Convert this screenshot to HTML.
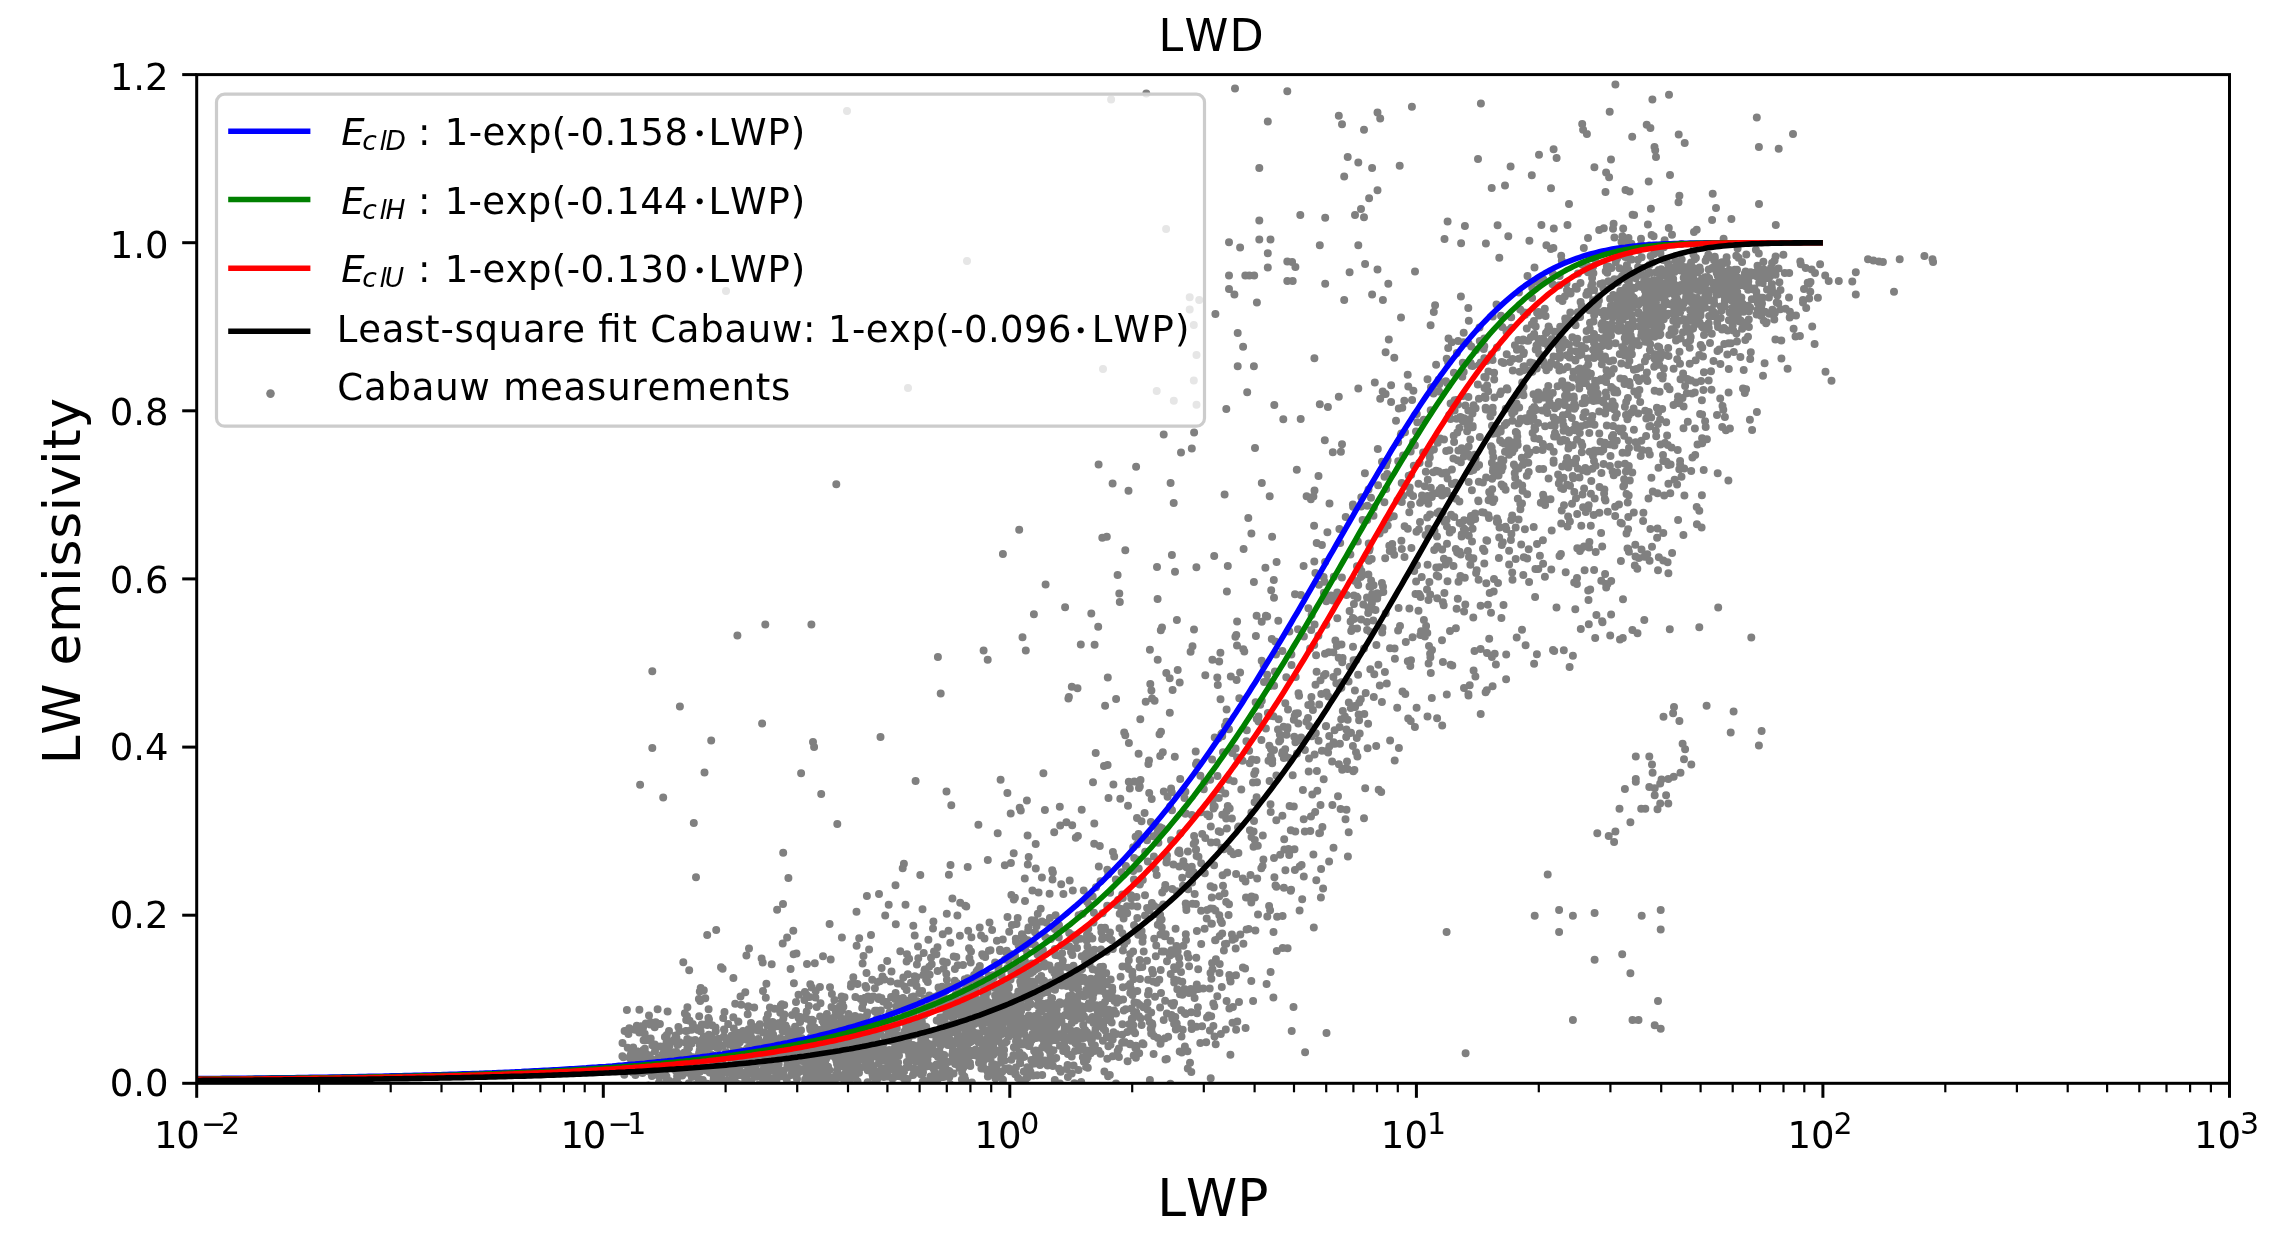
<!DOCTYPE html>
<html><head><meta charset="utf-8"><title>LWD</title>
<style>
html,body{margin:0;padding:0;background:#fff;}
svg{display:block;filter:blur(0.75px);}
text{font-family:"DejaVu Sans","Liberation Sans",sans-serif;fill:#000;font-kerning:none;white-space:pre;}
.it{font-style:oblique;}
</style></head><body>
<svg width="2281" height="1240" viewBox="0 0 2281 1240">
<rect width="2281" height="1240" fill="#fff"/>
<defs><clipPath id="ax"><rect x="196.7" y="74.6" width="2032.8" height="1008.6999999999999"/></clipPath></defs>
<g clip-path="url(#ax)"><path fill="none" stroke="#808080" stroke-width="8.0" stroke-linecap="round" d="M1411.9 106.7h0M1553.6 149.3h0M1556.6 157.9h0M1586.9 134.1h0M1480.9 103.4h0M1583.1 129.7h0M1539.0 154.8h0M1582.2 124.1h0M1650.4 128.1h0M1611.0 159.6h0M1609.7 111.7h0M1687.1 71.9h0M1577.5 62.2h0M1646.7 124.7h0M1615.4 84.6h0M1652.4 99.5h0M1684.7 143.1h0M1669.0 94.8h0M1778.7 148.8h0M1678.7 134.6h0M1758.9 147.1h0M1756.8 117.6h0M1478.0 159.1h0M1531.8 175.3h0M1510.6 166.6h0M1569.0 204.0h0M1551.0 188.2h0M1589.6 267.0h0M1550.8 248.9h0M1631.6 259.4h0M1485.9 243.4h0M1505.0 185.5h0M1625.5 190.1h0M1541.4 225.1h0M1609.1 177.3h0M1491.7 188.0h0M1664.6 240.3h0M1632.2 136.8h0M1615.8 261.9h0M1606.1 172.5h0M1594.4 167.2h0M1660.4 253.2h0M1629.6 191.5h0M1670.0 175.0h0M1656.0 157.0h0M1716.0 208.1h0M1655.2 150.2h0M1605.5 191.9h0M1638.3 250.2h0M1611.5 268.0h0M1632.6 214.7h0M1648.7 181.4h0M1653.6 236.2h0M1654.5 147.1h0M1613.0 228.8h0M1679.4 195.8h0M1649.1 245.5h0M1678.5 202.3h0M1793.0 134.1h0M1805.7 268.0h0M1738.5 257.8h0M1750.2 272.2h0M1712.7 193.7h0M1759.0 203.9h0M1755.9 249.7h0M1464.9 226.1h0M1435.1 305.2h0M1388.8 339.5h0M1430.6 325.3h0M1499.3 257.8h0M1539.0 315.5h0M1447.6 221.6h0M1401.0 317.5h0M1449.1 361.4h0M1508.3 236.2h0M1444.5 239.0h0M1468.3 308.1h0M1461.1 243.3h0M1415.0 271.6h0M1448.5 338.5h0M1501.0 315.8h0M1365.1 263.9h0M1460.9 296.4h0M1456.9 353.1h0M1532.1 298.1h0M1468.8 320.7h0M1544.8 308.8h0M1539.1 282.8h0M1497.6 225.2h0M1580.6 302.0h0M1546.4 245.3h0M1518.9 292.6h0M1629.2 309.1h0M1605.6 324.4h0M1622.9 243.9h0M1594.7 305.5h0M1543.5 279.4h0M1592.4 288.8h0M1561.2 255.8h0M1622.4 236.3h0M1547.6 331.4h0M1475.9 349.9h0M1603.8 228.3h0M1620.2 306.4h0M1580.5 283.0h0M1561.8 260.8h0M1580.1 317.1h0M1543.1 338.7h0M1562.5 300.9h0M1567.5 225.0h0M1527.5 276.0h0M1553.8 228.5h0M1570.3 312.4h0M1534.5 267.4h0M1592.2 283.7h0M1553.4 248.1h0M1533.9 321.0h0M1594.2 315.3h0M1593.5 321.5h0M1620.3 319.9h0M1577.8 312.3h0M1529.4 240.8h0M1523.4 312.2h0M1507.3 330.3h0M1596.1 306.3h0M1592.1 277.9h0M1617.8 282.4h0M1570.1 291.8h0M1518.4 339.9h0M1575.7 286.8h0M1620.2 324.3h0M1603.3 288.3h0M1564.8 296.4h0M1550.5 341.1h0M1619.3 279.0h0M1606.8 266.7h0M1511.2 317.2h0M1631.7 315.0h0M1587.4 292.0h0M1619.3 254.1h0M1549.3 328.5h0M1588.5 293.7h0M1581.6 305.7h0M1588.0 272.2h0M1536.5 345.4h0M1600.3 283.9h0M1545.6 316.1h0M1537.7 348.3h0M1620.3 291.0h0M1532.2 287.8h0M1576.8 288.7h0M1598.8 296.4h0M1566.5 283.4h0M1552.6 284.3h0M1511.5 327.8h0M1552.9 273.7h0M1586.6 330.9h0M1559.6 276.1h0M1582.4 264.7h0M1479.5 327.6h0M1628.2 301.9h0M1496.5 304.6h0M1593.4 338.7h0M1492.8 316.4h0M1583.8 248.0h0M1534.6 280.9h0M1527.4 340.8h0M1564.0 344.9h0M1520.2 309.5h0M1570.3 312.5h0M1565.6 321.8h0M1484.3 358.2h0M1627.0 280.0h0M1576.5 342.9h0M1617.2 315.7h0M1599.2 230.1h0M1695.8 283.0h0M1613.6 305.7h0M1654.3 321.7h0M1652.0 316.9h0M1593.0 300.3h0M1644.9 297.8h0M1660.9 352.1h0M1695.9 281.4h0M1697.0 297.9h0M1653.4 286.6h0M1691.7 280.4h0M1658.6 283.2h0M1721.3 271.9h0M1705.1 277.2h0M1645.3 280.8h0M1692.4 297.0h0M1667.0 270.2h0M1648.8 290.2h0M1689.2 331.4h0M1606.5 327.6h0M1617.8 298.9h0M1677.1 301.3h0M1614.4 279.3h0M1666.6 276.1h0M1684.6 283.5h0M1634.5 301.8h0M1567.0 290.2h0M1638.1 266.9h0M1640.6 319.9h0M1655.9 290.1h0M1604.0 315.9h0M1664.4 303.1h0M1700.4 312.2h0M1689.2 298.4h0M1731.9 286.6h0M1641.3 300.2h0M1641.1 244.6h0M1663.2 259.9h0M1614.4 237.6h0M1605.7 271.3h0M1648.0 317.1h0M1660.2 282.7h0M1623.8 270.1h0M1672.6 334.3h0M1699.5 322.3h0M1652.8 291.8h0M1642.2 268.1h0M1690.1 310.0h0M1667.6 281.4h0M1721.5 265.1h0M1622.7 255.1h0M1648.2 297.5h0M1683.3 288.2h0M1685.9 299.8h0M1633.0 287.7h0M1668.4 291.0h0M1613.7 309.6h0M1581.5 346.0h0M1740.7 280.2h0M1693.4 301.2h0M1712.1 220.0h0M1674.6 321.0h0M1645.8 303.8h0M1637.5 273.5h0M1656.0 302.1h0M1645.6 288.1h0M1727.4 274.3h0M1641.8 274.9h0M1716.6 294.5h0M1687.4 278.5h0M1681.7 259.5h0M1697.9 272.3h0M1646.8 307.6h0M1667.8 303.9h0M1607.3 272.8h0M1644.9 290.5h0M1676.5 325.1h0M1627.1 297.5h0M1699.6 267.4h0M1707.8 279.3h0M1695.3 305.5h0M1635.7 278.3h0M1680.2 312.1h0M1636.8 341.2h0M1673.2 279.1h0M1647.9 296.1h0M1630.2 258.8h0M1673.9 302.1h0M1638.3 304.8h0M1646.0 300.2h0M1692.4 289.1h0M1695.9 258.1h0M1686.3 292.8h0M1663.9 247.3h0M1677.8 306.2h0M1732.7 292.8h0M1653.9 254.1h0M1677.2 306.4h0M1632.1 276.7h0M1668.8 269.0h0M1622.5 307.2h0M1689.9 265.6h0M1628.5 238.0h0M1711.8 268.4h0M1643.4 317.7h0M1726.8 283.3h0M1644.2 287.5h0M1649.4 299.1h0M1726.4 275.4h0M1705.4 283.8h0M1662.3 283.6h0M1602.3 329.6h0M1685.5 286.6h0M1654.2 354.2h0M1668.8 228.1h0M1636.6 302.5h0M1654.0 316.3h0M1657.0 248.8h0M1655.2 318.8h0M1708.3 254.7h0M1650.2 272.8h0M1697.8 290.1h0M1701.3 285.3h0M1668.4 313.8h0M1644.2 280.3h0M1649.9 350.1h0M1652.0 292.3h0M1658.4 297.7h0M1641.0 238.7h0M1650.3 320.9h0M1617.3 301.6h0M1597.1 311.6h0M1641.6 257.3h0M1666.6 258.9h0M1591.2 286.2h0M1719.0 271.6h0M1681.0 285.0h0M1692.6 317.3h0M1651.5 325.1h0M1620.5 306.9h0M1662.3 296.6h0M1623.2 297.7h0M1639.1 303.2h0M1652.8 282.2h0M1688.3 289.1h0M1611.2 286.0h0M1670.3 290.3h0M1623.2 228.4h0M1729.1 279.9h0M1638.7 345.3h0M1654.2 307.9h0M1620.5 296.1h0M1661.3 290.1h0M1671.6 331.6h0M1618.2 306.2h0M1714.0 260.2h0M1664.3 297.1h0M1704.8 244.2h0M1661.2 269.2h0M1664.5 297.6h0M1626.9 296.8h0M1586.3 294.7h0M1652.4 262.5h0M1638.8 313.7h0M1604.8 339.1h0M1652.7 282.4h0M1679.3 286.2h0M1593.0 266.7h0M1650.2 344.2h0M1656.7 329.7h0M1686.9 270.9h0M1677.7 292.2h0M1663.8 319.3h0M1595.0 259.6h0M1613.6 223.7h0M1686.6 330.3h0M1626.6 315.1h0M1720.8 306.4h0M1703.5 285.0h0M1588.0 238.0h0M1598.9 300.4h0M1622.2 311.2h0M1718.1 284.7h0M1671.6 329.2h0M1693.1 302.3h0M1702.2 325.5h0M1674.5 271.9h0M1694.1 319.8h0M1646.1 278.5h0M1687.7 299.5h0M1677.7 263.8h0M1653.4 280.3h0M1653.9 328.4h0M1627.0 315.9h0M1705.1 307.7h0M1654.1 301.1h0M1665.7 301.8h0M1630.2 330.1h0M1562.6 327.4h0M1624.2 328.7h0M1654.2 294.9h0M1650.0 311.4h0M1712.9 315.9h0M1668.2 293.6h0M1668.2 274.5h0M1644.8 320.6h0M1594.1 289.9h0M1625.2 256.9h0M1608.7 266.5h0M1646.4 308.5h0M1654.6 304.0h0M1621.5 242.0h0M1644.1 315.0h0M1714.8 256.8h0M1648.2 302.2h0M1723.6 238.8h0M1626.2 334.5h0M1689.6 277.8h0M1624.2 302.6h0M1612.0 311.0h0M1597.5 337.7h0M1703.0 356.4h0M1657.3 315.3h0M1694.0 231.9h0M1605.0 356.4h0M1734.5 280.9h0M1632.8 297.0h0M1692.8 267.7h0M1627.9 245.3h0M1626.0 303.9h0M1645.8 294.6h0M1672.7 305.2h0M1672.8 293.0h0M1723.1 290.4h0M1644.9 323.0h0M1631.3 306.9h0M1626.9 307.9h0M1651.6 234.9h0M1593.4 273.3h0M1642.7 300.3h0M1676.0 292.8h0M1675.3 266.8h0M1655.9 272.5h0M1717.0 287.5h0M1654.6 303.1h0M1647.9 224.4h0M1689.1 287.0h0M1688.3 320.2h0M1624.1 289.9h0M1644.7 338.5h0M1619.5 268.2h0M1638.0 259.8h0M1721.7 287.4h0M1617.1 258.6h0M1627.1 298.8h0M1647.5 284.6h0M1628.7 324.7h0M1694.3 285.7h0M1653.4 310.0h0M1605.7 326.0h0M1700.7 344.9h0M1673.6 283.5h0M1641.2 335.6h0M1683.9 267.0h0M1693.9 246.5h0M1644.6 281.4h0M1645.6 301.8h0M1702.1 326.8h0M1625.2 332.4h0M1700.6 315.5h0M1680.5 286.4h0M1661.4 326.4h0M1638.9 284.8h0M1649.0 272.4h0M1667.9 273.1h0M1638.4 312.3h0M1606.5 332.7h0M1696.7 229.8h0M1590.0 322.8h0M1693.5 278.7h0M1613.6 313.2h0M1601.0 312.3h0M1712.3 282.4h0M1672.7 269.4h0M1689.6 332.7h0M1619.1 300.8h0M1725.7 276.1h0M1694.6 313.5h0M1602.9 283.3h0M1723.6 279.6h0M1659.8 321.0h0M1680.8 289.0h0M1676.0 340.5h0M1682.9 290.6h0M1650.8 307.3h0M1626.7 330.6h0M1681.6 243.9h0M1652.5 247.6h0M1658.8 269.9h0M1611.0 305.7h0M1626.9 265.0h0M1624.7 338.1h0M1680.0 267.7h0M1618.6 330.8h0M1674.9 295.7h0M1702.0 278.4h0M1667.0 303.2h0M1621.3 307.5h0M1680.7 270.4h0M1615.5 296.7h0M1631.4 243.7h0M1697.7 301.2h0M1655.7 335.1h0M1622.6 319.8h0M1683.6 319.3h0M1691.7 302.5h0M1664.7 288.2h0M1717.7 294.4h0M1671.6 304.7h0M1712.4 289.6h0M1624.5 300.3h0M1650.9 208.7h0M1678.4 339.0h0M1666.4 315.8h0M1613.2 294.9h0M1724.0 271.6h0M1661.4 272.2h0M1626.2 302.7h0M1658.4 316.6h0M1631.9 354.3h0M1659.6 279.1h0M1654.3 248.5h0M1619.0 327.3h0M1626.0 287.4h0M1663.5 290.4h0M1649.5 337.8h0M1686.6 328.0h0M1625.6 306.8h0M1645.3 341.8h0M1635.1 288.0h0M1731.1 297.5h0M1654.4 286.3h0M1606.1 325.4h0M1649.4 265.0h0M1728.6 343.3h0M1651.0 319.8h0M1689.7 347.7h0M1622.2 347.0h0M1622.0 276.2h0M1659.6 335.2h0M1694.3 281.7h0M1633.9 298.1h0M1677.3 306.8h0M1646.5 315.2h0M1648.3 273.3h0M1676.1 285.4h0M1608.4 281.3h0M1639.7 274.3h0M1664.4 303.6h0M1641.6 286.9h0M1628.9 282.2h0M1610.1 298.7h0M1675.3 260.6h0M1628.6 269.9h0M1676.8 298.8h0M1705.7 289.2h0M1656.5 245.7h0M1673.3 320.8h0M1668.1 285.5h0M1686.8 328.5h0M1559.4 285.2h0M1623.3 277.1h0M1662.7 312.5h0M1635.6 273.2h0M1695.7 360.3h0M1650.9 303.0h0M1705.6 260.7h0M1659.9 327.7h0M1701.6 284.9h0M1672.0 234.8h0M1717.9 267.5h0M1641.7 332.2h0M1647.6 286.5h0M1650.7 255.9h0M1630.8 292.7h0M1658.2 292.4h0M1698.2 299.5h0M1577.3 338.8h0M1578.0 273.5h0M1692.5 288.1h0M1620.1 292.6h0M1731.3 277.6h0M1655.1 318.5h0M1672.3 277.1h0M1708.2 279.7h0M1674.6 319.0h0M1634.1 215.1h0M1733.9 284.5h0M1665.3 284.8h0M1668.0 286.5h0M1756.6 314.4h0M1668.1 263.7h0M1719.3 268.5h0M1714.2 303.9h0M1724.9 277.4h0M1752.4 272.8h0M1695.6 309.6h0M1691.2 318.0h0M1731.2 321.3h0M1713.1 245.1h0M1708.4 294.5h0M1745.9 281.8h0M1726.6 257.3h0M1715.6 316.1h0M1722.0 285.4h0M1745.6 271.6h0M1718.0 326.9h0M1789.7 317.6h0M1768.0 274.8h0M1736.7 276.8h0M1742.8 304.0h0M1750.1 307.6h0M1702.7 304.5h0M1697.0 316.5h0M1734.5 317.5h0M1701.6 303.9h0M1711.8 314.4h0M1756.7 276.2h0M1739.3 310.6h0M1724.4 296.3h0M1737.5 295.0h0M1776.7 302.6h0M1780.3 309.3h0M1737.8 316.4h0M1748.1 289.7h0M1743.6 311.8h0M1701.2 280.5h0M1785.6 308.8h0M1759.2 282.4h0M1737.6 248.6h0M1789.2 272.9h0M1739.6 321.4h0M1772.7 270.4h0M1708.7 269.6h0M1683.7 277.7h0M1726.9 262.8h0M1693.4 254.5h0M1736.5 290.3h0M1735.3 272.3h0M1758.8 253.6h0M1737.0 269.7h0M1754.4 288.6h0M1810.3 291.7h0M1772.4 309.7h0M1709.1 316.0h0M1728.9 320.2h0M1803.0 302.4h0M1751.5 275.5h0M1731.4 219.0h0M1804.0 289.0h0M1733.2 330.5h0M1773.2 292.5h0M1727.0 282.8h0M1705.0 291.8h0M1779.4 282.2h0M1740.2 301.3h0M1736.8 304.6h0M1757.8 303.0h0M1766.6 322.2h0M1736.3 255.7h0M1743.3 277.4h0M1700.5 306.9h0M1767.6 278.0h0M1734.7 269.7h0M1757.6 309.7h0M1772.5 270.8h0M1772.1 262.9h0M1771.9 289.0h0M1751.8 299.2h0M1729.6 312.4h0M1775.8 224.9h0M1751.2 274.4h0M1727.3 354.4h0M1707.2 277.0h0M1735.0 303.7h0M1733.0 320.5h0M1762.7 297.8h0M1700.7 310.8h0M1807.7 282.7h0M1681.9 304.7h0M1702.6 288.0h0M1693.1 328.6h0M1728.4 292.3h0M1748.3 281.4h0M1690.9 281.8h0M1762.6 271.3h0M1689.3 284.8h0M1763.7 320.7h0M1765.0 311.7h0M1771.0 267.8h0M1674.3 308.9h0M1771.9 288.0h0M1760.3 278.1h0M1716.7 272.9h0M1694.6 259.3h0M1691.1 262.6h0M1766.0 323.2h0M1724.6 286.8h0M1768.9 297.4h0M1708.7 323.3h0M1686.2 268.7h0M1704.0 335.1h0M1741.4 297.6h0M1708.0 300.4h0M1731.3 300.2h0M1702.3 347.4h0M1731.7 276.1h0M1752.7 289.0h0M1812.2 326.5h0M1678.3 301.2h0M1760.9 297.8h0M1705.6 277.4h0M1747.4 285.1h0M1734.6 290.1h0M1774.6 260.4h0M1748.8 319.5h0M1768.8 274.3h0M1699.3 355.1h0M1683.7 303.3h0M1729.5 269.9h0M1714.9 257.9h0M1711.9 309.2h0M1762.7 283.0h0M1712.6 267.8h0M1742.1 261.9h0M1707.3 296.9h0M1713.9 300.2h0M1700.2 270.3h0M1742.1 328.7h0M1774.8 313.1h0M1769.2 313.8h0M1817.9 297.7h0M1723.9 327.9h0M1775.6 256.4h0M1698.3 323.8h0M1732.3 308.0h0M1756.8 296.0h0M1773.8 272.3h0M1693.8 280.8h0M1744.7 278.5h0M1753.5 289.6h0M1682.7 308.1h0M1734.8 286.3h0M1767.0 289.5h0M1716.9 282.6h0M1735.0 320.1h0M1735.4 295.7h0M1775.4 339.4h0M1746.3 254.5h0M1726.7 275.8h0M1724.8 301.1h0M1733.1 312.0h0M1693.0 278.3h0M1706.8 258.2h0M1737.2 304.9h0M1668.2 348.0h0M1784.8 273.1h0M1741.8 284.9h0M1711.8 316.0h0M1686.6 323.8h0M1679.8 307.9h0M1745.6 286.2h0M1780.5 290.0h0M1809.2 298.4h0M1796.0 315.6h0M1756.3 291.7h0M1815.0 272.9h0M1748.6 286.2h0M1744.1 308.1h0M1741.8 303.0h0M1732.4 280.6h0M1749.0 311.3h0M1723.5 291.4h0M1778.5 268.5h0M1691.5 272.4h0M1724.7 275.8h0M1774.3 319.5h0M1719.4 272.4h0M1738.8 280.9h0M1761.3 306.8h0M1686.1 297.2h0M1775.6 274.8h0M1777.4 295.5h0M1778.3 303.3h0M1724.7 306.2h0M1717.7 275.7h0M1748.0 305.7h0M1720.4 263.6h0M1745.3 340.0h0M1660.4 334.3h0M1686.4 300.5h0M1699.7 290.8h0M1757.5 265.7h0M1683.0 332.2h0M1724.3 343.9h0M1763.6 269.2h0M1744.9 273.3h0M1705.0 297.4h0M1736.6 285.7h0M1789.0 297.5h0M1738.6 284.7h0M1696.2 300.9h0M1771.8 284.0h0M1770.8 291.4h0M1810.5 282.0h0M1737.2 291.9h0M1736.4 298.4h0M1769.2 273.9h0M1770.0 276.6h0M1708.8 328.1h0M1731.9 283.7h0M1763.4 261.7h0M1714.3 260.5h0M1800.3 261.4h0M1711.9 314.2h0M1762.0 303.4h0M1714.0 312.5h0M1722.0 262.3h0M1658.8 307.4h0M1748.9 327.1h0M1732.8 279.5h0M1694.1 321.7h0M1766.0 273.7h0M1698.5 301.6h0M1704.0 304.7h0M1757.1 271.5h0M1722.1 328.7h0M1783.4 254.7h0M1709.1 278.3h0M1738.9 300.1h0M1512.2 413.5h0M1496.9 347.5h0M1523.5 366.5h0M1427.5 379.2h0M1454.6 400.3h0M1463.4 342.3h0M1433.8 312.1h0M1506.6 422.9h0M1430.7 410.3h0M1457.9 404.5h0M1398.8 408.5h0M1501.7 362.0h0M1408.3 386.4h0M1484.3 377.0h0M1457.3 432.5h0M1472.6 365.9h0M1439.1 391.5h0M1471.3 346.5h0M1448.2 347.9h0M1462.3 376.8h0M1459.8 373.9h0M1453.9 372.7h0M1451.7 342.2h0M1450.6 403.5h0M1503.6 363.1h0M1413.4 390.8h0M1516.9 349.8h0M1436.1 364.8h0M1500.1 394.1h0M1491.7 354.3h0M1463.7 332.8h0M1488.4 371.6h0M1462.9 395.9h0M1456.8 400.1h0M1473.6 405.2h0M1407.7 374.8h0M1462.8 362.7h0M1484.3 346.3h0M1458.1 341.1h0M1500.1 440.6h0M1479.2 365.0h0M1445.9 381.3h0M1479.8 341.1h0M1485.6 398.1h0M1470.6 363.1h0M1454.6 410.6h0M1468.3 410.5h0M1446.7 358.8h0M1438.6 379.8h0M1484.8 396.2h0M1492.7 433.7h0M1484.5 387.9h0M1530.8 337.3h0M1448.1 362.2h0M1469.6 419.2h0M1582.4 403.2h0M1574.4 321.1h0M1548.2 346.6h0M1621.8 327.7h0M1565.2 318.4h0M1516.1 405.8h0M1546.4 370.3h0M1597.8 393.7h0M1540.5 339.8h0M1569.4 407.8h0M1586.7 370.7h0M1531.8 324.2h0M1475.6 408.2h0M1564.5 402.1h0M1586.4 339.6h0M1631.8 339.2h0M1487.1 385.4h0M1581.1 426.2h0M1515.8 432.0h0M1522.8 393.3h0M1589.8 387.0h0M1601.5 346.3h0M1548.3 385.9h0M1538.5 312.0h0M1523.2 339.5h0M1603.3 402.3h0M1562.1 347.7h0M1570.2 320.1h0M1530.4 370.5h0M1620.4 302.1h0M1615.5 343.2h0M1612.6 401.5h0M1506.7 354.3h0M1587.9 376.9h0M1521.0 348.9h0M1526.8 328.4h0M1606.1 382.0h0M1613.4 388.9h0M1584.3 383.0h0M1581.4 354.4h0M1516.9 433.1h0M1601.8 364.2h0M1483.4 348.1h0M1619.8 354.1h0M1484.3 338.4h0M1463.7 372.0h0M1494.1 372.8h0M1530.6 420.7h0M1539.4 313.9h0M1582.7 371.8h0M1636.8 369.0h0M1573.7 396.6h0M1598.1 346.5h0M1567.7 414.1h0M1606.8 425.5h0M1514.9 345.3h0M1614.8 405.7h0M1584.9 375.1h0M1538.0 423.0h0M1604.9 412.0h0M1575.1 359.7h0M1504.8 424.9h0M1613.5 328.7h0M1600.2 400.5h0M1527.2 312.7h0M1554.1 436.4h0M1480.7 362.6h0M1519.0 358.8h0M1578.9 355.4h0M1499.7 429.2h0M1579.5 382.0h0M1584.7 403.1h0M1631.3 348.2h0M1534.2 334.0h0M1585.9 383.2h0M1586.0 367.9h0M1578.5 380.2h0M1559.3 298.7h0M1599.5 352.6h0M1492.7 407.8h0M1623.5 348.1h0M1533.5 394.3h0M1566.6 391.2h0M1524.4 366.3h0M1601.4 324.5h0M1468.6 343.4h0M1590.9 373.7h0M1558.3 331.8h0M1614.0 409.3h0M1506.5 331.7h0M1483.7 348.9h0M1543.2 342.4h0M1608.4 341.9h0M1599.2 411.5h0M1534.2 407.0h0M1591.7 419.6h0M1565.0 387.8h0M1606.4 406.1h0M1579.2 386.2h0M1548.0 398.2h0M1588.3 364.4h0M1539.5 338.9h0M1606.5 370.2h0M1511.8 406.3h0M1575.5 360.6h0M1537.1 312.8h0M1566.8 355.2h0M1546.0 332.9h0M1630.2 339.4h0M1555.0 432.9h0M1550.0 343.7h0M1625.6 341.9h0M1471.4 365.8h0M1540.9 360.7h0M1572.4 337.3h0M1606.4 316.2h0M1608.1 336.7h0M1613.8 369.0h0M1516.5 403.5h0M1578.1 369.7h0M1557.7 420.1h0M1559.4 370.4h0M1512.6 359.0h0M1492.6 360.1h0M1603.4 380.4h0M1544.3 364.5h0M1500.7 431.5h0M1534.5 427.4h0M1570.6 293.4h0M1609.2 344.6h0M1567.6 395.7h0M1606.3 396.6h0M1620.6 309.6h0M1494.2 379.5h0M1569.0 344.4h0M1507.5 389.4h0M1539.1 353.8h0M1477.8 384.5h0M1535.2 429.3h0M1543.1 361.3h0M1573.4 407.2h0M1579.8 368.4h0M1594.0 343.1h0M1621.3 363.5h0M1575.6 325.2h0M1574.2 403.8h0M1494.3 397.6h0M1573.6 371.8h0M1567.5 366.9h0M1510.1 361.9h0M1523.8 370.0h0M1585.3 348.3h0M1560.2 326.8h0M1565.6 388.0h0M1593.5 400.9h0M1523.9 352.5h0M1563.1 344.4h0M1548.6 326.4h0M1551.9 339.0h0M1549.0 367.5h0M1602.5 345.6h0M1530.3 362.4h0M1525.1 314.8h0M1586.6 371.1h0M1520.2 421.3h0M1557.6 386.3h0M1533.2 363.2h0M1602.5 360.6h0M1544.0 343.1h0M1567.7 385.4h0M1594.0 358.1h0M1619.5 322.6h0M1570.4 397.0h0M1608.7 346.0h0M1605.1 378.2h0M1532.4 371.8h0M1559.9 354.4h0M1627.2 414.4h0M1595.9 382.9h0M1570.9 350.9h0M1605.8 392.5h0M1521.9 340.8h0M1559.9 357.8h0M1595.2 383.6h0M1551.2 362.3h0M1512.8 370.6h0M1559.0 357.6h0M1533.4 417.4h0M1523.6 387.3h0M1488.4 410.0h0M1556.6 365.0h0M1506.8 388.2h0M1565.4 342.6h0M1505.7 408.7h0M1576.1 351.2h0M1546.4 395.0h0M1558.5 345.2h0M1607.5 376.3h0M1562.9 339.3h0M1609.6 361.3h0M1577.0 439.4h0M1532.5 336.5h0M1563.6 402.0h0M1536.8 368.5h0M1535.7 326.5h0M1578.4 379.4h0M1580.3 376.8h0M1628.9 334.1h0M1593.1 309.3h0M1599.8 354.4h0M1562.2 381.2h0M1560.1 369.2h0M1503.2 362.6h0M1575.4 407.1h0M1538.6 341.5h0M1589.8 329.0h0M1607.2 372.1h0M1633.9 369.8h0M1528.3 340.7h0M1554.4 331.8h0M1523.5 353.9h0M1588.1 400.1h0M1519.2 407.4h0M1559.5 366.8h0M1553.5 356.5h0M1557.9 342.1h0M1571.2 387.2h0M1523.5 395.2h0M1604.0 311.0h0M1601.5 358.0h0M1547.9 330.6h0M1589.5 339.0h0M1594.5 389.6h0M1630.7 335.6h0M1584.4 412.8h0M1620.0 316.6h0M1580.3 353.2h0M1567.6 398.0h0M1532.2 409.0h0M1593.3 394.0h0M1558.7 402.0h0M1519.7 371.8h0M1549.5 402.0h0M1586.7 377.1h0M1606.3 336.5h0M1590.3 420.2h0M1486.4 361.0h0M1546.8 407.0h0M1559.8 349.9h0M1557.3 406.5h0M1609.0 407.8h0M1594.0 334.0h0M1549.9 395.9h0M1594.2 356.3h0M1525.6 418.3h0M1562.2 384.3h0M1537.2 394.6h0M1604.4 327.5h0M1536.5 409.8h0M1502.2 326.9h0M1544.4 365.6h0M1580.4 353.1h0M1593.1 349.7h0M1569.6 357.5h0M1516.7 395.2h0M1572.9 377.4h0M1627.0 339.9h0M1535.7 349.6h0M1523.4 370.2h0M1598.2 380.7h0M1646.8 334.4h0M1649.3 426.5h0M1708.0 329.1h0M1667.4 386.5h0M1693.2 317.6h0M1624.0 378.9h0M1636.9 377.8h0M1616.8 414.1h0M1611.0 335.6h0M1603.9 338.0h0M1606.2 377.1h0M1711.8 333.7h0M1597.7 298.3h0M1615.3 417.5h0M1711.0 371.2h0M1680.5 379.2h0M1644.9 361.2h0M1675.6 315.6h0M1646.9 372.6h0M1688.9 321.1h0M1629.4 382.1h0M1627.9 352.2h0M1679.2 403.3h0M1591.0 392.5h0M1683.1 373.4h0M1659.6 391.7h0M1703.9 372.2h0M1659.6 329.9h0M1645.2 410.7h0M1600.1 356.1h0M1654.9 310.9h0M1654.6 336.8h0M1680.7 338.2h0M1650.9 319.8h0M1660.0 358.5h0M1674.8 331.2h0M1612.6 404.8h0M1626.6 355.6h0M1621.2 314.4h0M1620.6 308.4h0M1702.1 438.3h0M1647.8 324.6h0M1597.8 304.6h0M1638.2 413.6h0M1578.6 379.0h0M1679.5 351.7h0M1669.6 389.2h0M1643.6 378.2h0M1589.5 310.3h0M1647.4 380.9h0M1654.2 366.7h0M1703.2 327.8h0M1654.4 358.4h0M1640.2 367.6h0M1668.5 355.9h0M1612.8 317.4h0M1646.1 436.0h0M1690.1 340.2h0M1602.9 340.0h0M1691.3 320.6h0M1584.2 379.5h0M1624.7 355.5h0M1639.4 326.5h0M1611.2 387.1h0M1663.9 368.6h0M1613.1 360.6h0M1692.1 393.6h0M1673.6 368.8h0M1730.9 343.3h0M1611.2 373.4h0M1723.3 409.8h0M1628.6 355.1h0M1627.9 365.1h0M1654.6 390.7h0M1634.0 326.3h0M1640.2 302.7h0M1579.3 388.4h0M1611.7 323.8h0M1569.1 432.4h0M1679.7 320.7h0M1632.4 307.5h0M1647.5 341.5h0M1650.2 332.7h0M1633.0 344.8h0M1648.3 335.9h0M1606.4 311.3h0M1660.5 376.1h0M1683.6 406.4h0M1602.3 323.1h0M1662.9 308.0h0M1669.3 335.1h0M1639.0 380.9h0M1595.9 388.0h0M1633.0 320.5h0M1677.6 401.5h0M1620.3 378.5h0M1717.5 351.1h0M1563.1 369.6h0M1659.2 347.2h0M1666.0 355.0h0M1588.0 358.5h0M1600.9 379.2h0M1647.5 309.2h0M1657.9 346.6h0M1662.9 375.4h0M1646.2 378.9h0M1659.2 364.7h0M1646.7 357.1h0M1656.2 360.9h0M1629.4 360.9h0M1637.6 395.0h0M1624.5 331.1h0M1645.7 329.6h0M1680.0 363.7h0M1686.1 326.2h0M1795.5 336.4h0M1743.7 370.0h0M1756.4 297.6h0M1721.6 310.5h0M1793.6 328.8h0M1701.0 381.0h0M1749.9 419.8h0M1761.3 316.0h0M1690.4 316.6h0M1659.3 307.8h0M1789.9 311.7h0M1713.5 361.0h0M1740.6 320.4h0M1763.0 375.8h0M1720.4 364.0h0M1733.8 352.1h0M1750.2 359.1h0M1702.1 414.6h0M1727.7 330.4h0M1764.6 363.3h0M1781.3 340.6h0M1734.3 293.7h0M1743.7 322.4h0M1685.1 385.9h0M1737.0 341.6h0M1722.0 329.5h0M1686.1 343.0h0M1677.2 359.3h0M1694.8 392.6h0M1695.1 320.9h0M1732.7 325.4h0M1787.6 368.7h0M1728.6 392.4h0M1696.8 313.2h0M1831.5 380.7h0M1748.0 336.7h0M1740.4 357.0h0M1687.8 295.1h0M1745.7 323.5h0M1714.0 302.6h0M1720.7 318.0h0M1689.7 363.7h0M1708.7 380.5h0M1728.8 368.9h0M1736.4 333.4h0M1781.4 358.4h0M1710.0 342.9h0M1677.3 302.4h0M1744.8 393.0h0M1750.8 352.3h0M1690.7 336.9h0M1799.9 336.0h0M1729.9 428.4h0M1719.3 349.5h0M1717.2 322.8h0M1181.0 452.4h0M1098.6 464.6h0M1112.6 483.5h0M1163.7 434.5h0M1128.5 490.7h0M1170.6 483.0h0M1173.8 400.8h0M1156.7 391.0h0M1191.8 448.5h0M1248.3 518.0h0M1296.8 469.8h0M1255.0 448.0h0M1194.1 432.4h0M1224.6 494.5h0M1274.3 404.9h0M1283.3 419.3h0M1247.2 392.2h0M1269.7 496.3h0M1318.5 475.9h0M1324.8 440.3h0M1398.2 442.3h0M1387.1 461.8h0M1414.7 466.1h0M1300.7 419.1h0M1384.5 476.7h0M1340.9 451.8h0M1306.6 496.2h0M1361.3 497.3h0M1382.7 391.6h0M1400.8 434.8h0M1342.0 444.3h0M1439.6 489.7h0M1401.8 502.0h0M1387.6 459.9h0M1332.8 452.2h0M1310.9 499.2h0M1433.3 472.2h0M1502.7 467.1h0M1386.2 489.0h0M1498.6 475.6h0M1473.8 463.6h0M1517.3 436.4h0M1444.0 439.5h0M1382.0 461.7h0M1485.7 377.5h0M1461.7 448.3h0M1422.0 495.4h0M1507.0 443.9h0M1453.7 435.8h0M1451.9 469.5h0M1447.2 383.0h0M1485.8 409.6h0M1465.3 453.1h0M1449.2 415.1h0M1402.3 407.8h0M1451.1 514.8h0M1482.9 482.5h0M1522.4 419.2h0M1492.2 489.2h0M1454.3 517.1h0M1456.1 498.8h0M1485.6 407.7h0M1536.1 449.9h0M1412.1 400.1h0M1459.4 427.9h0M1416.8 413.9h0M1364.9 473.2h0M1499.2 465.0h0M1443.8 473.1h0M1439.3 384.2h0M1501.5 484.5h0M1413.8 465.7h0M1478.5 501.2h0M1470.3 439.5h0M1489.2 492.1h0M1490.9 446.2h0M1428.4 503.7h0M1446.6 519.8h0M1424.5 420.3h0M1424.8 486.3h0M1494.3 499.2h0M1367.3 505.8h0M1514.5 411.4h0M1430.0 451.9h0M1513.7 442.3h0M1468.4 397.0h0M1411.2 474.8h0M1471.0 516.1h0M1529.6 452.6h0M1432.4 494.7h0M1449.4 450.3h0M1467.3 424.9h0M1538.7 399.6h0M1403.2 495.7h0M1436.0 470.7h0M1492.9 471.2h0M1465.4 405.5h0M1430.8 487.8h0M1466.1 450.7h0M1385.6 393.9h0M1414.9 445.2h0M1470.6 470.9h0M1431.0 387.3h0M1464.1 520.2h0M1432.8 388.8h0M1433.9 449.5h0M1463.9 456.6h0M1408.7 475.8h0M1507.4 451.8h0M1384.4 502.3h0M1446.6 472.4h0M1522.9 464.7h0M1438.6 512.4h0M1452.2 496.1h0M1457.6 460.2h0M1473.4 470.1h0M1459.4 501.4h0M1453.4 458.5h0M1396.0 420.8h0M1450.5 419.1h0M1416.0 431.5h0M1479.8 437.1h0M1440.1 438.5h0M1456.7 418.7h0M1430.0 514.6h0M1425.8 471.7h0M1413.1 441.9h0M1503.7 486.1h0M1491.7 447.4h0M1423.8 419.7h0M1479.1 465.0h0M1470.5 456.9h0M1511.0 448.6h0M1486.1 477.5h0M1502.1 442.6h0M1451.9 484.1h0M1437.2 492.9h0M1421.6 501.1h0M1526.8 475.8h0M1419.6 462.8h0M1527.2 421.3h0M1517.3 441.6h0M1462.8 421.0h0M1501.1 391.5h0M1401.3 433.4h0M1472.7 426.0h0M1446.8 491.1h0M1488.2 391.3h0M1446.2 451.0h0M1535.4 410.2h0M1447.6 478.6h0M1398.2 461.2h0M1492.9 502.1h0M1410.7 451.6h0M1509.1 454.8h0M1475.6 458.9h0M1442.6 512.2h0M1460.4 417.0h0M1387.2 474.1h0M1413.1 495.9h0M1429.8 457.6h0M1442.0 495.5h0M1446.0 493.3h0M1427.8 479.8h0M1442.6 495.1h0M1437.7 442.8h0M1468.7 446.6h0M1490.5 494.7h0M1403.1 455.4h0M1474.6 454.8h0M1467.1 431.2h0M1404.3 400.8h0M1433.5 393.5h0M1523.7 462.1h0M1428.6 463.7h0M1405.0 432.3h0M1472.7 427.2h0M1393.8 516.3h0M1417.3 422.2h0M1454.1 442.0h0M1468.7 482.0h0M1497.3 433.4h0M1377.8 449.1h0M1423.1 452.4h0M1472.5 413.4h0M1437.3 513.0h0M1558.8 483.4h0M1567.2 484.8h0M1619.0 504.6h0M1582.7 470.3h0M1570.0 430.9h0M1552.4 405.4h0M1613.7 475.3h0M1554.1 423.7h0M1492.7 412.7h0M1601.4 451.6h0M1491.9 462.8h0M1563.6 439.7h0M1575.5 424.8h0M1542.3 410.5h0M1547.4 412.9h0M1568.5 467.4h0M1528.3 462.8h0M1622.5 452.8h0M1543.9 397.6h0M1562.6 420.7h0M1553.7 417.6h0M1550.5 499.3h0M1544.9 500.4h0M1555.0 408.3h0M1543.7 497.0h0M1570.0 485.8h0M1563.4 425.2h0M1579.8 433.1h0M1499.4 468.2h0M1574.3 408.7h0M1534.3 438.2h0M1518.3 483.1h0M1601.4 472.9h0M1538.3 392.4h0M1521.8 457.8h0M1609.9 466.1h0M1522.0 503.6h0M1543.2 469.1h0M1542.6 450.0h0M1501.2 459.4h0M1624.1 485.5h0M1565.0 395.8h0M1575.1 463.6h0M1594.0 461.0h0M1492.0 425.7h0M1549.8 446.8h0M1561.1 488.0h0M1504.0 443.6h0M1551.0 425.2h0M1538.9 439.1h0M1493.3 457.1h0M1532.6 432.9h0M1503.4 460.6h0M1576.1 458.8h0M1553.6 462.7h0M1546.5 390.9h0M1500.7 429.3h0M1572.8 445.3h0M1552.8 392.9h0M1526.8 448.4h0M1490.4 416.4h0M1604.8 445.0h0M1563.5 430.7h0M1539.3 469.1h0M1528.7 471.9h0M1573.9 398.4h0M1553.6 460.4h0M1520.6 418.8h0M1554.7 425.9h0M1522.2 485.4h0M1616.4 390.5h0M1603.3 449.8h0M1522.2 382.4h0M1476.8 467.1h0M1507.1 443.6h0M1564.0 505.3h0M1571.9 418.0h0M1505.0 451.8h0M1518.6 468.6h0M1495.4 475.6h0M1530.2 413.3h0M1604.8 499.0h0M1575.0 430.3h0M1478.9 398.8h0M1517.7 445.1h0M1524.9 462.1h0M1528.0 454.4h0M1505.6 489.8h0M1542.9 444.1h0M1514.5 448.8h0M1508.8 440.5h0M1545.1 426.3h0M1512.3 420.7h0M1492.5 452.1h0M1562.9 415.2h0M1556.7 436.5h0M1518.5 423.6h0M1463.9 418.2h0M1567.0 457.9h0M1581.3 442.8h0M1584.1 488.5h0M1589.3 432.9h0M1588.0 509.0h0M1568.9 444.8h0M1522.6 490.7h0M1517.8 498.7h0M1548.6 478.5h0M1604.4 489.6h0M1592.9 455.8h0M1573.2 478.2h0M1527.2 494.2h0M1553.7 451.8h0M1560.2 479.3h0M1589.7 451.8h0M1585.3 467.9h0M1568.4 448.5h0M1515.5 466.8h0M1468.6 454.5h0M1539.7 394.4h0M1566.0 462.9h0M1595.6 465.8h0M1458.4 450.6h0M1512.4 452.2h0M1492.1 478.8h0M1501.5 470.5h0M1563.2 489.0h0M1560.6 441.5h0M1594.7 498.4h0M1582.3 445.4h0M1520.4 509.3h0M1562.2 466.6h0M1513.9 464.6h0M1543.1 494.8h0M1536.1 399.6h0M1574.3 492.0h0M1667.8 444.9h0M1626.0 415.1h0M1610.2 444.4h0M1639.4 389.9h0M1663.0 455.1h0M1585.5 412.3h0M1643.1 521.0h0M1594.4 450.4h0M1633.9 429.8h0M1660.5 444.6h0M1635.7 442.3h0M1656.2 436.2h0M1631.2 412.8h0M1722.5 406.0h0M1640.2 402.1h0M1725.9 430.2h0M1625.0 463.7h0M1607.8 511.7h0M1666.5 461.8h0M1703.7 470.1h0M1695.7 382.5h0M1643.4 512.8h0M1722.2 426.9h0M1660.1 419.4h0M1624.9 406.8h0M1611.6 444.4h0M1624.5 384.0h0M1613.1 435.0h0M1595.0 393.6h0M1616.8 440.8h0M1706.9 439.3h0M1662.6 378.5h0M1628.8 466.0h0M1566.3 440.8h0M1584.7 398.1h0M1658.5 467.8h0M1648.5 450.7h0M1585.8 424.8h0M1600.5 441.7h0M1592.4 468.7h0M1673.5 405.1h0M1679.3 469.3h0M1627.2 452.7h0M1651.4 477.8h0M1611.9 437.1h0M1569.2 462.3h0M1632.3 472.5h0M1623.3 486.5h0M1583.2 417.1h0M1649.8 454.5h0M1640.7 456.0h0M1677.7 450.1h0M1634.3 391.4h0M1625.9 471.6h0M1657.9 424.1h0M1604.9 442.7h0M1667.1 435.6h0M1633.6 408.5h0M1610.5 456.1h0M1618.2 464.4h0M1622.6 428.4h0M1682.5 398.0h0M1629.8 385.2h0M1573.6 429.6h0M1613.0 425.9h0M1662.2 409.0h0M1703.4 390.1h0M1581.8 452.2h0M1595.1 380.7h0M1648.8 412.0h0M1599.3 433.5h0M1604.1 493.6h0M1594.5 424.8h0M1614.3 392.2h0M1629.8 480.5h0M1705.1 421.3h0M1683.5 428.3h0M1564.7 405.0h0M1629.0 448.0h0M1565.6 428.9h0M1598.3 450.7h0M1626.2 402.1h0M1637.3 447.7h0M1624.2 435.8h0M1684.2 468.4h0M1627.9 397.9h0M1702.2 443.2h0M1618.4 428.4h0M1674.6 479.8h0M1641.4 440.7h0M1603.6 463.9h0M1651.2 417.6h0M1596.8 451.5h0M1666.2 422.3h0M1668.4 465.0h0M1720.2 398.4h0M1605.2 413.6h0M1700.1 414.1h0M1681.5 476.8h0M1664.9 443.1h0M1620.5 431.4h0M1579.5 477.4h0M1628.7 415.3h0M1678.0 396.4h0M1614.4 445.6h0M1655.9 430.7h0M1656.9 407.8h0M1617.3 392.6h0M1717.7 473.2h0M1691.2 470.9h0M1642.2 450.2h0M1658.3 412.3h0M1687.4 379.0h0M1596.3 400.6h0M1592.3 416.0h0M1680.1 464.4h0M1646.3 418.4h0M1650.3 426.0h0M1652.8 491.4h0M1687.8 421.7h0M1663.7 461.1h0M1628.7 440.6h0M1627.4 419.2h0M1587.1 471.6h0M1590.4 423.7h0M1711.5 389.7h0M1756.9 412.0h0M1743.0 388.5h0M1724.9 417.1h0M1671.5 447.5h0M1697.5 444.6h0M1695.2 455.0h0M1701.9 400.2h0M1680.1 461.1h0M1746.1 389.3h0M1694.9 428.4h0M1705.7 427.1h0M1752.1 430.1h0M1692.4 457.6h0M1686.8 393.2h0M1717.0 414.9h0M1691.0 380.5h0M1728.4 480.5h0M1019.2 529.8h0M1106.8 536.8h0M1002.9 554.1h0M1175.0 571.7h0M1125.3 550.2h0M1102.3 537.7h0M1173.7 503.1h0M1157.0 566.9h0M1136.1 466.7h0M1313.4 496.4h0M1214.2 556.0h0M1251.4 533.4h0M1271.2 590.3h0M1327.4 532.2h0M1276.6 561.9h0M1243.6 548.9h0M1273.8 580.0h0M1272.1 536.7h0M1196.4 567.3h0M1389.8 550.9h0M1338.7 595.7h0M1371.7 586.2h0M1321.9 545.0h0M1353.9 595.4h0M1384.4 529.5h0M1407.8 528.7h0M1314.5 490.6h0M1392.6 549.6h0M1434.2 549.9h0M1377.7 595.0h0M1418.5 483.8h0M1352.9 504.4h0M1361.2 506.6h0M1314.3 561.5h0M1369.2 550.5h0M1357.6 583.8h0M1300.9 595.0h0M1353.1 506.8h0M1368.7 543.5h0M1387.7 525.6h0M1314.1 525.8h0M1357.8 541.5h0M1303.6 565.9h0M1368.5 489.4h0M1316.7 542.9h0M1355.0 580.9h0M1356.5 596.5h0M1318.9 584.7h0M1324.5 581.7h0M1401.8 549.0h0M1365.6 557.9h0M1327.7 595.9h0M1339.4 528.9h0M1427.2 517.6h0M1325.1 562.0h0M1397.4 500.4h0M1368.4 574.4h0M1360.7 577.1h0M1329.5 503.4h0M1323.6 576.9h0M1371.7 559.0h0M1410.9 504.7h0M1345.7 516.9h0M1359.6 567.5h0M1350.4 554.5h0M1389.1 517.8h0M1372.2 594.0h0M1377.3 593.3h0M1409.4 608.6h0M1261.8 483.0h0M1404.5 556.9h0M1379.6 533.4h0M1340.2 543.1h0M1385.2 558.2h0M1373.8 507.4h0M1315.4 573.1h0M1371.0 497.8h0M1362.6 520.1h0M1437.4 546.6h0M1524.9 529.3h0M1426.2 498.8h0M1478.2 500.6h0M1521.2 544.4h0M1458.5 581.8h0M1429.4 581.9h0M1458.2 553.0h0M1371.1 580.4h0M1436.7 575.6h0M1502.8 542.2h0M1445.6 564.6h0M1473.4 558.3h0M1459.9 554.1h0M1472.0 541.4h0M1453.5 566.1h0M1520.3 503.7h0M1465.2 529.7h0M1409.3 512.3h0M1484.4 551.0h0M1444.6 522.0h0M1459.7 551.7h0M1401.4 540.8h0M1512.5 579.8h0M1528.7 549.2h0M1442.2 549.6h0M1499.5 527.5h0M1473.2 558.7h0M1434.5 531.0h0M1452.1 530.0h0M1484.3 563.6h0M1443.9 558.8h0M1418.9 529.4h0M1386.1 465.4h0M1389.3 545.8h0M1362.3 575.4h0M1420.0 522.0h0M1515.2 477.8h0M1421.7 577.1h0M1496.9 522.0h0M1514.7 485.5h0M1436.3 567.6h0M1472.6 528.7h0M1486.3 583.3h0M1392.2 543.9h0M1436.9 547.2h0M1498.0 583.0h0M1475.2 518.9h0M1378.1 485.3h0M1438.4 513.3h0M1373.5 515.7h0M1482.1 512.3h0M1447.3 560.9h0M1442.0 473.6h0M1441.3 488.1h0M1369.5 586.4h0M1449.7 532.5h0M1438.3 576.5h0M1383.3 592.0h0M1469.0 557.1h0M1420.1 502.7h0M1463.8 528.4h0M1461.6 523.9h0M1420.6 596.9h0M1367.2 520.0h0M1404.6 526.2h0M1511.2 520.1h0M1411.4 547.9h0M1523.3 575.0h0M1510.9 540.0h0M1455.4 482.7h0M1467.9 550.9h0M1461.6 536.5h0M1478.6 579.7h0M1460.9 462.3h0M1409.7 487.5h0M1409.9 492.9h0M1488.6 500.3h0M1419.9 595.5h0M1503.5 604.9h0M1505.5 526.7h0M1461.7 534.4h0M1446.9 526.6h0M1476.7 570.2h0M1512.2 515.6h0M1438.6 471.6h0M1478.8 481.7h0M1501.8 544.9h0M1457.1 552.2h0M1428.5 528.8h0M1437.0 536.5h0M1498.1 521.5h0M1439.3 567.3h0M1439.3 511.4h0M1483.7 512.6h0M1509.1 550.7h0M1419.2 463.1h0M1471.9 490.3h0M1506.3 529.0h0M1369.7 548.5h0M1543.1 563.8h0M1416.5 531.7h0M1427.1 498.7h0M1460.4 576.0h0M1427.5 496.0h0M1427.6 564.8h0M1417.0 565.3h0M1497.0 518.5h0M1401.7 483.0h0M1470.9 517.0h0M1425.6 535.0h0M1459.6 522.9h0M1499.2 537.6h0M1483.0 548.7h0M1455.8 548.9h0M1394.2 554.8h0M1431.8 496.9h0M1515.7 527.5h0M1447.0 543.7h0M1470.7 522.1h0M1468.8 535.8h0M1475.1 513.6h0M1561.2 523.4h0M1583.1 507.3h0M1542.9 540.2h0M1503.2 486.7h0M1633.8 512.5h0M1527.2 558.5h0M1512.2 572.6h0M1511.4 534.1h0M1545.1 505.0h0M1551.3 569.6h0M1537.0 543.9h0M1567.5 526.4h0M1540.8 502.8h0M1563.6 477.8h0M1623.0 599.2h0M1561.7 510.6h0M1493.2 468.6h0M1560.9 553.9h0M1551.7 530.6h0M1529.1 582.0h0M1585.8 511.9h0M1590.8 525.8h0M1509.1 564.6h0M1539.9 555.7h0M1498.9 558.0h0M1486.4 540.3h0M1588.7 505.2h0M1518.6 519.5h0M1620.6 522.8h0M1489.0 518.0h0M1544.9 576.8h0M1558.1 474.6h0M1574.2 582.6h0M1577.8 468.5h0M1488.4 515.3h0M1514.7 473.2h0M1523.8 557.3h0M1593.7 514.9h0M1535.4 569.0h0M1487.2 540.7h0M1572.7 476.1h0M1589.0 547.4h0M1533.7 526.9h0M1470.4 564.8h0M1599.5 486.9h0M1568.1 516.6h0M1581.3 525.7h0M1657.5 528.6h0M1591.3 481.1h0M1627.7 502.5h0M1701.6 527.4h0M1663.3 461.1h0M1699.3 510.7h0M1658.8 557.2h0M1626.5 493.9h0M1652.0 546.8h0M1599.4 512.7h0M1581.4 548.4h0M1582.5 494.6h0M1628.2 549.1h0M1626.5 533.6h0M1672.1 552.9h0M1648.5 498.6h0M1576.9 583.9h0M1635.3 544.7h0M1590.9 493.7h0M1628.1 529.3h0M1601.1 533.1h0M1607.5 584.1h0M1628.3 516.9h0M1657.5 493.3h0M1657.1 537.7h0M1621.8 523.6h0M1559.5 556.0h0M1668.4 483.7h0M1594.1 569.9h0M1627.5 548.5h0M1683.4 535.0h0M1684.4 495.5h0M1637.3 568.7h0M1620.9 561.1h0M1677.1 484.6h0M1579.9 550.9h0M1634.8 565.4h0M1577.0 578.0h0M1647.3 554.2h0M1635.5 556.4h0M1624.1 479.3h0M1602.2 546.6h0M1577.2 514.0h0M1638.8 558.0h0M1670.6 464.5h0M1641.5 549.5h0M1701.9 495.3h0M1569.9 521.5h0M1605.5 500.6h0M1576.0 498.2h0M1595.7 551.9h0M1589.4 542.0h0M1617.3 472.5h0M1628.7 495.4h0M1678.1 520.0h0M1572.0 503.7h0M1664.2 495.6h0M1668.4 573.2h0M1649.6 560.8h0M1670.3 493.3h0M1611.2 581.0h0M1644.4 556.7h0M1612.6 471.4h0M1650.4 529.1h0M1615.1 506.8h0M1628.9 551.7h0M1615.2 516.1h0M1696.9 524.2h0M1667.6 562.3h0M1663.3 532.9h0M1696.7 507.0h0M1065.1 607.2h0M983.6 650.5h0M987.7 659.7h0M1045.6 584.5h0M1022.5 637.2h0M1119.3 593.5h0M1033.9 614.2h0M1107.8 677.6h0M1025.8 650.5h0M1172.6 690.0h0M1166.3 673.0h0M1157.6 598.9h0M1176.9 620.0h0M1080.8 644.4h0M1169.7 678.2h0M1171.9 554.9h0M1117.6 575.1h0M1149.9 649.7h0M1227.8 566.1h0M1091.3 613.6h0M1162.0 627.5h0M1160.8 630.2h0M1119.8 602.1h0M1098.2 626.8h0M1338.7 657.8h0M1263.6 665.1h0M1323.9 592.8h0M1267.2 616.5h0M1237.0 645.5h0M1237.1 621.5h0M1255.9 636.0h0M1194.0 629.4h0M1265.4 567.7h0M1256.6 615.8h0M1270.0 685.9h0M1220.5 699.2h0M1303.9 636.5h0M1243.3 649.3h0M1230.8 676.6h0M1226.9 591.5h0M1261.7 621.7h0M1253.9 582.1h0M1274.0 597.8h0M1235.4 636.7h0M1236.3 634.9h0M1265.9 615.7h0M1192.5 646.3h0M1314.6 624.5h0M1271.8 638.9h0M1370.4 631.9h0M1375.5 610.1h0M1333.4 677.0h0M1350.6 621.6h0M1291.5 664.9h0M1357.5 597.7h0M1394.6 648.5h0M1353.5 660.2h0M1326.3 601.3h0M1383.0 586.7h0M1349.8 666.8h0M1390.0 648.2h0M1371.3 599.1h0M1333.8 576.7h0M1405.8 642.1h0M1407.8 661.3h0M1429.0 646.1h0M1416.1 581.5h0M1325.0 653.7h0M1410.3 665.9h0M1377.2 598.4h0M1341.5 644.4h0M1341.9 577.5h0M1298.0 629.2h0M1373.3 620.4h0M1437.2 598.3h0M1361.4 570.9h0M1415.5 594.0h0M1357.0 566.2h0M1318.4 635.7h0M1316.1 655.2h0M1363.3 604.6h0M1367.1 630.1h0M1337.2 592.4h0M1411.0 660.3h0M1352.3 628.5h0M1289.4 631.6h0M1374.3 674.2h0M1376.4 645.1h0M1336.8 646.1h0M1385.7 613.2h0M1367.0 597.6h0M1369.7 610.2h0M1332.8 600.6h0M1353.9 604.0h0M1311.2 630.1h0M1371.9 603.3h0M1278.3 620.8h0M1420.4 634.9h0M1352.8 617.9h0M1320.5 680.2h0M1349.6 610.9h0M1337.3 618.2h0M1295.0 594.3h0M1326.3 624.7h0M1337.4 671.7h0M1386.8 683.6h0M1398.1 630.6h0M1423.9 620.1h0M1311.6 615.0h0M1308.4 608.2h0M1358.2 585.0h0M1357.1 628.4h0M1346.6 595.1h0M1335.4 640.5h0M1341.4 682.3h0M1342.6 658.1h0M1373.6 585.3h0M1426.1 626.0h0M1331.0 595.5h0M1364.0 648.4h0M1361.2 619.5h0M1368.9 560.8h0M1351.2 631.1h0M1295.7 676.9h0M1368.2 607.2h0M1366.9 622.1h0M1314.2 645.0h0M1354.0 619.1h0M1378.4 664.8h0M1480.6 605.7h0M1450.0 630.9h0M1465.3 604.5h0M1432.0 649.9h0M1382.5 628.1h0M1421.1 631.3h0M1494.0 578.9h0M1412.6 637.2h0M1522.0 629.8h0M1368.2 613.0h0M1480.6 649.1h0M1414.2 571.0h0M1447.5 581.3h0M1427.3 633.1h0M1516.7 637.5h0M1418.5 610.8h0M1473.3 617.6h0M1464.8 577.7h0M1430.8 673.0h0M1450.6 664.7h0M1384.9 671.9h0M1535.1 597.0h0M1419.0 594.1h0M1457.8 598.8h0M1494.7 653.8h0M1491.0 612.8h0M1460.7 554.6h0M1455.9 628.2h0M1430.2 594.4h0M1493.7 591.4h0M1419.1 594.7h0M1427.0 589.5h0M1489.7 593.1h0M1452.3 665.5h0M1430.1 653.8h0M1487.0 653.0h0M1442.9 602.2h0M1456.6 608.7h0M1487.9 604.8h0M1424.9 636.5h0M1464.1 611.4h0M1442.0 640.3h0M1444.4 593.0h0M1381.9 582.9h0M1400.0 625.9h0M1428.5 600.1h0M1489.2 638.7h0M1443.7 605.2h0M1448.6 560.7h0M1398.6 608.0h0M1525.6 645.2h0M1556.5 607.5h0M1611.1 614.4h0M1476.1 573.1h0M1584.0 546.5h0M1577.3 548.3h0M1536.9 654.2h0M1501.4 617.9h0M1596.4 615.1h0M1538.3 569.1h0M1588.2 590.4h0M1515.7 559.0h0M1553.4 650.5h0M1474.5 651.1h0M1605.1 573.9h0M1595.2 638.1h0M1669.8 629.3h0M1606.1 583.9h0M1602.5 622.3h0M1699.3 627.2h0M1580.8 629.1h0M1663.3 560.6h0M1584.6 570.2h0M1601.3 580.7h0M1620.0 639.6h0M1590.2 589.6h0M1606.2 587.5h0M1610.2 635.4h0M1565.7 572.2h0M1637.5 633.2h0M1658.0 570.3h0M1588.8 624.2h0M1602.1 621.2h0M1575.3 609.2h0M1644.3 620.1h0M1588.5 600.1h0M1718.2 607.4h0M1094.6 644.7h0M1068.9 697.1h0M1116.1 699.1h0M1195.7 751.6h0M1149.0 760.4h0M1068.4 698.6h0M1152.1 698.6h0M1205.3 675.3h0M1214.7 737.5h0M1145.7 701.7h0M1219.2 661.6h0M1161.0 731.8h0M1105.1 705.7h0M1140.3 719.3h0M1154.6 700.7h0M1151.4 690.4h0M1177.7 669.9h0M1159.5 734.3h0M1148.4 764.1h0M1077.5 688.2h0M1157.7 659.7h0M1150.3 683.9h0M1169.8 712.8h0M1071.8 686.8h0M1212.4 659.8h0M1226.6 709.6h0M1240.1 672.4h0M1179.7 682.4h0M1258.5 716.4h0M1267.2 674.7h0M1286.3 677.2h0M1217.8 684.9h0M1258.6 721.6h0M1292.7 775.2h0M1218.5 738.3h0M1261.8 700.8h0M1190.6 651.8h0M1252.0 759.5h0M1299.1 695.8h0M1249.8 763.3h0M1282.4 650.9h0M1226.5 721.7h0M1236.6 679.9h0M1321.9 750.7h0M1326.5 692.4h0M1294.7 715.7h0M1261.4 740.0h0M1222.2 736.3h0M1264.0 682.1h0M1316.9 770.9h0M1274.1 685.8h0M1275.3 641.4h0M1310.1 648.5h0M1269.4 681.9h0M1297.9 713.2h0M1267.9 713.1h0M1217.3 677.6h0M1298.3 723.5h0M1244.3 651.4h0M1293.8 719.8h0M1284.7 755.2h0M1260.2 704.8h0M1255.6 702.2h0M1256.7 719.1h0M1297.0 753.6h0M1242.6 760.8h0M1220.4 652.8h0M1246.8 730.3h0M1239.3 698.3h0M1321.3 694.0h0M1309.0 758.4h0M1229.0 729.2h0M1308.3 705.1h0M1280.2 740.2h0M1339.6 727.1h0M1342.8 711.0h0M1326.4 751.0h0M1398.9 748.0h0M1304.9 750.1h0M1316.6 671.8h0M1359.2 702.4h0M1338.9 764.3h0M1347.7 719.7h0M1328.1 752.6h0M1358.1 674.8h0M1301.1 737.5h0M1359.7 733.5h0M1342.2 662.3h0M1283.6 726.7h0M1287.5 727.3h0M1333.6 742.2h0M1348.8 702.5h0M1298.5 693.2h0M1350.8 708.0h0M1344.9 716.6h0M1334.9 743.8h0M1325.9 726.3h0M1370.3 669.3h0M1353.0 646.8h0M1358.6 714.5h0M1351.0 732.8h0M1288.0 709.6h0M1276.0 654.6h0M1278.0 729.6h0M1325.5 673.9h0M1311.4 696.9h0M1329.3 746.5h0M1274.9 671.4h0M1410.7 720.9h0M1311.7 736.2h0M1354.8 706.1h0M1394.9 658.8h0M1341.2 719.3h0M1336.3 683.2h0M1261.7 660.8h0M1332.1 761.5h0M1271.1 685.5h0M1356.0 752.2h0M1431.8 698.1h0M1312.9 710.1h0M1291.4 654.4h0M1306.4 721.8h0M1397.2 707.8h0M1315.8 733.2h0M1356.8 738.0h0M1408.2 718.5h0M1355.1 707.1h0M1402.5 691.4h0M1365.7 693.0h0M1273.4 716.3h0M1324.0 675.4h0M1357.4 756.5h0M1286.5 734.8h0M1364.3 714.1h0M1295.7 713.4h0M1294.3 736.7h0M1310.9 703.9h0M1328.3 696.4h0M1379.8 685.4h0M1354.9 690.6h0M1373.8 697.1h0M1347.0 761.4h0M1315.5 684.8h0M1285.3 703.2h0M1309.2 726.0h0M1416.6 707.7h0M1340.1 688.4h0M1405.3 694.0h0M1414.9 727.0h0M1269.4 715.8h0M1368.1 723.7h0M1287.4 729.1h0M1328.8 652.2h0M1334.6 730.2h0M1356.3 660.0h0M1319.2 704.5h0M1376.2 746.1h0M1382.2 632.4h0M1341.4 687.7h0M1381.9 702.0h0M1308.0 717.9h0M1333.4 652.2h0M1326.1 725.9h0M1367.6 748.2h0M1346.2 736.9h0M1348.6 681.4h0M1279.8 734.5h0M1339.9 743.7h0M1360.8 699.2h0M1446.8 694.6h0M1442.2 725.5h0M1506.1 679.2h0M1469.7 685.3h0M1464.0 688.1h0M1430.4 657.3h0M1468.5 695.6h0M1485.6 692.2h0M1437.1 718.3h0M1468.4 694.2h0M1475.4 676.6h0M1495.9 664.5h0M1473.6 670.5h0M1428.6 663.4h0M1452.3 665.6h0M1427.5 716.4h0M1442.9 662.1h0M1563.8 650.3h0M1486.8 690.3h0M1506.2 654.4h0M1553.0 649.9h0M1554.2 651.0h0M1534.1 663.8h0M1480.7 714.1h0M1569.6 667.0h0M1492.6 686.2h0M1491.9 656.9h0M1663.5 716.7h0M1632.4 629.9h0M1622.8 637.9h0M1572.9 655.8h0M1673.1 713.3h0M1679.4 721.0h0M1682.6 743.7h0M1674.0 707.1h0M1730.7 732.5h0M1751.3 637.4h0M1706.6 705.7h0M1733.6 711.5h0M1761.6 731.1h0M1758.9 745.5h0M711.2 740.5h0M663.2 797.4h0M640.1 784.8h0M704.5 772.6h0M693.8 823.0h0M801.1 773.2h0M813.0 742.1h0M837.3 824.1h0M783.2 852.8h0M915.6 781.1h0M821.2 794.1h0M946.5 791.5h0M951.3 805.2h0M1007.4 793.1h0M1081.7 809.7h0M1104.0 766.0h0M1059.8 806.7h0M1010.7 813.5h0M1094.2 843.7h0M1094.3 823.5h0M1026.9 800.6h0M1035.7 844.0h0M1000.6 779.7h0M1043.4 773.3h0M1044.9 810.0h0M1133.2 847.2h0M1137.0 818.1h0M1228.9 779.7h0M1113.4 784.5h0M1160.2 755.9h0M1213.5 808.4h0M1167.0 855.6h0M1178.2 852.3h0M1093.0 782.2h0M1163.8 791.6h0M1205.3 838.1h0M1134.3 781.5h0M1120.3 798.7h0M1138.5 833.9h0M1151.7 799.1h0M1171.0 840.2h0M1196.8 762.4h0M1162.1 828.2h0M1125.3 735.2h0M1138.6 753.7h0M1213.9 797.7h0M1226.2 818.6h0M1128.8 781.7h0M1203.8 789.2h0M1139.8 786.6h0M1158.4 842.8h0M1185.4 791.8h0M1108.5 798.1h0M1180.4 833.3h0M1180.2 779.0h0M1200.4 775.8h0M1145.4 837.4h0M1124.2 732.6h0M1140.5 779.9h0M1191.8 814.9h0M1149.2 793.0h0M1185.4 813.8h0M1107.6 765.0h0M1167.6 796.7h0M1171.8 792.3h0M1160.0 827.2h0M1129.8 788.4h0M1225.3 793.5h0M1193.7 843.9h0M1191.8 866.8h0M1171.1 788.5h0M1183.4 861.2h0M1095.7 753.1h0M1174.8 756.8h0M1141.5 821.3h0M1139.0 788.1h0M1128.0 805.8h0M1144.6 813.1h0M1128.9 742.9h0M1214.7 806.6h0M1209.3 815.6h0M1210.8 826.6h0M1251.4 812.5h0M1308.7 771.5h0M1218.7 831.3h0M1302.9 790.1h0M1323.7 779.3h0M1265.9 728.6h0M1222.3 733.0h0M1289.6 805.9h0M1184.5 798.1h0M1269.3 745.8h0M1274.0 750.1h0M1237.1 757.4h0M1255.4 771.3h0M1210.2 779.7h0M1211.0 842.6h0M1270.5 804.3h0M1253.0 782.6h0M1212.1 759.6h0M1249.1 750.8h0M1276.4 775.4h0M1195.9 850.1h0M1270.9 748.8h0M1223.6 849.2h0M1268.5 760.8h0M1256.6 797.2h0M1282.5 751.9h0M1196.1 849.5h0M1226.6 811.2h0M1253.6 831.4h0M1221.4 734.1h0M1212.9 799.5h0M1257.0 782.2h0M1269.6 780.9h0M1283.8 758.0h0M1207.2 814.4h0M1232.3 753.1h0M1162.8 752.3h0M1254.6 802.2h0M1220.5 789.2h0M1229.7 808.5h0M1279.1 741.6h0M1282.1 753.8h0M1256.5 760.1h0M1218.8 798.0h0M1276.3 820.2h0M1254.2 774.1h0M1170.1 806.6h0M1254.0 820.9h0M1225.0 726.1h0M1238.0 827.4h0M1233.7 781.2h0M1251.5 837.1h0M1278.7 719.3h0M1295.3 831.4h0M1204.5 782.1h0M1231.9 818.5h0M1317.3 790.7h0M1262.6 865.9h0M1272.2 759.9h0M1217.5 776.1h0M1270.8 756.0h0M1213.6 805.5h0M1241.3 789.5h0M1246.4 741.2h0M1257.8 845.7h0M1223.0 752.3h0M1314.6 754.4h0M1194.1 836.0h0M1226.9 828.4h0M1270.7 811.9h0M1227.8 806.0h0M1196.0 764.2h0M1235.6 748.4h0M1272.2 763.2h0M1312.3 794.5h0M1293.8 806.6h0M1320.5 804.9h0M1344.4 768.4h0M1318.6 740.7h0M1381.2 792.0h0M1364.0 818.3h0M1320.0 833.1h0M1303.0 742.0h0M1394.7 760.6h0M1340.6 809.0h0M1378.7 789.7h0M1289.0 758.0h0M1338.0 796.2h0M1332.4 805.0h0M1282.4 815.7h0M1346.4 729.4h0M1350.6 733.1h0M1347.9 856.4h0M1285.2 749.3h0M1346.5 809.7h0M1365.2 788.3h0M1345.5 819.3h0M1348.7 832.2h0M1390.1 740.5h0M1347.6 769.1h0M1342.2 769.8h0M1329.2 735.9h0M1359.1 720.2h0M1295.4 742.3h0M1354.4 769.9h0M1315.2 812.0h0M1353.3 771.3h0M1311.0 816.5h0M1352.9 745.9h0M696.0 877.2h0M788.4 878.0h0M920.3 875.0h0M866.9 895.9h0M902.7 868.2h0M885.2 915.6h0M895.5 885.2h0M950.5 865.1h0M1019.7 807.7h0M978.4 824.7h0M903.9 863.7h0M987.8 859.9h0M957.4 915.6h0M948.9 874.8h0M922.5 909.2h0M879.0 894.1h0M888.7 904.8h0M1025.0 900.9h0M1102.7 937.0h0M1054.2 832.2h0M1119.7 913.8h0M1107.3 869.7h0M1052.2 870.3h0M1122.3 894.4h0M1027.8 864.5h0M1063.4 894.1h0M1102.6 913.3h0M1100.5 881.2h0M1035.8 868.5h0M1072.5 935.0h0M1116.5 905.1h0M1108.3 874.2h0M1004.8 865.3h0M1035.0 932.2h0M1013.7 853.3h0M1083.7 890.5h0M1112.9 852.0h0M1027.6 835.6h0M1024.8 878.4h0M1096.0 887.2h0M1046.5 922.8h0M1110.1 892.8h0M1098.8 866.4h0M997.7 833.3h0M1072.2 825.2h0M1010.9 863.1h0M1069.7 880.4h0M1038.6 892.4h0M1058.8 937.5h0M1014.9 897.8h0M1087.1 901.8h0M1028.7 857.1h0M1103.4 929.4h0M1127.2 913.2h0M1020.8 810.6h0M1061.2 884.3h0M967.7 866.9h0M1040.7 908.8h0M1075.8 837.8h0M1049.6 893.7h0M1060.2 825.6h0M1007.5 917.0h0M1092.7 896.6h0M1066.4 822.3h0M1052.5 879.5h0M1052.9 872.4h0M1087.0 934.5h0M1186.8 867.6h0M1186.4 910.1h0M1186.2 906.9h0M1138.2 934.7h0M1189.6 874.2h0M1153.9 856.5h0M1186.0 940.0h0M1223.0 885.7h0M1227.2 872.4h0M1155.5 869.3h0M1172.0 810.2h0M1151.9 903.1h0M1216.6 842.2h0M1135.6 836.7h0M1145.2 851.7h0M1176.6 891.2h0M1201.1 910.8h0M1139.7 884.6h0M1182.2 877.7h0M1093.9 912.8h0M1099.8 846.1h0M1134.0 925.3h0M1131.0 895.2h0M1134.2 925.2h0M1142.8 879.9h0M1219.3 896.3h0M1131.8 905.8h0M1166.4 862.4h0M1179.3 866.4h0M1136.6 859.4h0M1121.6 872.3h0M1188.1 889.2h0M1211.8 897.4h0M1155.7 825.9h0M1195.2 841.6h0M1200.7 812.2h0M1179.2 850.5h0M1136.5 897.0h0M1147.8 861.4h0M1101.4 932.1h0M1153.3 836.2h0M1185.7 903.4h0M1172.3 889.0h0M1122.8 898.1h0M1196.6 855.9h0M1140.1 883.4h0M1154.2 906.0h0M1233.5 854.3h0M1236.1 873.9h0M1145.0 895.3h0M1134.2 858.0h0M1115.8 879.4h0M1133.9 879.5h0M1185.6 866.5h0M1222.3 814.7h0M1183.0 885.7h0M1179.0 850.8h0M1133.2 871.1h0M1165.3 884.9h0M1135.3 883.0h0M1137.0 844.6h0M1125.9 866.1h0M1150.9 822.0h0M1220.4 831.9h0M1077.9 836.1h0M1156.7 875.0h0M1184.3 887.6h0M1157.9 914.6h0M1164.7 889.1h0M1137.4 906.6h0M1138.7 868.4h0M1149.6 910.6h0M1114.2 856.4h0M1101.1 927.8h0M1123.6 918.4h0M1157.6 832.5h0M1160.1 921.0h0M1147.1 840.2h0M1141.6 931.1h0M1179.7 853.2h0M1131.3 898.6h0M1238.7 826.5h0M1107.2 905.7h0M1162.8 830.2h0M1173.4 864.5h0M1263.4 859.5h0M1198.5 856.8h0M1251.3 902.5h0M1220.6 920.5h0M1213.7 887.6h0M1222.6 875.2h0M1251.5 896.5h0M1274.4 877.2h0M1204.8 873.3h0M1246.6 929.6h0M1248.6 928.9h0M1209.1 816.2h0M1253.5 846.7h0M1166.8 859.3h0M1221.6 847.8h0M1185.8 813.6h0M1288.5 848.9h0M1294.5 849.3h0M1194.7 893.9h0M1202.2 833.9h0M1257.2 878.5h0M1280.2 854.7h0M1273.5 932.1h0M1215.5 940.3h0M1322.4 827.1h0M1303.8 876.4h0M1254.9 897.6h0M1250.5 875.1h0M1228.1 848.8h0M1206.7 918.5h0M1249.9 830.3h0M1210.6 908.6h0M1304.8 831.4h0M1225.6 847.4h0M1214.1 865.3h0M1261.3 868.3h0M1243.4 943.7h0M1224.6 893.2h0M1246.0 897.4h0M1234.9 938.5h0M1254.8 840.0h0M1238.4 853.0h0M1193.6 872.2h0M1187.9 851.5h0M1274.0 858.0h0M1210.6 886.2h0M1219.3 915.2h0M1301.6 865.1h0M1230.7 851.5h0M1189.2 874.2h0M1201.2 863.2h0M1245.5 881.6h0M1289.2 855.1h0M1275.5 885.6h0M1242.8 878.5h0M1258.0 914.4h0M1192.1 882.4h0M1255.4 930.4h0M1285.4 870.2h0M1222.2 933.4h0M1290.8 830.2h0M1262.8 835.4h0M1299.7 866.4h0M1303.7 819.3h0M1291.1 889.8h0M1333.5 847.7h0M1284.2 839.3h0M1294.9 869.9h0M1329.1 861.6h0M1276.4 886.7h0M1323.1 888.6h0M1313.4 854.4h0M1284.4 849.6h0M1321.1 868.9h0M1290.7 890.7h0M1319.2 833.2h0M1316.3 880.3h0M1310.3 831.1h0M728.2 1024.0h0M707.2 934.9h0M715.5 1027.4h0M721.0 967.2h0M793.6 954.3h0M782.7 943.4h0M807.0 963.9h0M692.7 1024.1h0M811.8 987.5h0M722.6 968.7h0M687.0 1015.9h0M780.3 1012.7h0M781.9 1004.3h0M790.6 969.1h0M749.0 948.6h0M746.4 955.5h0M716.2 930.0h0M753.4 1027.8h0M683.3 962.3h0M793.9 983.2h0M774.5 1008.7h0M916.9 964.5h0M913.9 1029.1h0M840.1 1006.2h0M829.6 923.9h0M860.7 998.9h0M859.2 938.2h0M882.0 1025.5h0M842.2 1002.8h0M761.6 958.6h0M881.6 968.0h0M806.7 1011.4h0M890.6 981.6h0M871.0 934.9h0M855.4 996.9h0M777.1 909.8h0M916.5 986.0h0M815.4 997.5h0M797.4 1033.2h0M937.5 947.3h0M784.2 1005.1h0M830.7 959.6h0M875.1 1011.5h0M914.8 976.3h0M882.5 976.4h0M881.8 1021.7h0M854.2 1019.1h0M924.8 974.2h0M856.6 945.8h0M819.9 986.9h0M870.0 1025.6h0M816.7 1007.1h0M856.5 911.8h0M828.3 1018.2h0M841.9 1010.2h0M923.7 952.9h0M787.1 937.4h0M905.3 1000.6h0M851.1 984.1h0M895.8 924.2h0M929.3 1001.3h0M857.5 984.0h0M814.8 963.2h0M853.3 977.3h0M762.7 962.6h0M823.0 956.3h0M872.2 979.7h0M886.1 1002.1h0M831.3 1019.2h0M917.1 1004.6h0M894.7 1022.3h0M810.3 984.2h0M837.4 1030.4h0M759.8 1024.2h0M783.0 904.1h0M806.4 994.7h0M863.5 956.0h0M834.4 1000.0h0M815.7 991.1h0M841.9 937.5h0M879.0 997.3h0M900.8 983.4h0M862.2 1008.0h0M862.6 963.5h0M793.3 930.7h0M940.3 994.8h0M888.4 1025.0h0M913.6 996.5h0M866.5 973.1h0M796.5 953.6h0M883.7 979.5h0M1035.7 969.2h0M1010.6 979.6h0M918.0 946.5h0M977.8 1009.8h0M926.1 979.6h0M962.2 1018.6h0M965.8 1010.8h0M959.9 935.8h0M877.8 981.9h0M937.6 970.9h0M985.2 957.1h0M987.5 992.2h0M903.3 977.6h0M918.3 958.2h0M1023.3 1023.2h0M916.6 977.3h0M936.4 954.2h0M979.7 927.5h0M942.7 934.3h0M983.9 997.5h0M965.3 905.8h0M907.0 954.3h0M924.8 969.6h0M999.6 1015.1h0M1028.4 985.1h0M946.9 962.4h0M924.5 970.6h0M945.6 1036.0h0M934.0 951.5h0M877.5 1016.6h0M931.0 957.8h0M1001.8 1015.8h0M945.6 991.1h0M908.7 1007.4h0M948.5 930.7h0M975.9 987.0h0M894.1 1026.5h0M1020.8 1001.0h0M1007.2 997.7h0M910.8 1030.9h0M977.8 1011.7h0M955.8 994.6h0M998.0 1014.3h0M909.1 958.7h0M985.4 992.8h0M866.4 987.7h0M956.3 956.9h0M1027.1 952.4h0M996.5 996.0h0M968.0 994.9h0M903.0 997.9h0M962.0 1013.8h0M947.7 986.6h0M944.2 1019.1h0M1002.6 1011.0h0M981.1 935.6h0M1020.2 981.6h0M956.9 999.7h0M1010.3 954.0h0M980.6 1000.4h0M1031.1 971.4h0M884.4 979.5h0M976.3 976.1h0M906.6 961.6h0M911.0 982.7h0M1023.0 960.4h0M913.3 925.8h0M940.7 1008.4h0M943.6 968.8h0M973.5 999.7h0M912.8 1009.5h0M1001.9 971.2h0M943.1 961.5h0M1027.8 984.8h0M946.3 973.8h0M995.1 995.6h0M918.4 1033.7h0M1017.7 917.9h0M923.3 975.1h0M897.4 1000.1h0M887.2 960.9h0M1039.5 995.2h0M1011.3 1015.2h0M989.5 922.6h0M1013.8 899.5h0M976.8 1007.4h0M914.7 935.6h0M904.4 986.6h0M945.0 998.7h0M952.4 898.4h0M957.6 1005.5h0M1015.8 938.8h0M916.9 1001.0h0M958.5 1023.1h0M874.9 988.2h0M919.4 993.0h0M977.9 969.7h0M988.9 950.8h0M942.1 986.7h0M1000.1 950.9h0M869.1 949.6h0M998.5 964.8h0M971.3 1008.3h0M992.6 978.8h0M964.8 979.2h0M967.5 978.3h0M946.8 913.8h0M933.4 921.5h0M970.7 962.5h0M996.9 940.8h0M928.4 939.7h0M915.5 981.2h0M953.7 956.6h0M922.1 1017.6h0M980.3 979.2h0M965.0 1021.5h0M933.0 928.4h0M982.2 954.3h0M967.9 997.6h0M963.0 964.9h0M992.1 930.0h0M891.5 971.6h0M976.6 971.4h0M971.0 951.5h0M965.4 989.6h0M951.3 1003.5h0M900.3 951.2h0M968.2 930.8h0M978.0 1000.0h0M941.1 991.5h0M1011.4 895.0h0M1020.9 984.7h0M971.2 979.0h0M1011.5 972.7h0M969.4 1008.5h0M950.3 942.8h0M1022.0 981.7h0M983.3 955.9h0M960.9 1005.6h0M929.7 974.8h0M956.0 983.1h0M934.1 1004.2h0M1039.1 966.9h0M955.5 1002.1h0M988.9 975.4h0M957.7 965.3h0M969.0 948.2h0M1035.0 945.0h0M903.6 1007.7h0M999.9 1026.1h0M1011.9 925.0h0M929.3 966.7h0M905.5 904.7h0M960.2 902.8h0M917.4 1002.4h0M969.9 986.9h0M966.3 906.5h0M954.6 1003.9h0M922.1 991.1h0M979.8 972.9h0M969.0 988.3h0M907.8 974.3h0M960.7 1027.3h0M931.7 997.7h0M969.4 958.0h0M910.6 1001.4h0M931.7 964.3h0M998.5 970.2h0M954.9 968.9h0M966.8 995.7h0M980.9 1000.2h0M1102.3 971.4h0M969.3 986.0h0M1127.0 906.3h0M1089.2 953.0h0M1068.3 1015.4h0M1072.8 890.5h0M1028.2 930.2h0M1018.6 945.5h0M1006.2 952.2h0M1002.8 939.4h0M1031.3 981.9h0M986.4 981.5h0M1041.1 952.7h0M1024.8 960.7h0M1023.1 985.5h0M1024.4 961.4h0M974.1 975.1h0M1094.4 949.8h0M1006.7 950.7h0M987.2 989.3h0M1007.9 1002.7h0M1009.2 931.7h0M1069.0 996.1h0M1049.4 965.6h0M1090.5 957.8h0M1095.0 985.6h0M1039.2 951.1h0M1015.4 1008.5h0M1084.1 996.3h0M1058.6 968.1h0M1062.1 953.2h0M993.0 975.2h0M1054.8 949.1h0M1130.2 954.1h0M1038.2 951.5h0M1055.6 915.3h0M1056.0 977.8h0M1088.0 994.8h0M1114.0 1010.5h0M1016.5 924.1h0M1024.1 963.9h0M1067.7 1005.2h0M1080.7 969.9h0M1031.9 963.5h0M1055.0 973.4h0M1037.9 998.7h0M1078.6 915.3h0M1008.5 960.6h0M1025.2 979.1h0M1041.2 976.0h0M994.8 988.0h0M1049.9 917.9h0M1022.3 935.9h0M1019.7 974.7h0M1086.0 953.8h0M1089.6 964.8h0M1068.5 967.8h0M971.8 993.0h0M1098.7 1017.9h0M1083.6 977.7h0M1022.2 976.6h0M1095.6 1028.0h0M1014.9 974.6h0M1073.6 976.9h0M1110.0 932.4h0M1033.9 996.1h0M1086.1 990.0h0M1027.9 980.7h0M1045.3 936.9h0M1018.8 968.1h0M1072.4 955.1h0M1045.9 992.1h0M1037.8 913.7h0M1020.8 974.7h0M1064.4 976.9h0M1031.2 972.9h0M1106.7 951.7h0M1022.3 998.3h0M1023.1 973.1h0M1048.5 1018.5h0M999.9 949.8h0M1077.0 947.9h0M1101.0 1007.8h0M1073.7 979.3h0M1069.2 933.0h0M1047.4 992.0h0M1096.2 1007.2h0M984.5 938.6h0M1065.5 979.6h0M995.1 962.6h0M1015.1 956.9h0M1031.9 981.6h0M1032.4 890.4h0M1060.0 956.1h0M1041.9 877.4h0M1062.8 960.7h0M1071.8 1018.1h0M1024.5 948.3h0M1028.4 927.5h0M1081.7 956.3h0M1024.2 987.1h0M1033.2 971.5h0M1128.8 969.1h0M1016.0 941.8h0M1044.8 966.4h0M1021.9 934.3h0M1047.3 965.1h0M1087.5 946.7h0M1027.6 964.2h0M1085.0 979.7h0M1042.1 921.6h0M1018.8 1007.2h0M1055.4 955.0h0M1044.1 980.7h0M1106.2 972.9h0M1014.4 973.7h0M1038.4 968.1h0M1050.6 1028.1h0M1026.7 998.4h0M1082.6 913.7h0M1080.4 938.8h0M1066.4 945.9h0M1038.5 978.7h0M1063.5 966.7h0M1085.1 961.6h0M1091.4 1018.6h0M1043.3 986.7h0M1121.4 909.1h0M1093.4 951.5h0M1037.5 995.1h0M1089.1 904.7h0M971.4 937.3h0M1069.2 946.3h0M1030.0 943.7h0M1004.9 988.2h0M1093.5 922.6h0M1040.6 994.3h0M1068.8 999.5h0M1092.2 955.0h0M1076.3 947.7h0M1080.7 1005.9h0M1027.8 940.3h0M1112.8 949.0h0M1092.4 938.5h0M1112.3 990.7h0M1039.6 996.5h0M1030.3 988.5h0M1056.3 978.9h0M1101.0 949.4h0M1032.8 921.9h0M1034.7 920.2h0M1082.0 980.0h0M1031.7 920.2h0M1023.3 964.3h0M1054.8 929.1h0M1089.7 936.0h0M1059.0 925.3h0M1005.0 959.4h0M1044.1 963.0h0M1090.8 978.7h0M1022.2 942.9h0M1036.5 926.3h0M1050.9 939.0h0M1057.4 935.5h0M1069.7 1016.6h0M1095.6 1004.9h0M1071.0 952.1h0M1098.8 990.4h0M1023.6 937.8h0M1024.6 981.7h0M979.8 966.1h0M1090.3 950.7h0M1102.9 1027.8h0M1003.3 1009.6h0M1024.5 996.4h0M1061.6 945.3h0M982.8 985.6h0M1025.2 946.8h0M1065.5 977.9h0M1007.4 968.0h0M990.5 950.2h0M1109.9 938.8h0M1014.9 955.6h0M1040.0 994.5h0M1075.8 936.3h0M1037.5 954.6h0M1041.2 1003.8h0M1013.7 968.7h0M966.8 1008.7h0M1097.7 1007.0h0M1009.0 987.1h0M1052.1 998.3h0M1054.9 929.0h0M1027.8 1020.9h0M1096.3 978.7h0M1042.9 949.9h0M1067.7 1027.4h0M1054.1 1022.1h0M996.1 1022.4h0M1212.1 962.9h0M1211.4 923.7h0M1207.1 910.0h0M1098.7 987.9h0M1213.3 1003.5h0M1147.0 960.7h0M1132.3 971.8h0M1145.0 915.6h0M1148.1 979.7h0M1163.9 951.5h0M1179.1 957.8h0M1122.4 933.3h0M1095.7 1008.1h0M1215.9 959.3h0M1160.1 914.8h0M1148.0 994.4h0M1217.3 996.2h0M1160.5 934.5h0M1161.9 951.4h0M1139.7 960.0h0M1171.4 950.2h0M1111.6 940.0h0M1189.1 966.2h0M1098.2 972.1h0M1161.6 919.6h0M1164.6 936.2h0M1134.4 1002.3h0M1155.8 956.2h0M1124.2 944.3h0M1150.7 1028.8h0M1147.1 907.9h0M1232.6 939.8h0M1103.0 966.7h0M1142.5 941.8h0M1072.4 938.0h0M1182.3 981.8h0M1175.3 968.9h0M1195.9 904.0h0M1173.4 952.7h0M1153.2 981.4h0M1148.7 991.1h0M1124.6 938.1h0M1154.2 938.8h0M1142.3 967.0h0M1105.0 927.8h0M1174.1 967.3h0M1092.7 969.2h0M1169.9 955.5h0M1128.8 960.2h0M1092.9 990.1h0M1122.4 966.6h0M1104.1 937.5h0M1163.2 904.4h0M1110.7 979.5h0M1119.5 928.3h0M1136.2 930.6h0M1102.1 939.1h0M1143.7 951.5h0M1082.0 969.0h0M1196.3 957.7h0M1185.8 934.2h0M1177.7 951.5h0M1138.8 934.3h0M1090.9 958.4h0M1183.4 945.7h0M1134.4 879.9h0M1119.3 1000.4h0M1118.1 900.1h0M1162.2 892.4h0M1106.8 1013.5h0M1088.4 990.6h0M1109.4 1011.1h0M1176.5 946.1h0M1190.8 988.9h0M1174.2 979.4h0M1170.7 973.9h0M1175.6 928.8h0M1165.7 934.3h0M1122.9 950.4h0M1127.2 966.1h0M1116.6 903.7h0M1137.3 917.9h0M1133.1 951.6h0M1156.2 945.6h0M1171.5 1015.0h0M1213.2 908.7h0M1159.3 979.8h0M1179.5 964.3h0M1122.8 909.3h0M1088.3 928.7h0M1077.4 983.7h0M1172.3 954.1h0M1161.8 927.4h0M1102.9 1013.1h0M1170.6 940.7h0M1076.1 940.4h0M1137.8 929.1h0M1074.5 1017.8h0M1126.9 941.1h0M1142.8 937.0h0M1167.0 961.3h0M1086.7 940.5h0M1103.2 1025.4h0M1151.2 1012.5h0M1188.5 957.5h0M1219.7 936.1h0M1204.6 928.7h0M1239.0 1001.9h0M1187.5 953.9h0M1185.7 1014.1h0M1230.6 981.5h0M1201.2 944.1h0M1211.9 923.8h0M1196.9 931.1h0M1177.8 980.5h0M1224.9 944.1h0M1212.5 969.2h0M1229.0 904.3h0M1221.9 923.0h0M1192.5 903.8h0M1273.4 997.6h0M1228.6 915.0h0M1235.7 948.4h0M1157.8 924.7h0M1226.6 1001.0h0M1267.3 916.4h0M1240.3 934.4h0M1313.8 927.6h0M1198.2 969.3h0M1242.9 967.4h0M1161.0 907.2h0M1245.1 968.5h0M1269.1 906.1h0M1226.2 901.9h0M1236.0 975.2h0M1226.3 943.7h0M1231.9 934.5h0M1232.9 1007.0h0M1215.4 910.6h0M1215.1 940.3h0M1270.1 910.2h0M1276.8 951.1h0M1223.9 950.6h0M1282.7 948.1h0M1277.1 916.7h0M1320.9 897.5h0M1270.6 972.1h0M1283.9 887.8h0M1302.2 899.3h0M1282.6 916.0h0M1287.6 948.3h0M1299.6 910.5h0M632.8 1072.5h0M654.8 1044.6h0M661.4 1061.0h0M702.5 1039.6h0M635.3 1063.0h0M695.6 1028.0h0M646.3 1059.0h0M700.6 1031.2h0M669.4 1046.0h0M667.0 1055.2h0M639.4 1009.8h0M678.1 1054.9h0M630.3 1058.4h0M651.9 1075.9h0M632.0 1086.1h0M680.7 1074.2h0M702.2 1068.5h0M657.6 1009.2h0M666.5 1042.8h0M659.9 1024.1h0M706.5 1042.0h0M644.2 1057.8h0M639.3 1032.4h0M740.9 1074.2h0M641.0 1027.8h0M684.2 1054.3h0M686.2 1020.1h0M689.6 1020.8h0M689.3 1070.6h0M691.5 1040.4h0M648.2 1071.3h0M668.3 1065.3h0M715.7 1031.3h0M645.9 1061.6h0M711.7 1054.7h0M649.9 1040.3h0M701.3 1058.7h0M709.7 1072.6h0M680.4 1055.4h0M644.7 1033.8h0M677.2 1084.4h0M688.8 1083.3h0M624.3 1074.7h0M688.2 1042.7h0M669.0 1031.0h0M650.5 1022.3h0M684.9 1013.3h0M730.1 1067.2h0M666.9 1053.3h0M642.9 1054.9h0M628.4 1034.0h0M676.1 1062.1h0M685.9 1062.8h0M689.0 1055.5h0M640.4 1053.4h0M666.3 1046.9h0M678.7 1044.1h0M666.1 1078.0h0M654.7 1027.3h0M643.9 1059.1h0M650.0 1024.5h0M705.5 1044.6h0M663.0 1084.3h0M643.4 1049.9h0M655.0 1051.3h0M627.7 1047.7h0M687.4 1007.3h0M693.5 1068.3h0M649.5 1055.5h0M707.1 1058.6h0M666.2 1069.0h0M709.0 1019.5h0M701.3 1047.5h0M626.9 1010.0h0M648.4 1085.6h0M678.4 1026.9h0M633.7 1072.8h0M664.9 1048.6h0M705.4 1051.7h0M710.8 1046.7h0M642.5 1072.9h0M706.8 1052.8h0M676.7 1083.2h0M676.0 1071.0h0M719.0 1060.7h0M693.3 1075.5h0M649.0 1015.6h0M741.2 1004.7h0M648.2 1087.4h0M690.1 1072.8h0M688.9 1061.1h0M696.5 1058.4h0M640.9 1026.2h0M687.0 1057.2h0M697.9 1065.1h0M660.4 1046.4h0M703.0 1083.4h0M718.7 1038.7h0M655.7 1022.3h0M667.6 1011.5h0M649.4 1055.3h0M667.9 1057.2h0M685.7 1042.8h0M656.1 1069.8h0M643.6 1040.2h0M686.7 1043.4h0M669.4 1081.1h0M663.0 1087.4h0M711.5 1046.1h0M688.1 1072.8h0M676.6 1071.0h0M673.7 1054.3h0M645.9 1062.1h0M636.8 1025.7h0M651.9 1088.3h0M672.4 1041.0h0M654.0 1046.5h0M709.7 1084.1h0M688.5 1048.0h0M645.9 1040.2h0M645.8 1023.4h0M658.9 1082.8h0M652.0 1059.6h0M680.7 1065.1h0M623.4 1057.3h0M643.2 1065.4h0M637.0 1051.2h0M635.4 1075.0h0M722.8 1045.4h0M694.4 1067.5h0M645.0 1051.9h0M676.8 1052.4h0M656.2 1060.9h0M671.6 1083.2h0M652.4 1045.2h0M660.0 1058.5h0M657.1 1070.6h0M683.3 1070.3h0M668.4 1044.6h0M648.8 1023.5h0M633.2 1047.5h0M700.7 987.9h0M632.3 1057.4h0M662.4 1054.4h0M643.5 1060.6h0M677.6 1045.0h0M630.8 1054.5h0M622.4 1056.2h0M673.3 1063.9h0M689.2 970.3h0M624.6 1030.9h0M634.7 1057.7h0M664.0 1051.8h0M718.6 1048.1h0M640.6 1055.9h0M703.8 990.2h0M638.9 1063.7h0M643.0 1065.1h0M676.9 1079.9h0M659.1 1076.6h0M664.3 1075.1h0M711.9 1037.8h0M658.3 1058.3h0M724.4 1030.2h0M686.0 1054.6h0M698.7 1079.1h0M716.1 1070.4h0M703.8 1036.9h0M635.0 1029.8h0M658.0 1062.9h0M686.8 1030.9h0M678.8 1084.3h0M714.1 1081.1h0M675.6 1035.4h0M629.3 1028.3h0M687.3 1039.1h0M666.1 1056.2h0M622.5 1043.1h0M644.8 1048.8h0M681.2 1072.3h0M637.7 1086.2h0M645.9 1064.8h0M675.2 1052.1h0M637.3 1063.0h0M695.4 1061.8h0M664.9 1036.9h0M666.5 1076.5h0M683.5 1062.9h0M654.6 1070.9h0M657.1 1064.2h0M675.6 1053.6h0M706.2 1041.2h0M679.4 1030.9h0M670.3 1084.7h0M666.8 1035.1h0M643.0 1028.0h0M725.6 1082.9h0M645.5 1069.8h0M733.8 1028.6h0M701.8 1024.6h0M677.1 1076.3h0M740.9 1056.6h0M670.3 1041.9h0M648.6 1056.9h0M693.4 1057.3h0M650.7 1038.4h0M699.8 991.6h0M671.2 1042.0h0M698.0 1030.0h0M631.1 1069.4h0M757.5 1052.6h0M812.9 1020.5h0M706.5 1083.4h0M733.1 1076.6h0M718.0 1042.3h0M755.9 1051.9h0M675.1 1066.8h0M708.4 1018.0h0M730.2 1069.1h0M701.0 1049.9h0M748.0 1069.2h0M749.7 1047.3h0M748.1 1007.0h0M737.6 1048.4h0M732.5 1052.9h0M699.8 1045.6h0M841.7 1066.3h0M703.1 1068.0h0M789.4 1067.8h0M751.0 1022.9h0M742.4 1051.6h0M713.6 1075.7h0M746.2 1049.7h0M772.2 1082.1h0M788.0 1067.7h0M769.5 1050.8h0M716.8 1070.5h0M781.2 1075.9h0M737.1 1056.6h0M787.4 1065.2h0M785.6 1025.4h0M767.8 1072.2h0M796.6 1086.0h0M773.2 1070.4h0M760.2 1076.4h0M798.3 1044.0h0M804.9 992.0h0M738.1 1021.5h0M755.0 1066.2h0M700.2 1061.3h0M772.6 1035.1h0M749.1 1030.4h0M708.6 1045.4h0M738.0 1048.8h0M769.6 1060.0h0M773.5 1057.6h0M778.7 1045.1h0M668.8 1050.0h0M761.7 1052.6h0M721.7 1081.5h0M764.1 1045.7h0M682.2 1075.4h0M732.0 1042.8h0M813.8 1036.5h0M797.0 1039.1h0M771.4 1054.0h0M796.8 1050.5h0M764.4 1063.4h0M679.5 1042.3h0M699.1 1053.0h0M812.0 1019.7h0M812.5 1059.9h0M756.7 1070.8h0M801.0 1030.3h0M746.5 1036.5h0M780.6 1055.4h0M797.5 1086.8h0M691.8 1076.9h0M803.4 1070.7h0M688.9 1062.5h0M668.7 1067.7h0M740.2 1041.3h0M821.5 1042.0h0M690.7 1087.5h0M713.6 1079.8h0M769.1 1037.3h0M745.9 1038.4h0M739.9 1075.1h0M724.5 1011.9h0M781.4 1076.2h0M706.3 1036.4h0M753.7 1070.6h0M720.2 1083.3h0M749.7 1046.2h0M752.9 1050.3h0M784.5 1039.7h0M761.1 1062.9h0M709.0 1063.7h0M793.8 1041.9h0M771.2 1050.0h0M805.2 1049.5h0M809.7 1045.2h0M750.3 1059.2h0M797.5 1073.6h0M717.3 1047.9h0M754.6 1074.3h0M813.8 1061.3h0M773.8 1078.0h0M746.9 1073.5h0M763.0 990.9h0M776.4 1082.2h0M734.9 1066.9h0M784.6 1086.7h0M747.5 1052.0h0M816.3 1079.7h0M805.1 1047.7h0M767.6 1067.0h0M771.5 1050.7h0M772.9 1039.4h0M751.2 1081.7h0M787.7 1038.1h0M776.6 1041.7h0M715.8 1031.1h0M735.3 1054.4h0M764.7 1041.9h0M778.6 1039.9h0M823.3 1044.8h0M822.8 1051.4h0M755.0 1046.0h0M788.9 1048.2h0M783.5 1043.0h0M747.6 1048.0h0M737.3 1062.3h0M743.4 1036.9h0M742.0 1051.5h0M733.3 1017.3h0M770.1 1067.6h0M759.2 1028.9h0M734.2 1082.9h0M792.8 1048.9h0M814.5 1066.9h0M730.8 1059.0h0M704.5 1052.6h0M700.6 1057.0h0M790.1 1035.8h0M746.3 1081.9h0M694.6 1085.0h0M808.6 1081.9h0M734.3 1077.7h0M749.9 1046.1h0M762.3 1083.7h0M830.3 1040.5h0M746.2 1078.7h0M800.1 1058.8h0M708.4 1064.6h0M749.0 1067.2h0M687.2 1049.3h0M759.2 1058.8h0M712.8 1071.5h0M826.5 1032.4h0M718.1 1060.3h0M734.9 1046.1h0M838.0 1062.2h0M705.2 1046.7h0M724.0 1029.4h0M811.1 1053.6h0M737.6 1053.7h0M781.9 1041.6h0M797.9 1053.5h0M772.8 1037.2h0M747.7 1014.3h0M839.8 1056.2h0M731.8 1039.3h0M810.0 1027.4h0M767.8 1065.7h0M739.0 1052.7h0M718.9 1066.5h0M796.6 1061.4h0M699.7 1050.2h0M739.3 1084.3h0M810.0 1047.6h0M773.6 1055.1h0M794.4 1032.6h0M700.2 1001.0h0M723.9 1065.7h0M754.3 1041.1h0M818.6 1031.9h0M800.1 1022.1h0M758.1 1072.0h0M735.2 1003.7h0M763.0 1032.2h0M821.3 1063.6h0M780.0 1008.4h0M748.2 1053.8h0M798.0 1040.1h0M710.6 1043.5h0M754.2 1007.5h0M820.5 1003.3h0M753.0 1047.7h0M799.9 1059.8h0M758.8 1084.4h0M730.2 1065.7h0M744.7 1056.4h0M826.7 1036.9h0M779.0 1060.6h0M743.8 1072.9h0M712.6 1044.2h0M797.0 1078.9h0M723.8 1036.6h0M737.3 1041.8h0M742.5 1035.9h0M832.9 1051.6h0M754.3 1045.5h0M838.1 1007.9h0M808.5 1057.5h0M754.7 1027.1h0M754.1 1059.1h0M751.3 1065.4h0M748.2 1033.8h0M746.5 1063.4h0M751.1 1056.8h0M708.6 1009.3h0M748.6 1029.3h0M780.4 1038.1h0M684.1 1052.7h0M767.1 1045.3h0M729.3 1044.4h0M745.2 1079.7h0M743.0 1031.0h0M722.5 1059.6h0M721.5 1076.8h0M754.4 1050.3h0M733.4 977.9h0M672.5 1059.2h0M717.5 1048.1h0M792.7 1037.4h0M760.3 1054.8h0M819.0 1055.8h0M732.6 1055.1h0M689.0 1048.0h0M698.2 1070.5h0M798.5 994.8h0M752.7 1042.6h0M788.5 1035.8h0M801.6 1038.1h0M793.3 1084.7h0M819.0 1076.1h0M766.7 1042.3h0M751.1 1037.0h0M765.8 1082.2h0M752.1 1062.5h0M699.2 1016.2h0M736.2 1042.9h0M767.9 1014.6h0M812.2 1078.9h0M770.5 1085.5h0M809.6 1063.4h0M768.4 1040.6h0M750.5 1033.1h0M805.6 1047.4h0M718.4 1079.1h0M691.5 1029.7h0M773.6 1063.3h0M754.2 1069.9h0M813.2 1056.7h0M736.3 1037.8h0M782.0 1049.9h0M726.1 1072.5h0M794.7 1087.4h0M713.8 1039.6h0M763.9 1045.2h0M760.6 1047.6h0M805.1 1082.8h0M738.6 1057.5h0M771.5 1032.0h0M698.8 1066.8h0M735.5 1047.8h0M772.3 1087.9h0M823.0 1052.6h0M768.3 1080.2h0M761.3 1071.5h0M783.4 1018.5h0M715.3 1061.7h0M710.1 1038.5h0M698.9 998.9h0M775.4 1059.5h0M769.0 1042.9h0M766.8 1056.3h0M755.2 1061.4h0M738.4 1021.8h0M814.7 1048.8h0M815.9 1038.5h0M806.4 1062.2h0M746.5 1074.8h0M775.2 1067.6h0M770.1 1067.9h0M719.9 1074.8h0M737.7 1032.7h0M746.7 1039.8h0M735.7 1082.6h0M788.1 1087.3h0M756.1 1076.8h0M789.3 1058.4h0M758.7 1046.4h0M764.4 1032.5h0M712.0 1061.6h0M708.8 1034.7h0M758.6 1030.7h0M685.1 1068.4h0M796.0 1001.9h0M825.6 1057.1h0M697.5 1065.6h0M825.8 1041.6h0M751.5 1042.2h0M692.6 1067.2h0M754.7 1027.4h0M776.7 1026.2h0M753.4 1063.6h0M702.2 1083.2h0M765.5 1042.8h0M802.6 1069.1h0M784.0 1030.9h0M676.4 1037.5h0M740.5 996.6h0M736.1 1056.4h0M729.9 1071.4h0M756.8 1030.0h0M765.8 997.7h0M757.8 1042.9h0M694.4 1076.5h0M707.2 1039.3h0M796.3 1045.5h0M795.3 1011.9h0M727.1 1082.7h0M700.8 1069.0h0M733.5 1051.0h0M798.7 1037.7h0M707.2 1025.1h0M710.4 1043.1h0M726.7 1043.5h0M725.9 1052.1h0M726.2 1039.1h0M749.6 1056.6h0M714.7 1041.2h0M691.6 1043.4h0M748.2 1006.2h0M731.5 1035.8h0M779.4 1039.7h0M768.3 1085.1h0M705.9 1038.3h0M673.0 1068.6h0M727.3 1070.5h0M768.8 1060.4h0M676.7 1080.0h0M777.2 1046.1h0M716.3 1076.3h0M755.3 1067.7h0M713.4 1064.1h0M724.5 1069.9h0M775.4 1040.8h0M791.3 1068.0h0M766.7 1070.6h0M786.2 1051.4h0M698.1 1059.0h0M699.8 1071.7h0M802.1 1060.9h0M769.9 1007.4h0M689.5 1065.3h0M829.3 1070.1h0M810.8 1054.4h0M778.7 1024.4h0M739.6 1055.1h0M799.4 1047.6h0M685.9 1030.9h0M800.6 1086.2h0M765.8 1064.9h0M723.2 1018.1h0M684.9 1013.5h0M739.9 1058.4h0M679.4 1066.2h0M739.6 1068.8h0M743.8 1063.9h0M787.1 1060.5h0M767.5 1025.8h0M746.6 1063.4h0M749.3 1059.0h0M770.3 1051.9h0M735.9 1069.3h0M778.7 1064.3h0M755.0 1051.3h0M762.9 1063.8h0M728.5 1080.0h0M802.3 1088.0h0M778.6 1072.1h0M739.8 1042.2h0M763.8 1068.5h0M766.1 1075.9h0M814.3 1054.6h0M704.6 1065.3h0M758.3 1039.0h0M722.7 1087.9h0M787.9 1038.4h0M733.5 1052.4h0M752.9 1074.3h0M801.3 1049.4h0M773.9 1043.8h0M754.0 1076.2h0M772.5 1060.9h0M695.2 1040.1h0M812.4 1060.8h0M831.1 1023.9h0M762.9 1047.4h0M765.2 1058.0h0M804.2 1084.6h0M759.1 1071.2h0M738.4 1064.0h0M767.4 1076.3h0M826.5 1075.5h0M705.0 1024.4h0M824.6 1036.9h0M766.8 1036.4h0M735.1 1044.7h0M702.8 1080.0h0M709.8 1042.7h0M760.0 1062.8h0M707.9 1064.4h0M737.7 1066.4h0M710.5 1088.1h0M745.8 1055.7h0M732.8 1062.3h0M828.8 1018.5h0M701.6 1059.6h0M817.3 1029.8h0M771.7 1041.8h0M705.7 1070.2h0M737.3 1052.4h0M705.3 998.3h0M784.3 1054.9h0M680.4 1060.7h0M771.7 964.3h0M812.6 1073.0h0M766.4 983.7h0M773.1 1034.6h0M706.3 1063.0h0M733.3 1061.8h0M732.5 1070.0h0M767.4 1024.2h0M731.6 1078.5h0M674.6 1039.2h0M776.3 1045.3h0M745.3 992.3h0M741.5 1059.8h0M783.2 1075.0h0M682.5 1072.5h0M817.8 1066.0h0M712.2 1025.2h0M699.4 1029.1h0M817.9 1058.0h0M766.5 1018.9h0M737.9 1066.6h0M845.9 1072.3h0M845.3 1057.4h0M880.8 1010.6h0M796.6 1067.5h0M893.8 1051.5h0M883.6 1054.4h0M889.4 1030.9h0M799.7 1071.5h0M835.6 1010.8h0M785.9 1048.9h0M856.6 1038.6h0M860.3 1042.4h0M809.5 997.1h0M912.8 1020.6h0M875.0 1010.7h0M877.2 1030.3h0M772.6 1022.0h0M805.1 1079.6h0M825.4 1048.9h0M764.9 1059.8h0M921.2 1039.6h0M877.7 1028.9h0M888.9 1019.5h0M904.3 1049.5h0M841.6 996.5h0M921.8 1024.5h0M834.3 1050.4h0M816.3 1063.5h0M846.0 1074.7h0M845.1 1064.2h0M883.3 1055.0h0M832.7 1031.7h0M909.1 1046.5h0M823.3 1054.9h0M837.0 1064.0h0M825.1 1062.0h0M799.5 1016.8h0M853.7 1042.0h0M800.6 1037.9h0M892.5 1078.7h0M855.1 1015.9h0M897.6 983.5h0M866.3 1051.7h0M815.5 1048.5h0M868.5 1066.3h0M811.0 1036.8h0M770.6 1056.1h0M906.0 1029.1h0M780.8 1005.5h0M872.4 1074.2h0M813.7 1042.6h0M824.3 1043.1h0M793.5 1087.5h0M822.3 1055.5h0M850.2 1065.9h0M810.3 1055.9h0M824.2 1049.0h0M845.7 1062.9h0M906.6 990.1h0M865.4 1061.7h0M822.7 1084.3h0M832.9 1033.9h0M876.9 1080.5h0M835.5 1051.7h0M905.3 1038.4h0M844.5 1034.3h0M881.3 1019.6h0M905.1 1011.8h0M884.0 1026.3h0M858.2 1054.7h0M865.5 986.1h0M842.1 1041.4h0M774.8 1048.3h0M902.2 1046.2h0M819.6 1051.2h0M820.9 1045.9h0M878.6 1074.7h0M903.3 1077.6h0M867.2 1046.6h0M835.9 1059.1h0M874.7 1053.9h0M822.4 1020.7h0M773.4 1037.6h0M844.9 1041.9h0M912.6 1050.1h0M821.0 1078.2h0M838.4 1030.3h0M923.8 1080.4h0M862.6 1056.2h0M784.4 1014.4h0M851.6 1068.1h0M895.5 1052.7h0M857.0 1067.1h0M879.3 1050.9h0M927.4 1062.3h0M836.5 1043.3h0M805.4 1057.8h0M871.8 1065.3h0M865.0 997.7h0M852.5 1022.8h0M841.8 1006.4h0M876.9 1033.1h0M873.3 1043.6h0M885.2 1060.6h0M772.0 1029.8h0M865.7 1055.1h0M838.1 1073.6h0M870.4 1035.1h0M806.3 1065.8h0M883.9 1028.0h0M854.2 1038.1h0M846.2 1027.9h0M924.4 1042.6h0M891.2 1051.2h0M899.7 1076.2h0M879.4 1047.5h0M857.6 1081.4h0M783.5 1070.7h0M809.8 1054.5h0M850.5 1029.9h0M881.4 1025.6h0M895.6 993.0h0M874.0 1055.6h0M913.2 1068.8h0M898.6 1054.4h0M806.8 1018.7h0M791.1 1075.1h0M806.7 1075.0h0M853.3 1060.5h0M847.7 1074.5h0M836.4 1060.8h0M873.5 1028.1h0M824.5 1069.7h0M865.9 1067.2h0M867.4 1012.4h0M864.0 1035.6h0M846.4 1086.2h0M841.5 1035.4h0M871.2 1050.9h0M903.0 1003.7h0M867.6 1082.2h0M819.1 1043.2h0M849.4 1022.0h0M837.7 1050.1h0M911.7 996.9h0M828.2 1046.9h0M888.1 1070.6h0M931.1 1004.1h0M860.5 1059.0h0M834.1 1036.5h0M824.9 1080.5h0M872.7 1046.8h0M863.1 1043.2h0M919.8 1021.2h0M855.2 1060.3h0M891.4 1067.9h0M845.9 1057.7h0M782.4 1040.5h0M872.6 1052.1h0M826.3 1041.6h0M785.3 1026.4h0M782.6 1031.1h0M907.5 1079.0h0M803.6 1044.9h0M837.5 1078.1h0M889.3 1015.4h0M907.2 1011.8h0M883.0 1049.0h0M903.9 1078.4h0M885.6 1025.9h0M841.2 1035.1h0M779.0 1022.9h0M834.1 1022.4h0M816.9 1041.1h0M830.3 1077.4h0M923.0 1044.8h0M909.3 1056.0h0M793.4 1062.1h0M831.6 1025.6h0M824.2 1021.6h0M853.7 1050.2h0M845.2 1041.5h0M881.8 1020.9h0M875.1 1082.9h0M873.5 1068.1h0M805.3 1080.7h0M822.8 1059.2h0M850.3 1078.9h0M849.9 1062.9h0M903.7 1040.9h0M865.2 1034.2h0M846.9 1054.5h0M831.9 993.9h0M848.5 1014.0h0M892.3 1065.2h0M860.2 1017.2h0M834.8 1016.5h0M856.5 1035.4h0M895.8 1072.0h0M852.9 1067.0h0M847.9 1037.0h0M888.0 1076.5h0M891.9 1064.8h0M904.5 1034.3h0M826.8 1077.5h0M859.5 1033.5h0M868.0 996.5h0M807.2 1040.7h0M843.4 1006.7h0M812.9 1029.8h0M888.3 1061.6h0M831.5 1007.0h0M867.4 1067.7h0M789.0 1084.6h0M762.6 1049.1h0M793.6 1067.8h0M862.1 1048.7h0M873.3 996.4h0M798.6 1018.1h0M820.9 1073.5h0M860.7 1067.7h0M810.6 1020.9h0M837.1 1069.9h0M817.2 1069.2h0M875.4 1048.0h0M928.2 1055.6h0M829.3 1050.0h0M812.2 1080.1h0M852.5 1031.1h0M859.0 1072.7h0M851.2 1044.9h0M833.0 1039.1h0M857.6 1040.6h0M881.8 1024.4h0M845.2 1018.9h0M936.7 1075.2h0M895.0 998.9h0M881.7 1049.0h0M847.1 1038.0h0M816.8 1037.2h0M852.3 1057.7h0M879.1 1032.8h0M925.5 1040.5h0M881.3 1024.8h0M842.9 1045.2h0M844.1 1082.9h0M857.3 1048.0h0M872.5 1085.8h0M895.9 1048.5h0M873.3 1039.4h0M851.1 1071.7h0M818.4 1042.6h0M895.4 998.1h0M803.0 1070.2h0M826.9 1014.0h0M828.4 1079.1h0M843.6 1052.5h0M826.7 1070.0h0M901.0 1035.4h0M936.3 1039.6h0M903.9 1046.1h0M836.6 1054.5h0M841.4 1038.0h0M832.0 1055.8h0M814.5 1027.2h0M883.2 1001.5h0M792.6 1052.2h0M907.9 1029.8h0M852.4 1025.9h0M836.6 1075.0h0M882.2 1056.2h0M887.8 1072.5h0M852.5 1069.7h0M849.3 1041.9h0M812.4 1031.9h0M898.2 998.7h0M837.5 1042.4h0M861.0 1017.6h0M871.6 1038.2h0M855.2 1027.3h0M841.4 1020.1h0M860.8 1023.0h0M841.8 1040.9h0M862.9 1018.9h0M769.3 1064.7h0M914.7 1028.9h0M855.9 1073.1h0M842.0 1031.4h0M796.1 1037.1h0M842.9 1021.9h0M874.8 1055.0h0M892.9 1057.2h0M931.1 1077.4h0M810.9 1058.9h0M869.8 1063.5h0M808.3 1064.5h0M802.7 1057.3h0M890.3 1041.0h0M790.0 1065.6h0M874.1 1070.2h0M814.2 1045.4h0M907.5 1044.4h0M855.4 1045.7h0M891.1 997.0h0M847.8 1078.7h0M804.4 1000.1h0M838.4 1025.3h0M894.3 1040.7h0M859.0 1068.5h0M841.0 1027.5h0M828.1 1066.7h0M811.5 1045.7h0M908.8 1043.7h0M815.9 1035.2h0M847.0 1065.3h0M855.3 1038.7h0M912.6 1051.6h0M860.1 1038.2h0M842.1 1002.1h0M907.4 1028.7h0M819.7 1030.0h0M863.5 1038.6h0M795.0 1026.8h0M872.2 1035.2h0M867.1 1059.6h0M878.6 999.0h0M835.3 1055.0h0M831.3 1087.1h0M911.1 1047.3h0M803.9 1056.3h0M846.8 1027.6h0M907.5 1024.8h0M871.4 1065.2h0M801.6 1017.3h0M830.8 1038.4h0M833.1 1080.8h0M820.1 1016.5h0M832.0 1051.7h0M865.3 1027.2h0M840.1 1043.6h0M864.4 1060.0h0M868.9 1051.9h0M887.1 1056.4h0M848.6 1065.6h0M883.5 1043.4h0M840.0 1042.0h0M876.9 1041.5h0M828.9 1040.6h0M808.6 1071.3h0M842.4 1062.4h0M884.9 1050.0h0M863.4 1051.2h0M849.9 1064.1h0M775.9 1066.9h0M899.0 1004.0h0M888.5 1032.9h0M819.8 1087.4h0M843.7 1021.6h0M896.2 1006.6h0M823.8 1071.4h0M863.2 1003.3h0M771.2 1056.6h0M804.0 1052.5h0M896.8 1028.3h0M874.2 1037.2h0M855.5 1076.1h0M808.8 1005.9h0M869.9 1035.0h0M797.7 1068.2h0M824.6 1057.4h0M786.7 1079.5h0M892.9 1068.9h0M787.3 1057.8h0M762.6 1079.4h0M826.4 1027.2h0M896.1 1053.4h0M879.6 1030.2h0M830.0 987.2h0M787.3 1052.7h0M880.1 1032.3h0M846.4 1043.8h0M895.0 1055.5h0M877.1 1025.1h0M841.9 1049.9h0M872.9 1076.4h0M857.5 1030.5h0M813.4 1029.3h0M851.6 1064.5h0M823.8 1023.3h0M913.0 1075.1h0M815.4 1054.5h0M897.0 1035.5h0M856.4 1044.4h0M836.1 1074.7h0M884.6 1037.0h0M825.7 1046.3h0M843.0 1078.0h0M792.1 1015.0h0M893.7 1037.2h0M790.9 1050.1h0M906.1 1037.0h0M811.2 1020.5h0M809.3 1045.5h0M774.8 1024.5h0M883.6 1022.0h0M795.9 1011.1h0M845.8 1040.3h0M828.2 1039.1h0M854.0 1077.5h0M854.9 1025.2h0M839.8 1015.0h0M792.3 1031.6h0M858.5 1017.6h0M842.1 1039.3h0M826.2 1017.1h0M872.5 1071.9h0M783.7 1041.8h0M787.0 1028.3h0M895.7 1023.4h0M922.8 1031.5h0M842.3 1056.6h0M924.2 1037.9h0M853.2 1036.6h0M866.9 1015.3h0M842.9 1051.7h0M896.6 1009.8h0M824.5 1061.3h0M793.6 1050.6h0M776.6 1079.2h0M899.3 1068.4h0M854.6 1057.0h0M855.3 1034.6h0M910.1 1012.6h0M854.3 1063.9h0M893.9 1048.9h0M850.9 1072.6h0M890.4 1026.2h0M844.5 997.2h0M883.8 1077.1h0M888.7 1005.1h0M864.1 1058.0h0M766.1 1072.7h0M845.7 1054.4h0M873.6 1037.1h0M879.7 981.3h0M889.5 1012.4h0M826.1 1058.9h0M809.0 1069.2h0M909.5 1059.0h0M779.7 1071.8h0M812.8 1029.9h0M876.5 1050.3h0M912.8 1014.3h0M802.0 1048.7h0M789.8 1064.7h0M850.5 1057.8h0M854.0 1059.2h0M909.0 1062.0h0M886.6 1037.2h0M865.7 1051.1h0M798.2 1051.4h0M825.3 1072.6h0M857.8 1062.0h0M850.9 986.6h0M851.6 1019.3h0M810.3 1029.4h0M860.5 1037.3h0M781.0 1022.5h0M870.5 1000.0h0M909.0 1053.6h0M819.5 1036.3h0M792.2 1057.3h0M878.1 1045.8h0M872.8 1033.1h0M863.8 1045.6h0M825.4 1026.7h0M885.3 1023.1h0M850.1 1055.2h0M901.6 1043.1h0M832.6 1045.5h0M989.0 1030.1h0M986.8 1038.4h0M938.4 1038.1h0M881.6 1074.8h0M970.0 1042.3h0M993.3 1067.8h0M921.9 1022.1h0M956.2 1040.9h0M953.6 1073.5h0M990.9 1046.0h0M968.5 1035.4h0M915.4 1070.8h0M978.4 1019.3h0M968.3 1052.5h0M970.8 1026.2h0M1014.5 1054.9h0M1000.1 1051.3h0M982.9 1065.5h0M941.1 1024.1h0M975.4 991.3h0M895.5 998.5h0M937.3 1065.7h0M938.5 987.6h0M963.4 992.5h0M998.6 1010.5h0M975.3 979.5h0M1026.2 1078.6h0M952.6 1053.2h0M904.5 1031.6h0M957.7 1035.9h0M889.1 1033.8h0M971.2 1041.5h0M950.5 1072.8h0M961.0 1020.7h0M936.5 1064.6h0M955.6 1024.7h0M968.8 1033.2h0M939.0 1077.7h0M914.8 1060.6h0M990.3 1031.0h0M962.1 1085.3h0M988.9 1045.7h0M960.7 1068.4h0M1001.4 1021.9h0M889.4 1018.0h0M946.9 979.7h0M942.9 1062.5h0M942.9 1033.3h0M928.2 1043.8h0M998.3 1029.0h0M968.5 1013.6h0M967.3 1036.4h0M947.2 1038.0h0M952.1 1055.0h0M926.1 1032.2h0M958.8 991.1h0M1005.2 1068.9h0M981.4 1068.4h0M1015.9 1035.5h0M953.6 1031.6h0M890.0 1057.9h0M921.2 1074.6h0M917.1 1019.8h0M1002.1 1005.0h0M872.1 1033.3h0M899.0 1071.2h0M948.9 1036.2h0M933.5 1079.5h0M922.8 1028.6h0M882.0 1057.6h0M978.4 1056.5h0M922.6 1081.9h0M988.1 1052.6h0M979.4 1042.0h0M1010.0 1028.3h0M972.2 1085.2h0M911.5 1056.4h0M913.4 1013.6h0M935.0 1054.3h0M991.0 983.1h0M962.9 1085.7h0M946.5 1041.3h0M923.6 1008.0h0M906.0 1086.8h0M989.7 1018.7h0M981.6 1019.5h0M962.1 1072.5h0M971.4 1050.9h0M993.3 1045.9h0M923.0 1072.2h0M939.6 1041.7h0M951.0 1026.0h0M946.0 1009.1h0M926.9 1010.5h0M947.7 1071.3h0M950.1 1084.2h0M998.7 1022.2h0M926.2 1059.4h0M919.5 1023.2h0M875.1 1033.6h0M953.5 1054.4h0M971.9 1082.4h0M934.9 1051.4h0M948.3 1062.0h0M955.2 1056.5h0M985.4 990.3h0M963.3 1042.8h0M944.1 1059.0h0M922.1 1006.3h0M929.9 1050.1h0M1018.5 1023.5h0M963.7 1046.1h0M926.7 1010.0h0M916.5 1072.4h0M911.7 1052.1h0M989.2 1017.2h0M923.7 1067.3h0M962.9 1067.5h0M1021.5 1044.6h0M956.3 1041.7h0M1026.4 1037.2h0M963.3 1067.8h0M950.4 999.5h0M920.0 1048.5h0M960.4 1025.8h0M876.7 1018.9h0M920.6 1005.9h0M927.8 1032.9h0M976.8 1012.1h0M918.8 1061.4h0M874.1 1047.4h0M894.5 1032.3h0M878.9 1063.0h0M954.4 1022.5h0M1031.8 1039.9h0M918.8 1045.7h0M935.5 1078.7h0M1006.6 1013.5h0M961.6 1025.5h0M937.3 1041.2h0M993.4 1048.5h0M896.0 1070.5h0M894.7 1076.8h0M987.4 991.8h0M936.4 1040.4h0M917.6 1052.1h0M934.5 1003.1h0M951.8 1000.6h0M859.3 1047.1h0M905.8 1085.0h0M907.8 1014.9h0M906.9 1062.0h0M921.2 1011.4h0M888.7 1057.3h0M876.7 1037.0h0M967.6 1044.5h0M881.1 1069.8h0M927.5 1059.6h0M1020.1 1079.9h0M965.2 1030.2h0M895.0 1047.2h0M965.1 1079.3h0M953.5 1026.3h0M988.6 1033.4h0M902.0 1005.7h0M985.4 1031.0h0M995.3 1001.9h0M987.4 1019.8h0M950.4 1040.1h0M939.1 1039.5h0M966.7 1042.5h0M959.6 1013.7h0M958.8 1055.9h0M954.0 1012.9h0M941.0 1073.4h0M962.1 1022.2h0M984.9 1021.3h0M894.0 1066.4h0M987.8 1071.7h0M984.0 995.5h0M1002.4 1084.1h0M953.3 985.7h0M978.3 1042.1h0M915.8 1050.2h0M999.9 1000.6h0M967.3 1002.2h0M863.6 1055.3h0M913.3 1055.9h0M917.5 1020.9h0M962.2 1023.3h0M986.1 1047.5h0M931.2 1046.3h0M982.9 1054.0h0M981.3 1039.9h0M907.5 1010.5h0M922.4 1074.0h0M887.9 1065.4h0M1023.7 994.5h0M881.4 997.9h0M970.0 1063.0h0M898.1 1062.5h0M942.0 1076.8h0M965.2 1049.1h0M986.3 1069.4h0M992.2 1054.9h0M1008.8 988.2h0M889.2 1050.0h0M988.6 1039.8h0M900.7 1042.2h0M913.5 1035.2h0M953.0 1060.9h0M989.4 1036.2h0M930.8 1034.2h0M933.2 1044.5h0M963.6 995.0h0M971.8 1005.1h0M953.5 1041.7h0M952.2 1023.7h0M1006.6 1041.6h0M860.8 1026.8h0M995.4 1050.2h0M978.3 1006.7h0M995.0 1033.4h0M938.0 1042.3h0M960.2 1058.4h0M957.1 1023.6h0M928.7 1048.7h0M867.7 1070.3h0M1028.4 1004.3h0M912.5 1054.6h0M962.0 1056.4h0M871.1 1064.0h0M939.3 1063.5h0M941.9 1064.4h0M949.3 1077.3h0M975.8 1037.7h0M892.1 1034.2h0M909.9 1027.3h0M963.1 1046.2h0M864.8 1020.4h0M967.7 1003.8h0M926.2 1051.5h0M984.4 1057.8h0M916.3 1069.7h0M944.5 1002.2h0M912.9 1044.9h0M908.5 1038.3h0M905.2 1023.5h0M1011.5 1030.8h0M995.1 1001.4h0M906.6 1088.0h0M898.0 1022.2h0M866.4 1040.1h0M912.5 1024.4h0M968.6 1056.4h0M941.7 1022.2h0M965.7 1036.7h0M955.7 1052.1h0M945.4 1040.7h0M961.9 1079.4h0M955.2 1043.8h0M991.3 1028.9h0M957.7 1029.6h0M998.8 1031.5h0M959.2 1057.3h0M949.2 1011.3h0M979.3 1019.4h0M936.4 1033.0h0M922.7 1055.6h0M941.2 1006.8h0M880.8 1074.7h0M1004.1 1050.1h0M898.7 1047.5h0M928.1 1066.1h0M981.9 1041.6h0M965.2 1060.6h0M942.6 1072.0h0M868.6 1066.9h0M965.8 1006.4h0M915.8 1062.1h0M959.2 1061.2h0M946.8 1027.4h0M902.9 1009.8h0M927.4 1051.1h0M992.1 1073.1h0M953.5 1020.2h0M944.6 1020.7h0M950.8 1086.3h0M940.7 1045.5h0M966.4 1024.6h0M957.2 983.3h0M969.1 1004.9h0M879.3 1057.7h0M930.5 1011.2h0M941.6 1062.0h0M948.3 1036.7h0M917.4 1047.9h0M1025.0 1019.2h0M990.7 1007.9h0M983.0 980.0h0M954.7 1029.7h0M1017.1 1019.2h0M919.4 1045.0h0M902.9 1019.6h0M975.6 1038.5h0M926.2 1027.0h0M950.9 1028.1h0M855.8 1043.7h0M998.2 1013.9h0M967.3 1028.5h0M897.5 1068.5h0M993.1 1010.8h0M930.5 1076.5h0M956.4 1012.3h0M949.3 1071.0h0M985.8 1042.6h0M939.8 996.6h0M950.9 1012.3h0M960.2 1027.1h0M982.1 1004.0h0M933.8 1001.9h0M975.2 1038.3h0M887.2 1005.2h0M960.0 1038.9h0M995.2 1027.2h0M921.9 1044.1h0M924.4 998.7h0M888.7 1070.0h0M973.7 1034.0h0M952.4 1010.6h0M938.8 994.4h0M924.9 1038.6h0M886.3 1023.4h0M899.0 1048.5h0M955.6 1032.2h0M1007.1 989.9h0M1024.0 1006.7h0M972.0 1031.8h0M892.2 1063.8h0M942.9 1001.1h0M1007.7 1009.2h0M966.8 1037.3h0M1040.7 1031.8h0M874.9 1026.0h0M942.6 1017.3h0M973.6 1022.1h0M934.7 1001.9h0M890.1 1030.8h0M946.5 1011.7h0M920.9 1056.7h0M944.6 1038.1h0M958.9 1043.9h0M939.4 1050.9h0M987.7 1010.3h0M962.9 1083.1h0M943.6 1076.9h0M1021.0 1043.0h0M931.4 1001.0h0M964.5 1047.0h0M951.8 1085.6h0M926.2 1028.6h0M926.0 1032.7h0M954.8 980.7h0M927.0 1050.1h0M995.6 1017.2h0M970.3 1066.0h0M925.3 1026.5h0M982.6 1026.6h0M927.6 1012.7h0M952.6 1044.1h0M977.7 1018.5h0M916.1 1027.0h0M952.2 1032.0h0M972.8 1015.4h0M921.6 1064.7h0M960.6 1065.4h0M877.0 1010.8h0M991.2 1044.9h0M980.9 1023.4h0M997.4 1040.8h0M938.0 1036.7h0M899.0 1055.4h0M979.3 1011.8h0M990.7 1046.1h0M921.3 1061.5h0M937.2 1081.4h0M1033.1 1075.4h0M990.1 1013.7h0M962.7 1035.9h0M962.6 1003.6h0M866.4 1048.1h0M885.3 1067.9h0M921.4 1024.7h0M990.6 1045.5h0M984.4 1021.9h0M945.7 1027.3h0M1003.9 998.8h0M962.9 1063.5h0M985.7 1057.6h0M904.1 1071.5h0M935.7 996.5h0M960.8 1046.3h0M998.4 986.7h0M955.0 1051.7h0M939.4 1051.4h0M933.5 1068.7h0M937.5 1000.1h0M1002.4 1071.5h0M905.6 1035.5h0M1019.1 1022.7h0M966.0 1026.0h0M929.6 1083.6h0M956.3 1014.1h0M877.7 1078.3h0M926.2 1066.6h0M940.1 1017.6h0M979.0 1062.7h0M1010.3 1071.3h0M958.7 1024.3h0M952.7 1000.3h0M936.7 1020.5h0M962.1 1049.3h0M999.3 1031.2h0M942.8 996.3h0M952.5 1061.2h0M998.6 1032.0h0M934.9 1073.0h0M951.1 1015.7h0M972.6 1031.3h0M927.8 982.1h0M957.7 1053.6h0M947.9 1030.9h0M923.1 1036.5h0M1009.3 995.8h0M1006.9 1014.9h0M994.0 1005.2h0M959.0 1058.7h0M929.3 995.4h0M977.4 1052.0h0M951.9 1024.1h0M909.7 1025.4h0M955.2 1064.0h0M967.4 995.7h0M870.7 1058.8h0M906.5 1067.5h0M924.4 1015.3h0M997.0 1028.8h0M947.8 1044.9h0M952.9 1050.8h0M945.3 1067.5h0M955.0 1003.2h0M937.8 1056.7h0M951.3 1016.4h0M877.3 1056.9h0M925.9 1008.5h0M975.7 1049.4h0M987.4 1013.3h0M976.3 1033.2h0M1007.5 1004.3h0M969.6 1041.0h0M969.7 1035.8h0M944.2 1055.1h0M930.4 1066.1h0M904.5 1084.5h0M958.1 1052.9h0M895.7 1075.7h0M932.4 1044.5h0M959.5 1068.0h0M951.9 1032.2h0M962.8 1046.8h0M1051.1 1040.6h0M1028.6 1046.1h0M993.7 977.5h0M1071.1 1036.1h0M1019.2 1034.6h0M1028.8 1021.2h0M1026.5 1024.3h0M1034.1 1050.9h0M1041.7 1011.2h0M1009.7 1006.8h0M1050.5 1054.8h0M1046.4 1004.6h0M1050.7 1052.8h0M1040.6 1019.3h0M1003.0 1079.7h0M1060.0 973.1h0M979.0 1057.4h0M1064.1 1044.3h0M1071.1 1073.7h0M1108.1 1076.3h0M1102.9 1040.8h0M1085.9 1037.0h0M1016.8 1038.8h0M964.1 1020.2h0M992.7 1020.5h0M1070.6 981.3h0M1001.9 995.8h0M1028.9 1015.6h0M1019.6 1052.4h0M1015.1 1027.0h0M1047.4 1030.0h0M997.3 1036.4h0M1101.0 1005.1h0M1077.4 1002.6h0M1081.3 1018.7h0M1092.0 991.0h0M1081.4 1032.3h0M1064.5 1030.3h0M1067.9 1077.0h0M1052.9 1066.0h0M997.6 1073.3h0M1026.7 977.9h0M1052.0 1009.4h0M1061.3 1017.2h0M1039.9 1054.7h0M1059.7 1002.3h0M978.9 1041.7h0M1035.9 1029.2h0M994.7 1026.5h0M991.3 1024.9h0M1060.6 1071.7h0M987.0 1041.1h0M1019.6 1054.3h0M1051.8 1057.3h0M1008.7 1068.3h0M1056.2 1058.0h0M1080.1 1013.6h0M1005.3 1031.1h0M1048.1 1040.4h0M1043.9 1040.7h0M1047.3 1039.4h0M1028.6 1086.8h0M1049.3 1034.4h0M1014.2 1022.1h0M1074.5 1035.8h0M1024.8 996.4h0M1036.7 1061.4h0M1025.3 1025.2h0M1014.8 1025.0h0M1076.7 1030.9h0M1011.2 1029.1h0M1078.1 989.2h0M1101.4 976.0h0M1050.6 1013.4h0M1093.5 986.6h0M973.7 1023.7h0M1030.2 1042.9h0M1026.1 987.0h0M1070.0 1029.4h0M979.9 1033.3h0M1078.7 1050.2h0M1024.0 1044.2h0M1050.1 1050.7h0M1051.4 1006.6h0M1059.1 1068.8h0M1094.9 1045.6h0M1078.0 1014.2h0M1051.3 1036.3h0M1031.3 1060.1h0M1042.2 1075.0h0M1083.4 1035.5h0M1084.6 1031.4h0M1075.0 1051.0h0M1002.0 1048.9h0M1018.3 991.5h0M1071.7 1073.4h0M1050.9 982.6h0M1046.7 1016.8h0M1102.7 991.1h0M1080.7 981.2h0M1006.6 984.5h0M1008.8 1036.5h0M1080.1 996.1h0M1051.0 1033.1h0M1039.5 1003.3h0M1049.8 1060.7h0M1042.3 1035.2h0M1047.6 1065.5h0M1034.7 1016.1h0M1017.4 1045.4h0M1027.0 1041.0h0M1059.8 1016.4h0M1106.8 1011.0h0M1100.2 966.9h0M1052.1 1022.1h0M1067.6 1064.9h0M1002.9 1029.6h0M1024.7 1028.4h0M1090.7 1053.3h0M1037.7 991.6h0M1034.3 984.8h0M1067.9 1054.1h0M1041.3 987.6h0M1063.2 1048.3h0M1027.4 1077.5h0M1097.7 1011.0h0M1100.8 987.7h0M1040.8 1028.9h0M1016.8 1046.3h0M1067.8 1005.9h0M1039.1 1012.0h0M983.2 1054.2h0M1022.6 1055.2h0M1054.8 1079.9h0M964.4 1076.4h0M1037.7 1056.8h0M972.0 1030.3h0M961.1 1013.9h0M981.1 1015.9h0M982.5 1041.5h0M1047.8 1049.3h0M1040.2 1037.8h0M991.6 1028.0h0M1010.9 1030.8h0M1055.0 1014.5h0M1061.3 1020.2h0M1011.3 1009.9h0M1036.0 1054.6h0M1058.2 1022.6h0M1052.0 970.0h0M1024.4 1021.5h0M978.6 1016.8h0M1083.5 1049.4h0M1063.2 1051.0h0M1024.1 1056.7h0M1079.2 1038.7h0M1047.1 1003.3h0M1058.2 965.9h0M1059.7 1004.4h0M1056.3 1025.2h0M1049.3 989.1h0M1024.4 1034.1h0M1032.1 987.7h0M1042.9 1003.8h0M991.2 1071.0h0M1052.0 1039.7h0M1087.9 1056.9h0M994.2 1037.9h0M1048.5 1017.8h0M1063.6 1044.9h0M982.5 1006.7h0M1082.5 1046.3h0M1054.6 1027.6h0M1059.9 1083.5h0M993.0 1008.7h0M1037.0 1058.9h0M1000.9 1025.6h0M1058.0 979.3h0M995.2 1036.1h0M1054.4 972.9h0M961.8 1006.2h0M1015.9 1067.6h0M959.1 1057.8h0M1002.1 1033.9h0M1036.1 1032.5h0M1052.9 1016.6h0M1019.4 1056.8h0M1053.6 1026.7h0M975.1 1055.2h0M1029.4 1067.6h0M1051.3 998.1h0M1107.9 993.4h0M1000.6 1074.3h0M1027.7 1007.3h0M1100.8 1024.0h0M1030.8 1004.3h0M1071.7 1056.4h0M1014.1 1055.9h0M1028.5 1040.3h0M1089.6 1050.6h0M999.2 1030.3h0M1005.0 1043.0h0M1077.5 1016.8h0M1035.8 1050.4h0M1067.3 1009.5h0M995.5 1078.6h0M1092.6 1017.0h0M1030.0 991.9h0M1075.4 1043.2h0M1090.9 1040.1h0M1052.6 1040.2h0M1065.5 1027.3h0M1032.7 1033.7h0M1026.7 1018.7h0M1066.0 1048.6h0M1017.8 1039.7h0M1047.6 1008.4h0M987.9 1002.1h0M1020.2 1057.1h0M1079.0 1014.1h0M1035.3 1021.6h0M1060.7 1034.7h0M984.8 1012.4h0M991.3 1022.4h0M1074.4 1083.3h0M1091.5 989.6h0M1080.0 1012.4h0M1127.3 1031.9h0M1013.4 1026.4h0M1018.0 1077.9h0M1076.2 996.9h0M968.5 1026.8h0M1048.9 1025.4h0M967.8 985.2h0M1071.9 1008.6h0M1100.5 1053.8h0M1111.6 994.0h0M1054.0 1019.5h0M1103.1 1005.1h0M973.0 1023.5h0M1077.3 1045.1h0M1065.1 1014.9h0M1128.4 986.1h0M996.4 1066.8h0M1089.1 1019.7h0M1013.9 1047.3h0M1045.2 1032.9h0M1001.1 1062.5h0M1072.4 987.9h0M1009.5 1006.4h0M1012.3 1001.8h0M1042.2 1047.4h0M996.8 1027.7h0M1013.4 1055.2h0M1048.9 1036.2h0M1110.5 1044.7h0M1076.9 984.6h0M1066.7 986.0h0M1091.8 1043.3h0M992.1 1064.5h0M984.9 1041.8h0M1037.3 992.4h0M1054.4 1059.0h0M998.3 1023.8h0M1029.5 999.1h0M1045.1 1040.2h0M970.4 1040.0h0M1086.6 982.2h0M1060.0 1045.7h0M1082.6 1006.4h0M1010.5 1029.1h0M1070.2 1037.8h0M1085.1 1029.9h0M994.9 1041.7h0M1015.2 1014.6h0M1029.2 995.1h0M982.8 1047.9h0M1050.1 1049.6h0M1092.8 998.1h0M1001.1 1054.6h0M987.5 1043.9h0M1003.8 1054.7h0M1011.3 1059.8h0M1055.0 989.7h0M1021.8 1020.4h0M1043.0 993.0h0M968.3 981.9h0M1056.7 1009.4h0M1002.8 1057.2h0M1009.5 1022.5h0M1001.2 1059.1h0M1024.7 973.6h0M1015.7 1073.9h0M1016.6 1034.9h0M1114.5 1001.1h0M998.5 1038.5h0M1002.3 991.6h0M1049.3 1050.8h0M1035.2 1035.9h0M988.1 1075.5h0M1053.5 1050.2h0M1029.8 1044.5h0M1044.9 1060.4h0M1055.4 1008.4h0M1015.3 1074.3h0M1006.0 1020.7h0M1086.5 1006.8h0M1056.5 1040.2h0M999.5 1019.3h0M1074.4 1009.0h0M1030.7 1026.1h0M1092.5 1018.4h0M1044.0 1043.8h0M1046.0 1040.4h0M1086.1 1067.1h0M1067.7 1037.3h0M1020.2 1063.3h0M1002.5 982.6h0M1021.5 1017.8h0M1036.0 992.9h0M989.1 1045.1h0M1019.1 1027.9h0M1054.7 1033.0h0M985.7 997.3h0M1064.2 1003.5h0M1029.3 1023.3h0M1106.8 984.3h0M1076.3 1015.3h0M1064.7 1026.4h0M1040.4 1060.1h0M1058.7 1037.9h0M998.4 988.9h0M1087.8 1067.7h0M1030.9 1021.0h0M1053.1 1031.4h0M1036.1 1038.1h0M989.0 1009.1h0M1083.3 1009.6h0M983.9 1060.6h0M1059.2 1019.1h0M1075.0 1020.6h0M1064.7 1003.4h0M1002.0 1045.4h0M1054.3 1004.7h0M1072.7 1038.6h0M1033.0 1034.3h0M1020.0 1062.1h0M1032.0 994.9h0M1090.9 1019.4h0M1076.1 1009.7h0M1084.3 1007.7h0M975.4 1021.0h0M1088.9 1003.2h0M1016.0 1041.2h0M1029.2 981.9h0M1123.8 1010.6h0M1004.4 1060.7h0M1008.7 1018.3h0M1111.3 993.1h0M1073.0 1001.8h0M1030.4 1071.8h0M1083.9 1061.8h0M974.6 1024.1h0M1120.6 976.8h0M1071.2 1040.8h0M1091.9 1039.3h0M1037.7 1005.2h0M1004.0 1014.7h0M1002.7 1023.9h0M1017.1 1040.2h0M1042.0 1023.0h0M1066.6 1069.1h0M1072.1 1036.5h0M1033.8 1038.0h0M990.6 1058.7h0M1103.5 1028.8h0M1086.1 1050.4h0M1083.9 1038.1h0M985.7 1021.9h0M1083.2 1024.9h0M1009.3 1019.2h0M971.9 1054.9h0M1040.4 980.2h0M1054.2 987.7h0M1016.0 1029.7h0M1040.2 1023.1h0M1057.4 1015.3h0M1021.1 1011.0h0M1034.8 1063.6h0M1049.2 1024.5h0M1016.2 1001.1h0M1046.9 1024.5h0M1001.7 975.9h0M987.9 1076.4h0M1143.5 1044.2h0M1035.4 1030.3h0M1018.2 1032.8h0M1054.1 985.5h0M1073.4 979.4h0M977.9 1054.9h0M1071.5 995.3h0M992.7 1008.5h0M1040.0 1065.1h0M981.5 1007.7h0M1116.0 1083.5h0M999.6 1020.1h0M1051.6 1024.9h0M1022.0 1017.9h0M1048.7 1043.4h0M1054.0 1038.5h0M960.4 1026.8h0M973.6 1018.3h0M1016.2 996.6h0M1059.7 1034.3h0M1017.3 999.9h0M992.4 1008.8h0M1050.7 1040.6h0M1021.8 1022.2h0M1042.7 1023.6h0M1019.2 1017.1h0M994.4 1064.6h0M1064.2 1039.0h0M1018.8 1005.5h0M987.1 1041.0h0M1066.5 1049.1h0M1023.8 1026.0h0M1027.3 1067.3h0M1023.8 1056.9h0M1037.1 1075.2h0M1003.2 1018.5h0M1088.0 983.3h0M1023.8 1071.5h0M993.3 1054.7h0M1017.5 1037.0h0M1054.6 1009.6h0M1040.3 979.0h0M1064.0 982.4h0M1061.8 985.4h0M1081.8 995.2h0M1067.4 1009.7h0M1181.2 1010.2h0M1225.8 1029.5h0M1207.0 1017.6h0M1133.3 1025.2h0M1151.8 1032.4h0M1166.9 1013.5h0M1097.8 1035.7h0M1098.6 1050.8h0M1157.8 1038.0h0M1165.5 1059.6h0M1149.7 1022.1h0M1135.9 1045.8h0M1092.3 1004.7h0M1122.4 1024.3h0M1106.0 995.1h0M1137.3 990.9h0M1191.1 1012.2h0M1088.4 984.1h0M1106.9 1036.2h0M1153.6 1054.1h0M1147.8 1009.9h0M1100.1 1007.4h0M1116.4 1034.0h0M1084.8 1029.8h0M1160.5 1043.8h0M1135.1 1033.2h0M1107.4 1037.1h0M1151.2 1033.4h0M1091.5 1035.0h0M1132.4 975.3h0M1108.8 1009.8h0M1105.0 1001.9h0M1136.5 1047.3h0M1155.0 996.8h0M1182.4 994.7h0M1108.4 1046.3h0M1139.2 1053.3h0M1105.2 1030.4h0M1132.4 994.9h0M1094.7 1019.3h0M1202.1 1026.2h0M1189.0 992.9h0M1087.0 1032.3h0M1130.1 1043.7h0M1122.1 1042.8h0M1131.6 1025.8h0M1177.3 989.2h0M1149.9 1079.9h0M1072.3 1014.3h0M1131.5 1008.5h0M1147.9 1017.5h0M1184.4 989.1h0M1076.6 1041.5h0M1124.7 1042.4h0M1191.3 1023.5h0M1166.8 1058.9h0M1152.1 1023.5h0M1104.6 1020.9h0M1143.5 1007.2h0M1211.2 1016.2h0M1133.7 1055.4h0M1206.2 1042.2h0M1073.6 1065.5h0M1203.2 988.6h0M1082.8 1057.3h0M1073.5 965.8h0M1110.7 997.9h0M1139.5 967.3h0M1173.1 1005.5h0M1170.4 1083.7h0M1061.5 1021.8h0M1135.9 1057.7h0M1156.6 982.8h0M1097.8 1010.6h0M1118.9 1056.9h0M1084.0 1016.2h0M1127.6 1061.3h0M1111.7 1022.5h0M1113.5 1032.2h0M1147.5 1002.8h0M1152.4 1025.0h0M1138.9 1016.3h0M1175.8 1029.6h0M1089.8 1008.4h0M1103.7 1006.7h0M1117.3 998.6h0M1095.3 1031.3h0M1071.7 1011.6h0M1131.8 1018.7h0M1124.7 1041.9h0M1174.1 1003.1h0M1125.7 1009.2h0M1081.2 1081.9h0M1078.5 1070.1h0M1191.7 1029.0h0M1133.9 1012.3h0M1135.4 1048.1h0M1115.8 1000.2h0M1100.7 980.6h0M1071.4 1010.5h0M1165.1 1038.3h0M1122.9 987.3h0M1181.5 1036.5h0M1123.1 999.6h0M1168.2 1036.7h0M1071.8 1023.1h0M1133.4 979.3h0M1084.7 1033.9h0M1142.5 1043.3h0M1110.1 1017.4h0M1175.3 1017.0h0M1172.2 1018.6h0M1104.4 1071.4h0M1137.4 1002.9h0M1109.8 1075.1h0M1112.7 1039.4h0M1130.3 993.1h0M1130.1 984.1h0M1132.9 1018.3h0M1152.0 1033.7h0M1194.6 998.1h0M1140.6 1018.3h0M1151.5 1027.9h0M1112.8 1056.2h0M1106.9 1015.8h0M1130.8 988.5h0M1086.7 1059.9h0M1077.9 986.6h0M1117.7 1051.0h0M1116.0 1013.6h0M1129.9 1044.3h0M1153.9 1036.1h0M1112.2 987.7h0M1118.9 1048.4h0M1077.9 975.7h0M1163.7 1020.0h0M1116.7 1002.8h0M1141.6 1025.1h0M1140.0 978.9h0M1176.7 1023.5h0M1094.3 1051.0h0M1160.1 1007.6h0M1129.2 1024.3h0M1103.2 980.2h0M1152.1 969.9h0M1160.7 1041.8h0M1153.0 973.3h0M1133.9 1031.4h0M1174.2 982.4h0M1139.4 1004.8h0M1107.3 1058.7h0M1208.8 1015.4h0M1093.4 994.1h0M1122.2 1034.7h0M1093.5 1023.1h0M1184.6 1013.0h0M1136.2 1012.3h0M1214.5 1036.6h0M1165.1 1000.7h0M1210.7 1078.3h0M1237.3 1021.6h0M1215.7 1044.3h0M1184.9 1046.4h0M1187.5 1051.2h0M1236.1 1029.7h0M1191.3 1072.0h0M1190.0 1062.8h0M1266.6 984.0h0M1229.3 975.0h0M1219.7 963.9h0M1179.7 1051.4h0M1253.1 1001.0h0M1196.8 984.5h0M1198.5 989.1h0M1219.5 973.0h0M1181.7 1052.4h0M1210.5 973.0h0M1197.9 1007.3h0M1232.5 1022.8h0M1293.5 1007.0h0M1161.0 992.9h0M1229.4 1008.4h0M1230.4 1054.8h0M1187.8 1068.4h0M1200.3 1043.0h0M1171.2 1003.5h0M1174.1 1023.8h0M1220.8 1034.1h0M1160.7 969.9h0M1230.0 978.9h0M1251.3 981.1h0M1197.1 1013.3h0M1181.0 972.0h0M1196.5 1026.8h0M1177.9 1028.1h0M1209.7 988.5h0M1193.4 991.0h0M1221.8 986.9h0M1182.7 1029.8h0M1211.4 978.8h0M1214.3 1006.2h0M1213.4 1026.1h0M1180.0 994.2h0M1245.6 1027.9h0M1209.9 1030.6h0M1291.7 1031.1h0M1326.5 1033.1h0M1305.1 1052.2h0M1235.0 88.6h0M1287.3 91.3h0M1267.8 121.6h0M1338.8 115.7h0M1342.0 124.3h0M1364.0 129.7h0M1377.5 112.4h0M1380.2 118.4h0M1259.3 168.0h0M1347.7 157.1h0M1358.3 162.5h0M1372.1 168.0h0M1344.2 176.6h0M1377.5 190.2h0M1369.1 198.3h0M1399.7 165.8h0M1259.3 220.5h0M1300.3 215.1h0M1325.2 217.8h0M1355.0 215.1h0M1361.0 209.1h0M1364.0 217.3h0M1229.0 242.2h0M1240.1 247.6h0M1259.3 239.5h0M1270.5 239.5h0M1267.8 253.3h0M1267.8 267.4h0M1319.8 245.2h0M1358.3 245.2h0M1287.3 261.4h0M1292.1 262.0h0M1295.4 266.9h0M1287.3 281.0h0M1292.7 281.0h0M1229.0 275.5h0M1245.3 275.5h0M1249.3 275.5h0M1254.2 275.5h0M1229.0 289.1h0M1234.4 294.5h0M1256.9 302.6h0M1349.6 272.3h0M1377.5 269.6h0M1388.3 283.7h0M1325.2 283.7h0M1344.2 299.9h0M1372.1 294.5h0M1382.9 299.9h0M1215.4 314.0h0M1237.7 333.0h0M1243.1 346.8h0M1237.7 366.3h0M1253.9 366.3h0M1314.4 358.2h0M1385.6 352.2h0M1394.3 357.7h0M1374.8 382.6h0M1391.1 385.3h0M1358.3 388.6h0M1338.8 396.7h0M1319.8 404.3h0M1327.9 407.0h0M1380.2 398.8h0M1391.1 402.1h0M1226.3 408.9h0M1146.3 93.4h0M1111.1 99.4h0M1166.1 228.9h0M1189.7 297.2h0M1199.2 299.9h0M1189.7 309.4h0M1193.8 324.9h0M1196.5 354.9h0M1103.0 369.0h0M1193.8 380.4h0M1196.5 404.8h0M836.3 484.2h0M765.3 624.6h0M811.4 624.6h0M737.4 635.4h0M652.3 671.2h0M937.9 657.1h0M940.7 693.4h0M679.9 706.4h0M762.1 723.5h0M880.5 737.0h0M814.1 747.0h0M652.3 747.9h0M1685.1 749.2h0M1684.0 759.2h0M1691.3 764.6h0M1635.8 756.5h0M1649.3 756.5h0M1652.0 764.6h0M1652.6 772.7h0M1680.5 772.7h0M1673.7 776.8h0M1668.3 779.0h0M1661.5 779.5h0M1660.2 783.6h0M1635.8 779.0h0M1635.8 781.7h0M1624.9 789.0h0M1649.3 787.1h0M1654.7 788.2h0M1654.7 795.2h0M1666.1 795.2h0M1668.3 803.4h0M1660.2 803.4h0M1657.5 809.3h0M1619.5 808.8h0M1641.2 808.8h0M1645.3 808.8h0M1630.4 822.3h0M1597.3 833.2h0M1608.7 835.9h0M1615.4 831.6h0M1614.1 841.9h0M1547.7 874.4h0M1534.7 915.8h0M1559.1 910.1h0M1572.9 915.8h0M1594.6 912.9h0M1641.7 915.8h0M1660.7 910.1h0M1660.7 929.4h0M1559.1 932.1h0M1446.6 932.1h0M1622.2 954.3h0M1594.6 959.7h0M1630.4 973.3h0M1658.0 1000.9h0M1572.9 1019.9h0M1632.5 1019.9h0M1638.5 1019.9h0M1654.7 1025.3h0M1660.7 1028.8h0M1465.6 1053.2h0M1811.7 269.6h0M1820.1 264.2h0M1800.8 264.2h0M1825.2 275.5h0M1828.7 281.0h0M1838.8 281.0h0M1809.2 283.7h0M1855.8 272.3h0M1852.3 281.5h0M1855.8 294.5h0M1868.0 259.3h0M1873.4 260.6h0M1878.9 261.4h0M1882.9 262.0h0M1899.7 259.3h0M1894.0 291.8h0M1924.4 256.0h0M1932.5 259.3h0M1933.1 262.0h0M1814.6 344.1h0M1825.5 371.7h0M1806.2 308.1h0M1803.0 299.9h0M847.0 111.0h0M726.0 291.0h0M967.0 261.0h0M908.0 388.0h0"/></g>
<g clip-path="url(#ax)" fill="none" stroke-width="5.6" stroke-linecap="square" stroke-linejoin="round"><polyline stroke="#0000ff" points="196.7,1078.6 199.9,1078.6 203.2,1078.6 206.4,1078.6 209.7,1078.5 212.9,1078.5 216.2,1078.5 219.4,1078.5 222.7,1078.4 225.9,1078.4 229.2,1078.4 232.4,1078.3 235.7,1078.3 238.9,1078.3 242.2,1078.2 245.4,1078.2 248.6,1078.2 251.9,1078.2 255.1,1078.1 258.4,1078.1 261.6,1078.0 264.9,1078.0 268.1,1078.0 271.4,1077.9 274.6,1077.9 277.9,1077.9 281.1,1077.8 284.4,1077.8 287.6,1077.7 290.9,1077.7 294.1,1077.7 297.4,1077.6 300.6,1077.6 303.8,1077.5 307.1,1077.5 310.3,1077.4 313.6,1077.4 316.8,1077.3 320.1,1077.3 323.3,1077.2 326.6,1077.2 329.8,1077.1 333.1,1077.1 336.3,1077.0 339.6,1077.0 342.8,1076.9 346.1,1076.9 349.3,1076.8 352.5,1076.7 355.8,1076.7 359.0,1076.6 362.3,1076.6 365.5,1076.5 368.8,1076.4 372.0,1076.4 375.3,1076.3 378.5,1076.2 381.8,1076.2 385.0,1076.1 388.3,1076.0 391.5,1075.9 394.8,1075.9 398.0,1075.8 401.2,1075.7 404.5,1075.6 407.7,1075.6 411.0,1075.5 414.2,1075.4 417.5,1075.3 420.7,1075.2 424.0,1075.1 427.2,1075.0 430.5,1075.0 433.7,1074.9 437.0,1074.8 440.2,1074.7 443.5,1074.6 446.7,1074.5 449.9,1074.4 453.2,1074.3 456.4,1074.2 459.7,1074.0 462.9,1073.9 466.2,1073.8 469.4,1073.7 472.7,1073.6 475.9,1073.5 479.2,1073.4 482.4,1073.2 485.7,1073.1 488.9,1073.0 492.2,1072.9 495.4,1072.7 498.7,1072.6 501.9,1072.5 505.1,1072.3 508.4,1072.2 511.6,1072.0 514.9,1071.9 518.1,1071.7 521.4,1071.6 524.6,1071.4 527.9,1071.3 531.1,1071.1 534.4,1070.9 537.6,1070.8 540.9,1070.6 544.1,1070.4 547.4,1070.3 550.6,1070.1 553.8,1069.9 557.1,1069.7 560.3,1069.5 563.6,1069.3 566.8,1069.1 570.1,1068.9 573.3,1068.7 576.6,1068.5 579.8,1068.3 583.1,1068.1 586.3,1067.9 589.6,1067.6 592.8,1067.4 596.1,1067.2 599.3,1066.9 602.5,1066.7 605.8,1066.5 609.0,1066.2 612.3,1066.0 615.5,1065.7 618.8,1065.4 622.0,1065.2 625.3,1064.9 628.5,1064.6 631.8,1064.3 635.0,1064.1 638.3,1063.8 641.5,1063.5 644.8,1063.2 648.0,1062.8 651.3,1062.5 654.5,1062.2 657.7,1061.9 661.0,1061.6 664.2,1061.2 667.5,1060.9 670.7,1060.5 674.0,1060.2 677.2,1059.8 680.5,1059.4 683.7,1059.1 687.0,1058.7 690.2,1058.3 693.5,1057.9 696.7,1057.5 700.0,1057.1 703.2,1056.6 706.4,1056.2 709.7,1055.8 712.9,1055.3 716.2,1054.9 719.4,1054.4 722.7,1054.0 725.9,1053.5 729.2,1053.0 732.4,1052.5 735.7,1052.0 738.9,1051.5 742.2,1051.0 745.4,1050.5 748.7,1049.9 751.9,1049.4 755.1,1048.8 758.4,1048.2 761.6,1047.7 764.9,1047.1 768.1,1046.5 771.4,1045.9 774.6,1045.3 777.9,1044.6 781.1,1044.0 784.4,1043.3 787.6,1042.7 790.9,1042.0 794.1,1041.3 797.4,1040.6 800.6,1039.9 803.8,1039.2 807.1,1038.4 810.3,1037.7 813.6,1036.9 816.8,1036.1 820.1,1035.3 823.3,1034.5 826.6,1033.7 829.8,1032.9 833.1,1032.0 836.3,1031.2 839.6,1030.3 842.8,1029.4 846.1,1028.5 849.3,1027.5 852.6,1026.6 855.8,1025.7 859.0,1024.7 862.3,1023.7 865.5,1022.7 868.8,1021.7 872.0,1020.6 875.3,1019.5 878.5,1018.5 881.8,1017.4 885.0,1016.3 888.3,1015.1 891.5,1014.0 894.8,1012.8 898.0,1011.6 901.3,1010.4 904.5,1009.1 907.7,1007.9 911.0,1006.6 914.2,1005.3 917.5,1004.0 920.7,1002.6 924.0,1001.3 927.2,999.9 930.5,998.5 933.7,997.0 937.0,995.6 940.2,994.1 943.5,992.6 946.7,991.1 950.0,989.5 953.2,987.9 956.4,986.3 959.7,984.7 962.9,983.0 966.2,981.3 969.4,979.6 972.7,977.9 975.9,976.1 979.2,974.3 982.4,972.5 985.7,970.6 988.9,968.7 992.2,966.8 995.4,964.8 998.7,962.9 1001.9,960.9 1005.1,958.8 1008.4,956.7 1011.6,954.6 1014.9,952.5 1018.1,950.3 1021.4,948.1 1024.6,945.9 1027.9,943.6 1031.1,941.3 1034.4,938.9 1037.6,936.6 1040.9,934.1 1044.1,931.7 1047.4,929.2 1050.6,926.7 1053.9,924.1 1057.1,921.5 1060.3,918.9 1063.6,916.2 1066.8,913.5 1070.1,910.7 1073.3,907.9 1076.6,905.1 1079.8,902.2 1083.1,899.3 1086.3,896.4 1089.6,893.4 1092.8,890.3 1096.1,887.2 1099.3,884.1 1102.6,881.0 1105.8,877.8 1109.0,874.5 1112.3,871.2 1115.5,867.9 1118.8,864.5 1122.0,861.1 1125.3,857.6 1128.5,854.1 1131.8,850.5 1135.0,846.9 1138.3,843.3 1141.5,839.6 1144.8,835.9 1148.0,832.1 1151.3,828.2 1154.5,824.4 1157.7,820.5 1161.0,816.5 1164.2,812.5 1167.5,808.4 1170.7,804.3 1174.0,800.2 1177.2,796.0 1180.5,791.7 1183.7,787.5 1187.0,783.1 1190.2,778.8 1193.5,774.3 1196.7,769.9 1200.0,765.4 1203.2,760.8 1206.5,756.2 1209.7,751.6 1212.9,746.9 1216.2,742.2 1219.4,737.4 1222.7,732.6 1225.9,727.8 1229.2,722.9 1232.4,717.9 1235.7,713.0 1238.9,708.0 1242.2,702.9 1245.4,697.8 1248.7,692.7 1251.9,687.6 1255.2,682.4 1258.4,677.2 1261.6,671.9 1264.9,666.6 1268.1,661.3 1271.4,655.9 1274.6,650.6 1277.9,645.1 1281.1,639.7 1284.4,634.2 1287.6,628.8 1290.9,623.3 1294.1,617.7 1297.4,612.2 1300.6,606.6 1303.9,601.0 1307.1,595.4 1310.3,589.8 1313.6,584.2 1316.8,578.6 1320.1,572.9 1323.3,567.3 1326.6,561.6 1329.8,555.9 1333.1,550.3 1336.3,544.6 1339.6,538.9 1342.8,533.3 1346.1,527.6 1349.3,522.0 1352.6,516.4 1355.8,510.7 1359.0,505.1 1362.3,499.5 1365.5,494.0 1368.8,488.4 1372.0,482.9 1375.3,477.4 1378.5,471.9 1381.8,466.5 1385.0,461.1 1388.3,455.7 1391.5,450.3 1394.8,445.0 1398.0,439.8 1401.3,434.6 1404.5,429.4 1407.8,424.2 1411.0,419.2 1414.2,414.1 1417.5,409.2 1420.7,404.3 1424.0,399.4 1427.2,394.6 1430.5,389.9 1433.7,385.2 1437.0,380.6 1440.2,376.0 1443.5,371.6 1446.7,367.2 1450.0,362.9 1453.2,358.6 1456.5,354.4 1459.7,350.3 1462.9,346.3 1466.2,342.4 1469.4,338.5 1472.7,334.7 1475.9,331.0 1479.2,327.4 1482.4,323.9 1485.7,320.5 1488.9,317.1 1492.2,313.8 1495.4,310.7 1498.7,307.6 1501.9,304.6 1505.2,301.6 1508.4,298.8 1511.6,296.1 1514.9,293.4 1518.1,290.8 1521.4,288.3 1524.6,285.9 1527.9,283.6 1531.1,281.4 1534.4,279.3 1537.6,277.2 1540.9,275.2 1544.1,273.3 1547.4,271.5 1550.6,269.7 1553.9,268.1 1557.1,266.5 1560.4,265.0 1563.6,263.5 1566.8,262.1 1570.1,260.8 1573.3,259.6 1576.6,258.4 1579.8,257.3 1583.1,256.2 1586.3,255.2 1589.6,254.3 1592.8,253.4 1596.1,252.6 1599.3,251.8 1602.6,251.1 1605.8,250.4 1609.1,249.7 1612.3,249.1 1615.5,248.6 1618.8,248.1 1622.0,247.6 1625.3,247.2 1628.5,246.7 1631.8,246.4 1635.0,246.0 1638.3,245.7 1641.5,245.4 1644.8,245.1 1648.0,244.9 1651.3,244.6 1654.5,244.4 1657.8,244.3 1661.0,244.1 1664.2,243.9 1667.5,243.8 1670.7,243.7 1674.0,243.6 1677.2,243.5 1680.5,243.4 1683.7,243.3 1687.0,243.2 1690.2,243.1 1693.5,243.1 1696.7,243.0 1700.0,243.0 1703.2,243.0 1706.5,242.9 1709.7,242.9 1712.9,242.9 1716.2,242.8 1719.4,242.8 1722.7,242.8 1725.9,242.8 1729.2,242.8 1732.4,242.8 1735.7,242.8 1738.9,242.8 1742.2,242.7 1745.4,242.7 1748.7,242.7 1751.9,242.7 1755.2,242.7 1758.4,242.7 1761.7,242.7 1764.9,242.7 1768.1,242.7 1771.4,242.7 1774.6,242.7 1777.9,242.7 1781.1,242.7 1784.4,242.7 1787.6,242.7 1790.9,242.7 1794.1,242.7 1797.4,242.7 1800.6,242.7 1803.9,242.7 1807.1,242.7 1810.4,242.7 1813.6,242.7 1816.8,242.7 1820.1,242.7"/><polyline stroke="#008000" points="196.7,1079.1 199.9,1079.0 203.2,1079.0 206.4,1079.0 209.7,1079.0 212.9,1078.9 216.2,1078.9 219.4,1078.9 222.7,1078.9 225.9,1078.8 229.2,1078.8 232.4,1078.8 235.7,1078.8 238.9,1078.7 242.2,1078.7 245.4,1078.7 248.6,1078.6 251.9,1078.6 255.1,1078.6 258.4,1078.5 261.6,1078.5 264.9,1078.5 268.1,1078.4 271.4,1078.4 274.6,1078.4 277.9,1078.3 281.1,1078.3 284.4,1078.3 287.6,1078.2 290.9,1078.2 294.1,1078.2 297.4,1078.1 300.6,1078.1 303.8,1078.0 307.1,1078.0 310.3,1078.0 313.6,1077.9 316.8,1077.9 320.1,1077.8 323.3,1077.8 326.6,1077.7 329.8,1077.7 333.1,1077.6 336.3,1077.6 339.6,1077.5 342.8,1077.5 346.1,1077.4 349.3,1077.4 352.5,1077.3 355.8,1077.3 359.0,1077.2 362.3,1077.2 365.5,1077.1 368.8,1077.0 372.0,1077.0 375.3,1076.9 378.5,1076.9 381.8,1076.8 385.0,1076.7 388.3,1076.7 391.5,1076.6 394.8,1076.5 398.0,1076.5 401.2,1076.4 404.5,1076.3 407.7,1076.2 411.0,1076.2 414.2,1076.1 417.5,1076.0 420.7,1075.9 424.0,1075.9 427.2,1075.8 430.5,1075.7 433.7,1075.6 437.0,1075.5 440.2,1075.4 443.5,1075.3 446.7,1075.2 449.9,1075.2 453.2,1075.1 456.4,1075.0 459.7,1074.9 462.9,1074.8 466.2,1074.7 469.4,1074.6 472.7,1074.5 475.9,1074.3 479.2,1074.2 482.4,1074.1 485.7,1074.0 488.9,1073.9 492.2,1073.8 495.4,1073.7 498.7,1073.5 501.9,1073.4 505.1,1073.3 508.4,1073.1 511.6,1073.0 514.9,1072.9 518.1,1072.7 521.4,1072.6 524.6,1072.5 527.9,1072.3 531.1,1072.2 534.4,1072.0 537.6,1071.9 540.9,1071.7 544.1,1071.6 547.4,1071.4 550.6,1071.2 553.8,1071.1 557.1,1070.9 560.3,1070.7 563.6,1070.5 566.8,1070.4 570.1,1070.2 573.3,1070.0 576.6,1069.8 579.8,1069.6 583.1,1069.4 586.3,1069.2 589.6,1069.0 592.8,1068.8 596.1,1068.6 599.3,1068.4 602.5,1068.2 605.8,1067.9 609.0,1067.7 612.3,1067.5 615.5,1067.2 618.8,1067.0 622.0,1066.8 625.3,1066.5 628.5,1066.3 631.8,1066.0 635.0,1065.7 638.3,1065.5 641.5,1065.2 644.8,1064.9 648.0,1064.6 651.3,1064.4 654.5,1064.1 657.7,1063.8 661.0,1063.5 664.2,1063.1 667.5,1062.8 670.7,1062.5 674.0,1062.2 677.2,1061.9 680.5,1061.5 683.7,1061.2 687.0,1060.8 690.2,1060.5 693.5,1060.1 696.7,1059.7 700.0,1059.4 703.2,1059.0 706.4,1058.6 709.7,1058.2 712.9,1057.8 716.2,1057.4 719.4,1057.0 722.7,1056.5 725.9,1056.1 729.2,1055.6 732.4,1055.2 735.7,1054.7 738.9,1054.3 742.2,1053.8 745.4,1053.3 748.7,1052.8 751.9,1052.3 755.1,1051.8 758.4,1051.3 761.6,1050.8 764.9,1050.2 768.1,1049.7 771.4,1049.1 774.6,1048.6 777.9,1048.0 781.1,1047.4 784.4,1046.8 787.6,1046.2 790.9,1045.6 794.1,1044.9 797.4,1044.3 800.6,1043.6 803.8,1043.0 807.1,1042.3 810.3,1041.6 813.6,1040.9 816.8,1040.2 820.1,1039.5 823.3,1038.7 826.6,1038.0 829.8,1037.2 833.1,1036.4 836.3,1035.6 839.6,1034.8 842.8,1034.0 846.1,1033.2 849.3,1032.3 852.6,1031.5 855.8,1030.6 859.0,1029.7 862.3,1028.8 865.5,1027.9 868.8,1026.9 872.0,1026.0 875.3,1025.0 878.5,1024.0 881.8,1023.0 885.0,1022.0 888.3,1020.9 891.5,1019.9 894.8,1018.8 898.0,1017.7 901.3,1016.6 904.5,1015.4 907.7,1014.3 911.0,1013.1 914.2,1011.9 917.5,1010.7 920.7,1009.5 924.0,1008.2 927.2,1006.9 930.5,1005.6 933.7,1004.3 937.0,1003.0 940.2,1001.6 943.5,1000.2 946.7,998.8 950.0,997.4 953.2,995.9 956.4,994.4 959.7,992.9 962.9,991.4 966.2,989.8 969.4,988.3 972.7,986.6 975.9,985.0 979.2,983.3 982.4,981.7 985.7,979.9 988.9,978.2 992.2,976.4 995.4,974.6 998.7,972.8 1001.9,970.9 1005.1,969.1 1008.4,967.1 1011.6,965.2 1014.9,963.2 1018.1,961.2 1021.4,959.2 1024.6,957.1 1027.9,955.0 1031.1,952.8 1034.4,950.7 1037.6,948.5 1040.9,946.2 1044.1,943.9 1047.4,941.6 1050.6,939.3 1053.9,936.9 1057.1,934.5 1060.3,932.0 1063.6,929.6 1066.8,927.0 1070.1,924.5 1073.3,921.9 1076.6,919.2 1079.8,916.6 1083.1,913.8 1086.3,911.1 1089.6,908.3 1092.8,905.5 1096.1,902.6 1099.3,899.7 1102.6,896.7 1105.8,893.7 1109.0,890.7 1112.3,887.6 1115.5,884.5 1118.8,881.3 1122.0,878.1 1125.3,874.9 1128.5,871.6 1131.8,868.2 1135.0,864.9 1138.3,861.4 1141.5,858.0 1144.8,854.5 1148.0,850.9 1151.3,847.3 1154.5,843.7 1157.7,840.0 1161.0,836.2 1164.2,832.5 1167.5,828.6 1170.7,824.8 1174.0,820.8 1177.2,816.9 1180.5,812.9 1183.7,808.8 1187.0,804.7 1190.2,800.6 1193.5,796.4 1196.7,792.1 1200.0,787.8 1203.2,783.5 1206.5,779.1 1209.7,774.7 1212.9,770.3 1216.2,765.8 1219.4,761.2 1222.7,756.6 1225.9,752.0 1229.2,747.3 1232.4,742.6 1235.7,737.8 1238.9,733.0 1242.2,728.2 1245.4,723.3 1248.7,718.3 1251.9,713.4 1255.2,708.4 1258.4,703.3 1261.6,698.2 1264.9,693.1 1268.1,688.0 1271.4,682.8 1274.6,677.5 1277.9,672.3 1281.1,667.0 1284.4,661.7 1287.6,656.3 1290.9,650.9 1294.1,645.5 1297.4,640.1 1300.6,634.6 1303.9,629.2 1307.1,623.6 1310.3,618.1 1313.6,612.6 1316.8,607.0 1320.1,601.4 1323.3,595.8 1326.6,590.2 1329.8,584.6 1333.1,578.9 1336.3,573.3 1339.6,567.6 1342.8,562.0 1346.1,556.3 1349.3,550.6 1352.6,545.0 1355.8,539.3 1359.0,533.6 1362.3,528.0 1365.5,522.3 1368.8,516.7 1372.0,511.1 1375.3,505.5 1378.5,499.9 1381.8,494.3 1385.0,488.8 1388.3,483.2 1391.5,477.7 1394.8,472.2 1398.0,466.8 1401.3,461.4 1404.5,456.0 1407.8,450.7 1411.0,445.3 1414.2,440.1 1417.5,434.9 1420.7,429.7 1424.0,424.5 1427.2,419.5 1430.5,414.4 1433.7,409.5 1437.0,404.5 1440.2,399.7 1443.5,394.9 1446.7,390.1 1450.0,385.5 1453.2,380.8 1456.5,376.3 1459.7,371.8 1462.9,367.4 1466.2,363.1 1469.4,358.8 1472.7,354.7 1475.9,350.5 1479.2,346.5 1482.4,342.6 1485.7,338.7 1488.9,334.9 1492.2,331.2 1495.4,327.6 1498.7,324.1 1501.9,320.6 1505.2,317.3 1508.4,314.0 1511.6,310.8 1514.9,307.7 1518.1,304.7 1521.4,301.8 1524.6,298.9 1527.9,296.2 1531.1,293.5 1534.4,291.0 1537.6,288.5 1540.9,286.1 1544.1,283.8 1547.4,281.5 1550.6,279.4 1553.9,277.3 1557.1,275.3 1560.4,273.4 1563.6,271.6 1566.8,269.8 1570.1,268.2 1573.3,266.6 1576.6,265.0 1579.8,263.6 1583.1,262.2 1586.3,260.9 1589.6,259.6 1592.8,258.5 1596.1,257.3 1599.3,256.3 1602.6,255.3 1605.8,254.3 1609.1,253.5 1612.3,252.6 1615.5,251.8 1618.8,251.1 1622.0,250.4 1625.3,249.8 1628.5,249.2 1631.8,248.6 1635.0,248.1 1638.3,247.6 1641.5,247.2 1644.8,246.8 1648.0,246.4 1651.3,246.0 1654.5,245.7 1657.8,245.4 1661.0,245.1 1664.2,244.9 1667.5,244.7 1670.7,244.5 1674.0,244.3 1677.2,244.1 1680.5,243.9 1683.7,243.8 1687.0,243.7 1690.2,243.6 1693.5,243.5 1696.7,243.4 1700.0,243.3 1703.2,243.2 1706.5,243.2 1709.7,243.1 1712.9,243.0 1716.2,243.0 1719.4,243.0 1722.7,242.9 1725.9,242.9 1729.2,242.9 1732.4,242.8 1735.7,242.8 1738.9,242.8 1742.2,242.8 1745.4,242.8 1748.7,242.8 1751.9,242.8 1755.2,242.8 1758.4,242.7 1761.7,242.7 1764.9,242.7 1768.1,242.7 1771.4,242.7 1774.6,242.7 1777.9,242.7 1781.1,242.7 1784.4,242.7 1787.6,242.7 1790.9,242.7 1794.1,242.7 1797.4,242.7 1800.6,242.7 1803.9,242.7 1807.1,242.7 1810.4,242.7 1813.6,242.7 1816.8,242.7 1820.1,242.7"/><polyline stroke="#ff0000" points="196.7,1079.5 199.9,1079.4 203.2,1079.4 206.4,1079.4 209.7,1079.4 212.9,1079.4 216.2,1079.3 219.4,1079.3 222.7,1079.3 225.9,1079.3 229.2,1079.2 232.4,1079.2 235.7,1079.2 238.9,1079.2 242.2,1079.1 245.4,1079.1 248.6,1079.1 251.9,1079.1 255.1,1079.0 258.4,1079.0 261.6,1079.0 264.9,1078.9 268.1,1078.9 271.4,1078.9 274.6,1078.9 277.9,1078.8 281.1,1078.8 284.4,1078.8 287.6,1078.7 290.9,1078.7 294.1,1078.7 297.4,1078.6 300.6,1078.6 303.8,1078.5 307.1,1078.5 310.3,1078.5 313.6,1078.4 316.8,1078.4 320.1,1078.3 323.3,1078.3 326.6,1078.3 329.8,1078.2 333.1,1078.2 336.3,1078.1 339.6,1078.1 342.8,1078.0 346.1,1078.0 349.3,1078.0 352.5,1077.9 355.8,1077.9 359.0,1077.8 362.3,1077.8 365.5,1077.7 368.8,1077.6 372.0,1077.6 375.3,1077.5 378.5,1077.5 381.8,1077.4 385.0,1077.4 388.3,1077.3 391.5,1077.2 394.8,1077.2 398.0,1077.1 401.2,1077.1 404.5,1077.0 407.7,1076.9 411.0,1076.9 414.2,1076.8 417.5,1076.7 420.7,1076.6 424.0,1076.6 427.2,1076.5 430.5,1076.4 433.7,1076.3 437.0,1076.3 440.2,1076.2 443.5,1076.1 446.7,1076.0 449.9,1075.9 453.2,1075.9 456.4,1075.8 459.7,1075.7 462.9,1075.6 466.2,1075.5 469.4,1075.4 472.7,1075.3 475.9,1075.2 479.2,1075.1 482.4,1075.0 485.7,1074.9 488.9,1074.8 492.2,1074.7 495.4,1074.6 498.7,1074.5 501.9,1074.4 505.1,1074.2 508.4,1074.1 511.6,1074.0 514.9,1073.9 518.1,1073.8 521.4,1073.6 524.6,1073.5 527.9,1073.4 531.1,1073.3 534.4,1073.1 537.6,1073.0 540.9,1072.8 544.1,1072.7 547.4,1072.5 550.6,1072.4 553.8,1072.2 557.1,1072.1 560.3,1071.9 563.6,1071.8 566.8,1071.6 570.1,1071.5 573.3,1071.3 576.6,1071.1 579.8,1070.9 583.1,1070.8 586.3,1070.6 589.6,1070.4 592.8,1070.2 596.1,1070.0 599.3,1069.8 602.5,1069.6 605.8,1069.4 609.0,1069.2 612.3,1069.0 615.5,1068.8 618.8,1068.6 622.0,1068.4 625.3,1068.1 628.5,1067.9 631.8,1067.7 635.0,1067.4 638.3,1067.2 641.5,1066.9 644.8,1066.7 648.0,1066.4 651.3,1066.2 654.5,1065.9 657.7,1065.6 661.0,1065.4 664.2,1065.1 667.5,1064.8 670.7,1064.5 674.0,1064.2 677.2,1063.9 680.5,1063.6 683.7,1063.3 687.0,1063.0 690.2,1062.7 693.5,1062.3 696.7,1062.0 700.0,1061.7 703.2,1061.3 706.4,1061.0 709.7,1060.6 712.9,1060.2 716.2,1059.9 719.4,1059.5 722.7,1059.1 725.9,1058.7 729.2,1058.3 732.4,1057.9 735.7,1057.5 738.9,1057.0 742.2,1056.6 745.4,1056.2 748.7,1055.7 751.9,1055.3 755.1,1054.8 758.4,1054.3 761.6,1053.9 764.9,1053.4 768.1,1052.9 771.4,1052.4 774.6,1051.9 777.9,1051.3 781.1,1050.8 784.4,1050.3 787.6,1049.7 790.9,1049.2 794.1,1048.6 797.4,1048.0 800.6,1047.4 803.8,1046.8 807.1,1046.2 810.3,1045.6 813.6,1044.9 816.8,1044.3 820.1,1043.6 823.3,1043.0 826.6,1042.3 829.8,1041.6 833.1,1040.9 836.3,1040.2 839.6,1039.4 842.8,1038.7 846.1,1037.9 849.3,1037.2 852.6,1036.4 855.8,1035.6 859.0,1034.8 862.3,1033.9 865.5,1033.1 868.8,1032.2 872.0,1031.4 875.3,1030.5 878.5,1029.6 881.8,1028.7 885.0,1027.7 888.3,1026.8 891.5,1025.8 894.8,1024.8 898.0,1023.8 901.3,1022.8 904.5,1021.8 907.7,1020.7 911.0,1019.7 914.2,1018.6 917.5,1017.5 920.7,1016.4 924.0,1015.2 927.2,1014.0 930.5,1012.9 933.7,1011.7 937.0,1010.4 940.2,1009.2 943.5,1007.9 946.7,1006.6 950.0,1005.3 953.2,1004.0 956.4,1002.6 959.7,1001.3 962.9,999.9 966.2,998.4 969.4,997.0 972.7,995.5 975.9,994.0 979.2,992.5 982.4,991.0 985.7,989.4 988.9,987.8 992.2,986.2 995.4,984.5 998.7,982.9 1001.9,981.2 1005.1,979.4 1008.4,977.7 1011.6,975.9 1014.9,974.1 1018.1,972.2 1021.4,970.4 1024.6,968.5 1027.9,966.5 1031.1,964.6 1034.4,962.6 1037.6,960.6 1040.9,958.5 1044.1,956.4 1047.4,954.3 1050.6,952.1 1053.9,949.9 1057.1,947.7 1060.3,945.5 1063.6,943.2 1066.8,940.9 1070.1,938.5 1073.3,936.1 1076.6,933.7 1079.8,931.2 1083.1,928.7 1086.3,926.2 1089.6,923.6 1092.8,921.0 1096.1,918.3 1099.3,915.6 1102.6,912.9 1105.8,910.1 1109.0,907.3 1112.3,904.4 1115.5,901.6 1118.8,898.6 1122.0,895.7 1125.3,892.6 1128.5,889.6 1131.8,886.5 1135.0,883.3 1138.3,880.2 1141.5,876.9 1144.8,873.7 1148.0,870.3 1151.3,867.0 1154.5,863.6 1157.7,860.1 1161.0,856.7 1164.2,853.1 1167.5,849.6 1170.7,845.9 1174.0,842.3 1177.2,838.6 1180.5,834.8 1183.7,831.0 1187.0,827.1 1190.2,823.2 1193.5,819.3 1196.7,815.3 1200.0,811.3 1203.2,807.2 1206.5,803.1 1209.7,798.9 1212.9,794.7 1216.2,790.5 1219.4,786.2 1222.7,781.8 1225.9,777.4 1229.2,773.0 1232.4,768.5 1235.7,764.0 1238.9,759.4 1242.2,754.8 1245.4,750.1 1248.7,745.4 1251.9,740.7 1255.2,735.9 1258.4,731.1 1261.6,726.2 1264.9,721.3 1268.1,716.3 1271.4,711.3 1274.6,706.3 1277.9,701.3 1281.1,696.2 1284.4,691.0 1287.6,685.8 1290.9,680.6 1294.1,675.4 1297.4,670.1 1300.6,664.8 1303.9,659.5 1307.1,654.1 1310.3,648.7 1313.6,643.3 1316.8,637.8 1320.1,632.4 1323.3,626.9 1326.6,621.4 1329.8,615.8 1333.1,610.3 1336.3,604.7 1339.6,599.1 1342.8,593.5 1346.1,587.9 1349.3,582.2 1352.6,576.6 1355.8,570.9 1359.0,565.3 1362.3,559.6 1365.5,553.9 1368.8,548.3 1372.0,542.6 1375.3,536.9 1378.5,531.3 1381.8,525.6 1385.0,520.0 1388.3,514.3 1391.5,508.7 1394.8,503.1 1398.0,497.5 1401.3,492.0 1404.5,486.4 1407.8,480.9 1411.0,475.4 1414.2,469.9 1417.5,464.5 1420.7,459.1 1424.0,453.7 1427.2,448.4 1430.5,443.1 1433.7,437.9 1437.0,432.6 1440.2,427.5 1443.5,422.4 1446.7,417.3 1450.0,412.3 1453.2,407.4 1456.5,402.5 1459.7,397.6 1462.9,392.8 1466.2,388.1 1469.4,383.5 1472.7,378.9 1475.9,374.4 1479.2,369.9 1482.4,365.6 1485.7,361.3 1488.9,357.0 1492.2,352.9 1495.4,348.8 1498.7,344.8 1501.9,340.9 1505.2,337.1 1508.4,333.3 1511.6,329.7 1514.9,326.1 1518.1,322.6 1521.4,319.2 1524.6,315.9 1527.9,312.6 1531.1,309.5 1534.4,306.4 1537.6,303.4 1540.9,300.6 1544.1,297.8 1547.4,295.0 1550.6,292.4 1553.9,289.9 1557.1,287.4 1560.4,285.1 1563.6,282.8 1566.8,280.6 1570.1,278.5 1573.3,276.4 1576.6,274.5 1579.8,272.6 1583.1,270.8 1586.3,269.1 1589.6,267.5 1592.8,265.9 1596.1,264.4 1599.3,263.0 1602.6,261.6 1605.8,260.3 1609.1,259.1 1612.3,258.0 1615.5,256.9 1618.8,255.8 1622.0,254.9 1625.3,253.9 1628.5,253.1 1631.8,252.3 1635.0,251.5 1638.3,250.8 1641.5,250.1 1644.8,249.5 1648.0,248.9 1651.3,248.4 1654.5,247.9 1657.8,247.4 1661.0,247.0 1664.2,246.6 1667.5,246.2 1670.7,245.9 1674.0,245.6 1677.2,245.3 1680.5,245.0 1683.7,244.8 1687.0,244.6 1690.2,244.4 1693.5,244.2 1696.7,244.0 1700.0,243.9 1703.2,243.7 1706.5,243.6 1709.7,243.5 1712.9,243.4 1716.2,243.3 1719.4,243.3 1722.7,243.2 1725.9,243.1 1729.2,243.1 1732.4,243.0 1735.7,243.0 1738.9,242.9 1742.2,242.9 1745.4,242.9 1748.7,242.9 1751.9,242.8 1755.2,242.8 1758.4,242.8 1761.7,242.8 1764.9,242.8 1768.1,242.8 1771.4,242.8 1774.6,242.8 1777.9,242.7 1781.1,242.7 1784.4,242.7 1787.6,242.7 1790.9,242.7 1794.1,242.7 1797.4,242.7 1800.6,242.7 1803.9,242.7 1807.1,242.7 1810.4,242.7 1813.6,242.7 1816.8,242.7 1820.1,242.7"/><polyline stroke="#000000" points="196.7,1080.5 199.9,1080.5 203.2,1080.4 206.4,1080.4 209.7,1080.4 212.9,1080.4 216.2,1080.4 219.4,1080.4 222.7,1080.3 225.9,1080.3 229.2,1080.3 232.4,1080.3 235.7,1080.3 238.9,1080.2 242.2,1080.2 245.4,1080.2 248.6,1080.2 251.9,1080.2 255.1,1080.1 258.4,1080.1 261.6,1080.1 264.9,1080.1 268.1,1080.1 271.4,1080.0 274.6,1080.0 277.9,1080.0 281.1,1080.0 284.4,1079.9 287.6,1079.9 290.9,1079.9 294.1,1079.9 297.4,1079.8 300.6,1079.8 303.8,1079.8 307.1,1079.8 310.3,1079.7 313.6,1079.7 316.8,1079.7 320.1,1079.6 323.3,1079.6 326.6,1079.6 329.8,1079.5 333.1,1079.5 336.3,1079.5 339.6,1079.5 342.8,1079.4 346.1,1079.4 349.3,1079.3 352.5,1079.3 355.8,1079.3 359.0,1079.2 362.3,1079.2 365.5,1079.2 368.8,1079.1 372.0,1079.1 375.3,1079.0 378.5,1079.0 381.8,1079.0 385.0,1078.9 388.3,1078.9 391.5,1078.8 394.8,1078.8 398.0,1078.7 401.2,1078.7 404.5,1078.6 407.7,1078.6 411.0,1078.5 414.2,1078.5 417.5,1078.4 420.7,1078.4 424.0,1078.3 427.2,1078.3 430.5,1078.2 433.7,1078.2 437.0,1078.1 440.2,1078.0 443.5,1078.0 446.7,1077.9 449.9,1077.9 453.2,1077.8 456.4,1077.7 459.7,1077.7 462.9,1077.6 466.2,1077.5 469.4,1077.5 472.7,1077.4 475.9,1077.3 479.2,1077.2 482.4,1077.2 485.7,1077.1 488.9,1077.0 492.2,1076.9 495.4,1076.9 498.7,1076.8 501.9,1076.7 505.1,1076.6 508.4,1076.5 511.6,1076.4 514.9,1076.3 518.1,1076.2 521.4,1076.2 524.6,1076.1 527.9,1076.0 531.1,1075.9 534.4,1075.8 537.6,1075.7 540.9,1075.6 544.1,1075.5 547.4,1075.3 550.6,1075.2 553.8,1075.1 557.1,1075.0 560.3,1074.9 563.6,1074.8 566.8,1074.7 570.1,1074.5 573.3,1074.4 576.6,1074.3 579.8,1074.2 583.1,1074.0 586.3,1073.9 589.6,1073.8 592.8,1073.6 596.1,1073.5 599.3,1073.3 602.5,1073.2 605.8,1073.0 609.0,1072.9 612.3,1072.7 615.5,1072.6 618.8,1072.4 622.0,1072.2 625.3,1072.1 628.5,1071.9 631.8,1071.7 635.0,1071.6 638.3,1071.4 641.5,1071.2 644.8,1071.0 648.0,1070.8 651.3,1070.6 654.5,1070.4 657.7,1070.2 661.0,1070.0 664.2,1069.8 667.5,1069.6 670.7,1069.4 674.0,1069.2 677.2,1068.9 680.5,1068.7 683.7,1068.5 687.0,1068.2 690.2,1068.0 693.5,1067.8 696.7,1067.5 700.0,1067.3 703.2,1067.0 706.4,1066.7 709.7,1066.5 712.9,1066.2 716.2,1065.9 719.4,1065.6 722.7,1065.4 725.9,1065.1 729.2,1064.8 732.4,1064.5 735.7,1064.1 738.9,1063.8 742.2,1063.5 745.4,1063.2 748.7,1062.9 751.9,1062.5 755.1,1062.2 758.4,1061.8 761.6,1061.5 764.9,1061.1 768.1,1060.7 771.4,1060.4 774.6,1060.0 777.9,1059.6 781.1,1059.2 784.4,1058.8 787.6,1058.4 790.9,1057.9 794.1,1057.5 797.4,1057.1 800.6,1056.6 803.8,1056.2 807.1,1055.7 810.3,1055.3 813.6,1054.8 816.8,1054.3 820.1,1053.8 823.3,1053.3 826.6,1052.8 829.8,1052.3 833.1,1051.8 836.3,1051.2 839.6,1050.7 842.8,1050.1 846.1,1049.5 849.3,1049.0 852.6,1048.4 855.8,1047.8 859.0,1047.2 862.3,1046.6 865.5,1045.9 868.8,1045.3 872.0,1044.6 875.3,1044.0 878.5,1043.3 881.8,1042.6 885.0,1041.9 888.3,1041.2 891.5,1040.5 894.8,1039.7 898.0,1039.0 901.3,1038.2 904.5,1037.4 907.7,1036.6 911.0,1035.8 914.2,1035.0 917.5,1034.2 920.7,1033.3 924.0,1032.5 927.2,1031.6 930.5,1030.7 933.7,1029.8 937.0,1028.9 940.2,1027.9 943.5,1027.0 946.7,1026.0 950.0,1025.0 953.2,1024.0 956.4,1023.0 959.7,1021.9 962.9,1020.9 966.2,1019.8 969.4,1018.7 972.7,1017.6 975.9,1016.4 979.2,1015.3 982.4,1014.1 985.7,1012.9 988.9,1011.7 992.2,1010.4 995.4,1009.2 998.7,1007.9 1001.9,1006.6 1005.1,1005.3 1008.4,1004.0 1011.6,1002.6 1014.9,1001.2 1018.1,999.8 1021.4,998.4 1024.6,996.9 1027.9,995.4 1031.1,993.9 1034.4,992.4 1037.6,990.8 1040.9,989.2 1044.1,987.6 1047.4,986.0 1050.6,984.3 1053.9,982.6 1057.1,980.9 1060.3,979.2 1063.6,977.4 1066.8,975.6 1070.1,973.8 1073.3,971.9 1076.6,970.0 1079.8,968.1 1083.1,966.2 1086.3,964.2 1089.6,962.2 1092.8,960.1 1096.1,958.0 1099.3,955.9 1102.6,953.8 1105.8,951.6 1109.0,949.4 1112.3,947.2 1115.5,944.9 1118.8,942.6 1122.0,940.2 1125.3,937.9 1128.5,935.5 1131.8,933.0 1135.0,930.5 1138.3,928.0 1141.5,925.4 1144.8,922.8 1148.0,920.2 1151.3,917.5 1154.5,914.8 1157.7,912.0 1161.0,909.2 1164.2,906.4 1167.5,903.5 1170.7,900.6 1174.0,897.7 1177.2,894.7 1180.5,891.6 1183.7,888.5 1187.0,885.4 1190.2,882.3 1193.5,879.1 1196.7,875.8 1200.0,872.5 1203.2,869.2 1206.5,865.8 1209.7,862.4 1212.9,858.9 1216.2,855.4 1219.4,851.8 1222.7,848.2 1225.9,844.6 1229.2,840.9 1232.4,837.1 1235.7,833.4 1238.9,829.5 1242.2,825.6 1245.4,821.7 1248.7,817.8 1251.9,813.7 1255.2,809.7 1258.4,805.6 1261.6,801.4 1264.9,797.2 1268.1,793.0 1271.4,788.7 1274.6,784.4 1277.9,780.0 1281.1,775.6 1284.4,771.1 1287.6,766.6 1290.9,762.1 1294.1,757.5 1297.4,752.8 1300.6,748.1 1303.9,743.4 1307.1,738.6 1310.3,733.8 1313.6,729.0 1316.8,724.1 1320.1,719.2 1323.3,714.2 1326.6,709.2 1329.8,704.1 1333.1,699.0 1336.3,693.9 1339.6,688.8 1342.8,683.6 1346.1,678.3 1349.3,673.1 1352.6,667.8 1355.8,662.4 1359.0,657.1 1362.3,651.7 1365.5,646.3 1368.8,640.8 1372.0,635.4 1375.3,629.9 1378.5,624.4 1381.8,618.8 1385.0,613.3 1388.3,607.7 1391.5,602.1 1394.8,596.5 1398.0,590.9 1401.3,585.3 1404.5,579.6 1407.8,574.0 1411.0,568.3 1414.2,562.6 1417.5,557.0 1420.7,551.3 1424.0,545.6 1427.2,539.9 1430.5,534.3 1433.7,528.6 1437.0,523.0 1440.2,517.3 1443.5,511.7 1446.7,506.1 1450.0,500.5 1453.2,494.9 1456.5,489.3 1459.7,483.8 1462.9,478.3 1466.2,472.8 1469.4,467.3 1472.7,461.9 1475.9,456.5 1479.2,451.2 1482.4,445.9 1485.7,440.6 1488.9,435.3 1492.2,430.2 1495.4,425.0 1498.7,419.9 1501.9,414.9 1505.2,409.9 1508.4,405.0 1511.6,400.1 1514.9,395.3 1518.1,390.5 1521.4,385.9 1524.6,381.2 1527.9,376.7 1531.1,372.2 1534.4,367.8 1537.6,363.4 1540.9,359.2 1544.1,355.0 1547.4,350.9 1550.6,346.8 1553.9,342.9 1557.1,339.0 1560.4,335.2 1563.6,331.5 1566.8,327.9 1570.1,324.4 1573.3,320.9 1576.6,317.5 1579.8,314.3 1583.1,311.1 1586.3,308.0 1589.6,304.9 1592.8,302.0 1596.1,299.2 1599.3,296.4 1602.6,293.7 1605.8,291.1 1609.1,288.6 1612.3,286.2 1615.5,283.9 1618.8,281.7 1622.0,279.5 1625.3,277.4 1628.5,275.4 1631.8,273.5 1635.0,271.7 1638.3,269.9 1641.5,268.3 1644.8,266.7 1648.0,265.1 1651.3,263.7 1654.5,262.3 1657.8,261.0 1661.0,259.7 1664.2,258.5 1667.5,257.4 1670.7,256.4 1674.0,255.3 1677.2,254.4 1680.5,253.5 1683.7,252.7 1687.0,251.9 1690.2,251.1 1693.5,250.5 1696.7,249.8 1700.0,249.2 1703.2,248.7 1706.5,248.1 1709.7,247.6 1712.9,247.2 1716.2,246.8 1719.4,246.4 1722.7,246.0 1725.9,245.7 1729.2,245.4 1732.4,245.2 1735.7,244.9 1738.9,244.7 1742.2,244.5 1745.4,244.3 1748.7,244.1 1751.9,243.9 1755.2,243.8 1758.4,243.7 1761.7,243.6 1764.9,243.5 1768.1,243.4 1771.4,243.3 1774.6,243.2 1777.9,243.2 1781.1,243.1 1784.4,243.0 1787.6,243.0 1790.9,243.0 1794.1,242.9 1797.4,242.9 1800.6,242.9 1803.9,242.8 1807.1,242.8 1810.4,242.8 1813.6,242.8 1816.8,242.8 1820.1,242.8"/></g>
<rect x="196.7" y="74.6" width="2032.8" height="1008.6999999999999" fill="none" stroke="#000" stroke-width="3" />
<g stroke="#000" stroke-width="3"><line x1="196.7" y1="1083.3" x2="196.7" y2="1097.8"/><line x1="603.3" y1="1083.3" x2="603.3" y2="1097.8"/><line x1="1009.8" y1="1083.3" x2="1009.8" y2="1097.8"/><line x1="1416.4" y1="1083.3" x2="1416.4" y2="1097.8"/><line x1="1822.9" y1="1083.3" x2="1822.9" y2="1097.8"/><line x1="2229.5" y1="1083.3" x2="2229.5" y2="1097.8"/><line x1="196.7" y1="1083.3" x2="182.2" y2="1083.3"/><line x1="196.7" y1="915.2" x2="182.2" y2="915.2"/><line x1="196.7" y1="747.1" x2="182.2" y2="747.1"/><line x1="196.7" y1="578.9" x2="182.2" y2="578.9"/><line x1="196.7" y1="410.8" x2="182.2" y2="410.8"/><line x1="196.7" y1="242.7" x2="182.2" y2="242.7"/><line x1="196.7" y1="74.6" x2="182.2" y2="74.6"/></g>
<g stroke="#000" stroke-width="2.2"><line x1="319.1" y1="1083.3" x2="319.1" y2="1092.3"/><line x1="390.7" y1="1083.3" x2="390.7" y2="1092.3"/><line x1="441.5" y1="1083.3" x2="441.5" y2="1092.3"/><line x1="480.9" y1="1083.3" x2="480.9" y2="1092.3"/><line x1="513.1" y1="1083.3" x2="513.1" y2="1092.3"/><line x1="540.3" y1="1083.3" x2="540.3" y2="1092.3"/><line x1="563.9" y1="1083.3" x2="563.9" y2="1092.3"/><line x1="584.7" y1="1083.3" x2="584.7" y2="1092.3"/><line x1="725.6" y1="1083.3" x2="725.6" y2="1092.3"/><line x1="797.2" y1="1083.3" x2="797.2" y2="1092.3"/><line x1="848.0" y1="1083.3" x2="848.0" y2="1092.3"/><line x1="887.4" y1="1083.3" x2="887.4" y2="1092.3"/><line x1="919.6" y1="1083.3" x2="919.6" y2="1092.3"/><line x1="946.8" y1="1083.3" x2="946.8" y2="1092.3"/><line x1="970.4" y1="1083.3" x2="970.4" y2="1092.3"/><line x1="991.2" y1="1083.3" x2="991.2" y2="1092.3"/><line x1="1132.2" y1="1083.3" x2="1132.2" y2="1092.3"/><line x1="1203.8" y1="1083.3" x2="1203.8" y2="1092.3"/><line x1="1254.6" y1="1083.3" x2="1254.6" y2="1092.3"/><line x1="1294.0" y1="1083.3" x2="1294.0" y2="1092.3"/><line x1="1326.2" y1="1083.3" x2="1326.2" y2="1092.3"/><line x1="1353.4" y1="1083.3" x2="1353.4" y2="1092.3"/><line x1="1377.0" y1="1083.3" x2="1377.0" y2="1092.3"/><line x1="1397.8" y1="1083.3" x2="1397.8" y2="1092.3"/><line x1="1538.8" y1="1083.3" x2="1538.8" y2="1092.3"/><line x1="1610.4" y1="1083.3" x2="1610.4" y2="1092.3"/><line x1="1661.2" y1="1083.3" x2="1661.2" y2="1092.3"/><line x1="1700.6" y1="1083.3" x2="1700.6" y2="1092.3"/><line x1="1732.7" y1="1083.3" x2="1732.7" y2="1092.3"/><line x1="1760.0" y1="1083.3" x2="1760.0" y2="1092.3"/><line x1="1783.5" y1="1083.3" x2="1783.5" y2="1092.3"/><line x1="1804.3" y1="1083.3" x2="1804.3" y2="1092.3"/><line x1="1945.3" y1="1083.3" x2="1945.3" y2="1092.3"/><line x1="2016.9" y1="1083.3" x2="2016.9" y2="1092.3"/><line x1="2067.7" y1="1083.3" x2="2067.7" y2="1092.3"/><line x1="2107.1" y1="1083.3" x2="2107.1" y2="1092.3"/><line x1="2139.3" y1="1083.3" x2="2139.3" y2="1092.3"/><line x1="2166.5" y1="1083.3" x2="2166.5" y2="1092.3"/><line x1="2190.1" y1="1083.3" x2="2190.1" y2="1092.3"/><line x1="2210.9" y1="1083.3" x2="2210.9" y2="1092.3"/></g>
<text x="168.6" y="1095.6" font-size="37" text-anchor="end">0.0</text><text x="168.6" y="928.0" font-size="37" text-anchor="end">0.2</text><text x="168.6" y="760.4" font-size="37" text-anchor="end">0.4</text><text x="168.6" y="592.7" font-size="37" text-anchor="end">0.6</text><text x="168.6" y="425.1" font-size="37" text-anchor="end">0.8</text><text x="168.6" y="257.5" font-size="37" text-anchor="end">1.0</text><text x="168.6" y="89.9" font-size="37" text-anchor="end">1.2</text>
<text x="153.9" y="1147.8" font-size="37" textLength="45.8" lengthAdjust="spacing">10</text><text x="200.9" y="1134.0" font-size="30" textLength="39.2" lengthAdjust="spacing">−2</text><text x="560.5" y="1147.8" font-size="37" textLength="45.8" lengthAdjust="spacing">10</text><text x="607.5" y="1134.0" font-size="30" textLength="38.9" lengthAdjust="spacing">−1</text><text x="974.3" y="1147.8" font-size="37" textLength="47.2" lengthAdjust="spacing">10</text><text x="1020.3" y="1134.0" font-size="30">0</text><text x="1380.8" y="1147.8" font-size="37" textLength="47.2" lengthAdjust="spacing">10</text><text x="1426.9" y="1134.0" font-size="30">1</text><text x="1787.4" y="1147.8" font-size="37" textLength="47.2" lengthAdjust="spacing">10</text><text x="1833.5" y="1134.0" font-size="30">2</text><text x="2193.9" y="1147.8" font-size="37" textLength="47.2" lengthAdjust="spacing">10</text><text x="2240.0" y="1134.0" font-size="30">3</text>
<text x="1158.6" y="51.2" font-size="44.4" textLength="105.2" lengthAdjust="spacing">LWD</text>
<text x="1157.3" y="1215.8" font-size="51.8" textLength="111.1" lengthAdjust="spacing">LWP</text>
<text transform="translate(80.2,759.1) rotate(-90)" x="-5.1" y="0" font-size="51.8" textLength="366.4" lengthAdjust="spacing">LW emissivity</text>
<rect x="216.5" y="94.2" width="988" height="332" rx="8" ry="8" fill="#fff" fill-opacity="0.8" stroke="#ccc" stroke-width="3.2"/>
<g stroke-width="5.5" stroke-linecap="butt"><line x1="228.2" y1="131.2" x2="310.4" y2="131.2" stroke="#0000ff"/><line x1="228.2" y1="199.6" x2="310.4" y2="199.6" stroke="#008000"/><line x1="228.2" y1="268.2" x2="310.4" y2="268.2" stroke="#ff0000"/><line x1="228.2" y1="331.3" x2="310.4" y2="331.3" stroke="#000000"/></g>
<circle cx="270.5" cy="393.6" r="4.3" fill="#808080"/>
<text class="it" x="341.2" y="145.0" font-size="37">E</text><text class="it" x="362.3" y="150.2" font-size="26.5">c</text><text class="it" x="379.4" y="150.2" font-size="26.5">l</text><text class="it" x="385.6" y="150.2" font-size="26.5" textLength="18.9" lengthAdjust="spacing">D</text><text x="418.1" y="145.0" font-size="37">:</text><text x="444.7" y="145.0" font-size="37" textLength="243.4" lengthAdjust="spacing">1-exp(-0.158</text><text x="692.9" y="139.9" font-size="21.5">∙</text><text x="708.6" y="145.0" font-size="37" textLength="96.6" lengthAdjust="spacing">LWP)</text>
<text class="it" x="341.2" y="213.5" font-size="37">E</text><text class="it" x="362.3" y="218.7" font-size="26.5">c</text><text class="it" x="379.4" y="218.7" font-size="26.5">l</text><text class="it" x="385.6" y="218.7" font-size="26.5" textLength="18.3" lengthAdjust="spacing">H</text><text x="418.1" y="213.5" font-size="37">:</text><text x="444.7" y="213.5" font-size="37" textLength="242.9" lengthAdjust="spacing">1-exp(-0.144</text><text x="692.9" y="208.4" font-size="21.5">∙</text><text x="708.6" y="213.5" font-size="37" textLength="96.6" lengthAdjust="spacing">LWP)</text>
<text class="it" x="341.2" y="281.6" font-size="37">E</text><text class="it" x="362.3" y="286.8" font-size="26.5">c</text><text class="it" x="379.4" y="286.8" font-size="26.5">l</text><text class="it" x="384.8" y="286.8" font-size="26.5" textLength="18.9" lengthAdjust="spacing">U</text><text x="418.1" y="281.6" font-size="37">:</text><text x="444.7" y="281.6" font-size="37" textLength="243.3" lengthAdjust="spacing">1-exp(-0.130</text><text x="692.9" y="276.5" font-size="21.5">∙</text><text x="708.6" y="281.6" font-size="37" textLength="96.6" lengthAdjust="spacing">LWP)</text>
<text x="336.8" y="342.2" font-size="37" textLength="478.7" lengthAdjust="spacing">Least-square fit Cabauw:</text><text x="828.1" y="342.2" font-size="37" textLength="243.5" lengthAdjust="spacing">1-exp(-0.096</text><text x="1074.1" y="336.7" font-size="21.5">∙</text><text x="1091.7" y="342.2" font-size="37" textLength="97.8" lengthAdjust="spacing">LWP)</text>
<text x="337.3" y="400.0" font-size="37" textLength="453.1" lengthAdjust="spacing">Cabauw measurements</text>
</svg></body></html>
